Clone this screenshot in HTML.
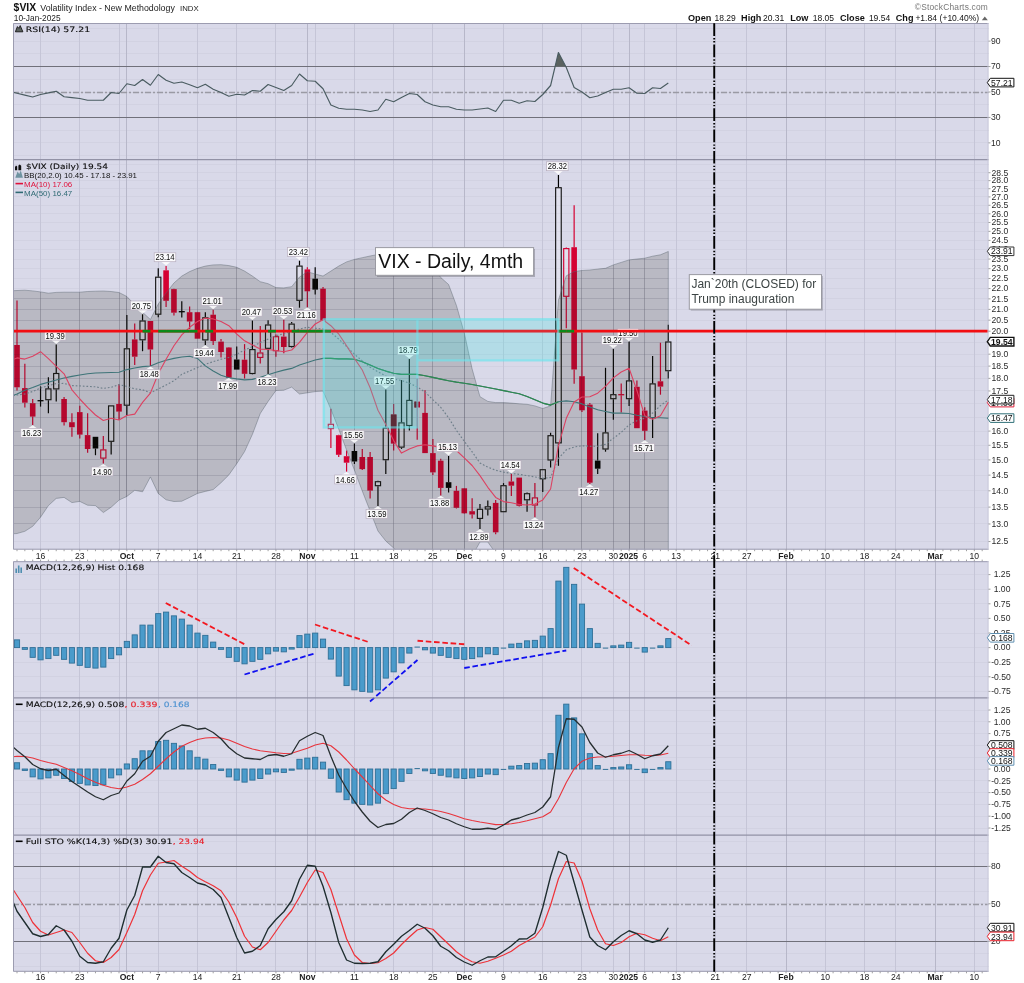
<!DOCTYPE html><html><head><meta charset="utf-8"><title>$VIX</title><style>html,body{margin:0;padding:0;background:#fff}svg{display:block;will-change:transform}</style></head><body><svg width="1024" height="983" viewBox="0 0 1024 983" font-family='"Liberation Sans", Arial, sans-serif'>
<rect width="1024" height="983" fill="#fff"/>
<defs>
<clipPath id="c_rsi"><rect x="13.0" y="23.0" width="975.5" height="137.0"/></clipPath>
<clipPath id="c_main"><rect x="13.0" y="160.0" width="975.5" height="389.6"/></clipPath>
<clipPath id="c_hp"><rect x="13.0" y="561.2" width="975.5" height="137.0"/></clipPath>
<clipPath id="c_mp"><rect x="13.0" y="698.2" width="975.5" height="137.0999999999999"/></clipPath>
<clipPath id="c_sp"><rect x="13.0" y="835.3" width="975.5" height="136.4000000000001"/></clipPath>
</defs>
<rect x="13.0" y="23.0" width="975.5" height="526.6" fill="#d9d9e9"/>
<rect x="13.0" y="561.2" width="975.5" height="410.5" fill="#d9d9e9"/>
<line x1="13.0" x2="988.5" y1="155.50" y2="155.50" stroke="#d2d2e2" stroke-width="1" />
<line x1="13.0" x2="988.5" y1="142.50" y2="142.50" stroke="#d2d2e2" stroke-width="1" />
<line x1="13.0" x2="988.5" y1="130.50" y2="130.50" stroke="#d2d2e2" stroke-width="1" />
<line x1="13.0" x2="988.5" y1="117.50" y2="117.50" stroke="#d2d2e2" stroke-width="1" />
<line x1="13.0" x2="988.5" y1="104.50" y2="104.50" stroke="#d2d2e2" stroke-width="1" />
<line x1="13.0" x2="988.5" y1="92.50" y2="92.50" stroke="#d2d2e2" stroke-width="1" />
<line x1="13.0" x2="988.5" y1="79.50" y2="79.50" stroke="#d2d2e2" stroke-width="1" />
<line x1="13.0" x2="988.5" y1="66.50" y2="66.50" stroke="#d2d2e2" stroke-width="1" />
<line x1="13.0" x2="988.5" y1="53.50" y2="53.50" stroke="#d2d2e2" stroke-width="1" />
<line x1="13.0" x2="988.5" y1="41.50" y2="41.50" stroke="#d2d2e2" stroke-width="1" />
<line x1="13.0" x2="988.5" y1="28.50" y2="28.50" stroke="#d2d2e2" stroke-width="1" />
<line x1="13.0" x2="988.5" y1="541.50" y2="541.50" stroke="#d2d2e2" stroke-width="1" />
<line x1="13.0" x2="988.5" y1="523.50" y2="523.50" stroke="#d2d2e2" stroke-width="1" />
<line x1="13.0" x2="988.5" y1="507.50" y2="507.50" stroke="#d2d2e2" stroke-width="1" />
<line x1="13.0" x2="988.5" y1="490.50" y2="490.50" stroke="#d2d2e2" stroke-width="1" />
<line x1="13.0" x2="988.5" y1="475.50" y2="475.50" stroke="#d2d2e2" stroke-width="1" />
<line x1="13.0" x2="988.5" y1="459.50" y2="459.50" stroke="#d2d2e2" stroke-width="1" />
<line x1="13.0" x2="988.5" y1="445.50" y2="445.50" stroke="#d2d2e2" stroke-width="1" />
<line x1="13.0" x2="988.5" y1="431.50" y2="431.50" stroke="#d2d2e2" stroke-width="1" />
<line x1="13.0" x2="988.5" y1="417.50" y2="417.50" stroke="#d2d2e2" stroke-width="1" />
<line x1="13.0" x2="988.5" y1="403.50" y2="403.50" stroke="#d2d2e2" stroke-width="1" />
<line x1="13.0" x2="988.5" y1="390.50" y2="390.50" stroke="#d2d2e2" stroke-width="1" />
<line x1="13.0" x2="988.5" y1="378.50" y2="378.50" stroke="#d2d2e2" stroke-width="1" />
<line x1="13.0" x2="988.5" y1="366.50" y2="366.50" stroke="#d2d2e2" stroke-width="1" />
<line x1="13.0" x2="988.5" y1="354.50" y2="354.50" stroke="#d2d2e2" stroke-width="1" />
<line x1="13.0" x2="988.5" y1="342.50" y2="342.50" stroke="#d2d2e2" stroke-width="1" />
<line x1="13.0" x2="988.5" y1="331.50" y2="331.50" stroke="#d2d2e2" stroke-width="1" />
<line x1="13.0" x2="988.5" y1="320.50" y2="320.50" stroke="#d2d2e2" stroke-width="1" />
<line x1="13.0" x2="988.5" y1="309.50" y2="309.50" stroke="#d2d2e2" stroke-width="1" />
<line x1="13.0" x2="988.5" y1="298.50" y2="298.50" stroke="#d2d2e2" stroke-width="1" />
<line x1="13.0" x2="988.5" y1="288.50" y2="288.50" stroke="#d2d2e2" stroke-width="1" />
<line x1="13.0" x2="988.5" y1="278.50" y2="278.50" stroke="#d2d2e2" stroke-width="1" />
<line x1="13.0" x2="988.5" y1="268.50" y2="268.50" stroke="#d2d2e2" stroke-width="1" />
<line x1="13.0" x2="988.5" y1="259.50" y2="259.50" stroke="#d2d2e2" stroke-width="1" />
<line x1="13.0" x2="988.5" y1="249.50" y2="249.50" stroke="#d2d2e2" stroke-width="1" />
<line x1="13.0" x2="988.5" y1="240.50" y2="240.50" stroke="#d2d2e2" stroke-width="1" />
<line x1="13.0" x2="988.5" y1="231.50" y2="231.50" stroke="#d2d2e2" stroke-width="1" />
<line x1="13.0" x2="988.5" y1="222.50" y2="222.50" stroke="#d2d2e2" stroke-width="1" />
<line x1="13.0" x2="988.5" y1="213.50" y2="213.50" stroke="#d2d2e2" stroke-width="1" />
<line x1="13.0" x2="988.5" y1="205.50" y2="205.50" stroke="#d2d2e2" stroke-width="1" />
<line x1="13.0" x2="988.5" y1="196.50" y2="196.50" stroke="#d2d2e2" stroke-width="1" />
<line x1="13.0" x2="988.5" y1="188.50" y2="188.50" stroke="#d2d2e2" stroke-width="1" />
<line x1="13.0" x2="988.5" y1="180.50" y2="180.50" stroke="#d2d2e2" stroke-width="1" />
<line x1="13.0" x2="988.5" y1="172.50" y2="172.50" stroke="#d2d2e2" stroke-width="1" />
<line x1="13.0" x2="988.5" y1="164.50" y2="164.50" stroke="#d2d2e2" stroke-width="1" />
<line x1="13.0" x2="988.5" y1="691.50" y2="691.50" stroke="#d2d2e2" stroke-width="1" />
<line x1="13.0" x2="988.5" y1="676.50" y2="676.50" stroke="#d2d2e2" stroke-width="1" />
<line x1="13.0" x2="988.5" y1="662.50" y2="662.50" stroke="#d2d2e2" stroke-width="1" />
<line x1="13.0" x2="988.5" y1="647.50" y2="647.50" stroke="#d2d2e2" stroke-width="1" />
<line x1="13.0" x2="988.5" y1="633.50" y2="633.50" stroke="#d2d2e2" stroke-width="1" />
<line x1="13.0" x2="988.5" y1="618.50" y2="618.50" stroke="#d2d2e2" stroke-width="1" />
<line x1="13.0" x2="988.5" y1="603.50" y2="603.50" stroke="#d2d2e2" stroke-width="1" />
<line x1="13.0" x2="988.5" y1="589.50" y2="589.50" stroke="#d2d2e2" stroke-width="1" />
<line x1="13.0" x2="988.5" y1="574.50" y2="574.50" stroke="#d2d2e2" stroke-width="1" />
<line x1="13.0" x2="988.5" y1="828.50" y2="828.50" stroke="#d2d2e2" stroke-width="1" />
<line x1="13.0" x2="988.5" y1="816.50" y2="816.50" stroke="#d2d2e2" stroke-width="1" />
<line x1="13.0" x2="988.5" y1="804.50" y2="804.50" stroke="#d2d2e2" stroke-width="1" />
<line x1="13.0" x2="988.5" y1="792.50" y2="792.50" stroke="#d2d2e2" stroke-width="1" />
<line x1="13.0" x2="988.5" y1="780.50" y2="780.50" stroke="#d2d2e2" stroke-width="1" />
<line x1="13.0" x2="988.5" y1="769.50" y2="769.50" stroke="#d2d2e2" stroke-width="1" />
<line x1="13.0" x2="988.5" y1="757.50" y2="757.50" stroke="#d2d2e2" stroke-width="1" />
<line x1="13.0" x2="988.5" y1="745.50" y2="745.50" stroke="#d2d2e2" stroke-width="1" />
<line x1="13.0" x2="988.5" y1="733.50" y2="733.50" stroke="#d2d2e2" stroke-width="1" />
<line x1="13.0" x2="988.5" y1="721.50" y2="721.50" stroke="#d2d2e2" stroke-width="1" />
<line x1="13.0" x2="988.5" y1="710.50" y2="710.50" stroke="#d2d2e2" stroke-width="1" />
<line x1="13.0" x2="988.5" y1="966.50" y2="966.50" stroke="#d2d2e2" stroke-width="1" />
<line x1="13.0" x2="988.5" y1="953.50" y2="953.50" stroke="#d2d2e2" stroke-width="1" />
<line x1="13.0" x2="988.5" y1="941.50" y2="941.50" stroke="#d2d2e2" stroke-width="1" />
<line x1="13.0" x2="988.5" y1="928.50" y2="928.50" stroke="#d2d2e2" stroke-width="1" />
<line x1="13.0" x2="988.5" y1="916.50" y2="916.50" stroke="#d2d2e2" stroke-width="1" />
<line x1="13.0" x2="988.5" y1="903.50" y2="903.50" stroke="#d2d2e2" stroke-width="1" />
<line x1="13.0" x2="988.5" y1="891.50" y2="891.50" stroke="#d2d2e2" stroke-width="1" />
<line x1="13.0" x2="988.5" y1="878.50" y2="878.50" stroke="#d2d2e2" stroke-width="1" />
<line x1="13.0" x2="988.5" y1="866.50" y2="866.50" stroke="#d2d2e2" stroke-width="1" />
<line x1="13.0" x2="988.5" y1="853.50" y2="853.50" stroke="#d2d2e2" stroke-width="1" />
<line x1="13.0" x2="988.5" y1="841.50" y2="841.50" stroke="#d2d2e2" stroke-width="1" />
<line x1="40.5" x2="40.5" y1="23.0" y2="549.6" stroke="#c5c5d7" stroke-width="1"/>
<line x1="79.5" x2="79.5" y1="23.0" y2="549.6" stroke="#c5c5d7" stroke-width="1"/>
<line x1="119.5" x2="119.5" y1="23.0" y2="549.6" stroke="#c5c5d7" stroke-width="1"/>
<line x1="158.5" x2="158.5" y1="23.0" y2="549.6" stroke="#c5c5d7" stroke-width="1"/>
<line x1="197.5" x2="197.5" y1="23.0" y2="549.6" stroke="#c5c5d7" stroke-width="1"/>
<line x1="236.5" x2="236.5" y1="23.0" y2="549.6" stroke="#c5c5d7" stroke-width="1"/>
<line x1="275.5" x2="275.5" y1="23.0" y2="549.6" stroke="#c5c5d7" stroke-width="1"/>
<line x1="315.5" x2="315.5" y1="23.0" y2="549.6" stroke="#c5c5d7" stroke-width="1"/>
<line x1="354.5" x2="354.5" y1="23.0" y2="549.6" stroke="#c5c5d7" stroke-width="1"/>
<line x1="393.5" x2="393.5" y1="23.0" y2="549.6" stroke="#c5c5d7" stroke-width="1"/>
<line x1="432.5" x2="432.5" y1="23.0" y2="549.6" stroke="#c5c5d7" stroke-width="1"/>
<line x1="503.5" x2="503.5" y1="23.0" y2="549.6" stroke="#c5c5d7" stroke-width="1"/>
<line x1="542.5" x2="542.5" y1="23.0" y2="549.6" stroke="#c5c5d7" stroke-width="1"/>
<line x1="581.5" x2="581.5" y1="23.0" y2="549.6" stroke="#c5c5d7" stroke-width="1"/>
<line x1="613.5" x2="613.5" y1="23.0" y2="549.6" stroke="#c5c5d7" stroke-width="1"/>
<line x1="644.5" x2="644.5" y1="23.0" y2="549.6" stroke="#c5c5d7" stroke-width="1"/>
<line x1="676.5" x2="676.5" y1="23.0" y2="549.6" stroke="#c5c5d7" stroke-width="1"/>
<line x1="715.5" x2="715.5" y1="23.0" y2="549.6" stroke="#c5c5d7" stroke-width="1"/>
<line x1="746.5" x2="746.5" y1="23.0" y2="549.6" stroke="#c5c5d7" stroke-width="1"/>
<line x1="825.5" x2="825.5" y1="23.0" y2="549.6" stroke="#c5c5d7" stroke-width="1"/>
<line x1="864.5" x2="864.5" y1="23.0" y2="549.6" stroke="#c5c5d7" stroke-width="1"/>
<line x1="895.5" x2="895.5" y1="23.0" y2="549.6" stroke="#c5c5d7" stroke-width="1"/>
<line x1="974.5" x2="974.5" y1="23.0" y2="549.6" stroke="#c5c5d7" stroke-width="1"/>
<line x1="126.5" x2="126.5" y1="23.0" y2="549.6" stroke="#b7b7c9" stroke-width="1"/>
<line x1="307.5" x2="307.5" y1="23.0" y2="549.6" stroke="#b7b7c9" stroke-width="1"/>
<line x1="464.5" x2="464.5" y1="23.0" y2="549.6" stroke="#b7b7c9" stroke-width="1"/>
<line x1="629.5" x2="629.5" y1="23.0" y2="549.6" stroke="#b7b7c9" stroke-width="1"/>
<line x1="786.5" x2="786.5" y1="23.0" y2="549.6" stroke="#b7b7c9" stroke-width="1"/>
<line x1="935.5" x2="935.5" y1="23.0" y2="549.6" stroke="#b7b7c9" stroke-width="1"/>
<line x1="40.5" x2="40.5" y1="561.2" y2="971.7" stroke="#c5c5d7" stroke-width="1"/>
<line x1="79.5" x2="79.5" y1="561.2" y2="971.7" stroke="#c5c5d7" stroke-width="1"/>
<line x1="119.5" x2="119.5" y1="561.2" y2="971.7" stroke="#c5c5d7" stroke-width="1"/>
<line x1="158.5" x2="158.5" y1="561.2" y2="971.7" stroke="#c5c5d7" stroke-width="1"/>
<line x1="197.5" x2="197.5" y1="561.2" y2="971.7" stroke="#c5c5d7" stroke-width="1"/>
<line x1="236.5" x2="236.5" y1="561.2" y2="971.7" stroke="#c5c5d7" stroke-width="1"/>
<line x1="275.5" x2="275.5" y1="561.2" y2="971.7" stroke="#c5c5d7" stroke-width="1"/>
<line x1="315.5" x2="315.5" y1="561.2" y2="971.7" stroke="#c5c5d7" stroke-width="1"/>
<line x1="354.5" x2="354.5" y1="561.2" y2="971.7" stroke="#c5c5d7" stroke-width="1"/>
<line x1="393.5" x2="393.5" y1="561.2" y2="971.7" stroke="#c5c5d7" stroke-width="1"/>
<line x1="432.5" x2="432.5" y1="561.2" y2="971.7" stroke="#c5c5d7" stroke-width="1"/>
<line x1="503.5" x2="503.5" y1="561.2" y2="971.7" stroke="#c5c5d7" stroke-width="1"/>
<line x1="542.5" x2="542.5" y1="561.2" y2="971.7" stroke="#c5c5d7" stroke-width="1"/>
<line x1="581.5" x2="581.5" y1="561.2" y2="971.7" stroke="#c5c5d7" stroke-width="1"/>
<line x1="613.5" x2="613.5" y1="561.2" y2="971.7" stroke="#c5c5d7" stroke-width="1"/>
<line x1="644.5" x2="644.5" y1="561.2" y2="971.7" stroke="#c5c5d7" stroke-width="1"/>
<line x1="676.5" x2="676.5" y1="561.2" y2="971.7" stroke="#c5c5d7" stroke-width="1"/>
<line x1="715.5" x2="715.5" y1="561.2" y2="971.7" stroke="#c5c5d7" stroke-width="1"/>
<line x1="746.5" x2="746.5" y1="561.2" y2="971.7" stroke="#c5c5d7" stroke-width="1"/>
<line x1="825.5" x2="825.5" y1="561.2" y2="971.7" stroke="#c5c5d7" stroke-width="1"/>
<line x1="864.5" x2="864.5" y1="561.2" y2="971.7" stroke="#c5c5d7" stroke-width="1"/>
<line x1="895.5" x2="895.5" y1="561.2" y2="971.7" stroke="#c5c5d7" stroke-width="1"/>
<line x1="974.5" x2="974.5" y1="561.2" y2="971.7" stroke="#c5c5d7" stroke-width="1"/>
<line x1="126.5" x2="126.5" y1="561.2" y2="971.7" stroke="#b7b7c9" stroke-width="1"/>
<line x1="307.5" x2="307.5" y1="561.2" y2="971.7" stroke="#b7b7c9" stroke-width="1"/>
<line x1="464.5" x2="464.5" y1="561.2" y2="971.7" stroke="#b7b7c9" stroke-width="1"/>
<line x1="629.5" x2="629.5" y1="561.2" y2="971.7" stroke="#b7b7c9" stroke-width="1"/>
<line x1="786.5" x2="786.5" y1="561.2" y2="971.7" stroke="#b7b7c9" stroke-width="1"/>
<line x1="935.5" x2="935.5" y1="561.2" y2="971.7" stroke="#b7b7c9" stroke-width="1"/>
<line x1="13.0" x2="988.5" y1="66.50" y2="66.50" stroke="#70707a" stroke-width="1.2" />
<line x1="13.0" x2="988.5" y1="117.50" y2="117.50" stroke="#70707a" stroke-width="1.2" />
<line x1="13.0" x2="988.5" y1="92.50" y2="92.50" stroke="#9a9aa4" stroke-width="1.5" stroke-dasharray="6 2 2 2"/>
<line x1="13.0" x2="988.5" y1="866.50" y2="866.50" stroke="#70707a" stroke-width="1.2" />
<line x1="13.0" x2="988.5" y1="941.50" y2="941.50" stroke="#70707a" stroke-width="1.2" />
<line x1="13.0" x2="988.5" y1="904.50" y2="904.50" stroke="#9a9aa4" stroke-width="1.5" stroke-dasharray="6 2 2 2"/>
<g clip-path="url(#c_rsi)">
<path d="M555.10,66.56 L558.44,52.5 L565.80,66.56 Z" fill="#5a625f"/>
<path d="M13.00,92.25 L17.00,93.20 L24.85,95.10 L32.69,97.00 L40.54,94.50 L48.39,92.90 L56.23,91.25 L64.08,96.75 L71.93,97.60 L79.78,98.50 L87.62,100.25 L95.47,100.25 L103.32,100.25 L111.16,92.50 L119.01,93.50 L126.86,83.75 L134.71,85.50 L142.55,79.50 L150.40,85.25 L158.25,74.50 L166.09,80.25 L173.94,83.25 L181.79,82.00 L189.63,84.75 L197.48,87.75 L205.33,84.25 L213.18,89.25 L221.02,92.50 L228.87,96.25 L236.72,94.25 L244.56,95.00 L252.41,90.50 L260.26,91.25 L268.10,84.50 L275.95,87.50 L283.80,90.50 L291.65,85.50 L299.49,74.00 L307.34,80.75 L315.19,81.25 L323.03,88.75 L330.88,105.00 L338.73,108.25 L346.57,109.25 L354.42,109.25 L362.27,110.00 L370.12,111.50 L377.96,110.00 L385.81,99.25 L393.66,101.75 L401.50,97.50 L409.35,93.50 L417.20,94.50 L425.04,101.75 L432.89,105.00 L440.74,106.75 L448.59,106.75 L456.43,109.25 L464.28,110.00 L472.13,110.00 L479.97,109.00 L487.82,108.00 L495.67,111.50 L503.51,100.25 L511.36,100.25 L519.21,103.25 L527.06,100.75 L534.90,101.50 L542.75,94.50 L550.60,85.50 L558.44,52.50 L566.29,67.50 L574.14,87.50 L581.98,92.00 L589.83,97.75 L597.68,96.00 L605.52,92.50 L613.37,89.25 L621.22,89.25 L629.07,87.75 L636.91,93.25 L644.76,93.50 L652.61,87.75 L660.45,88.50 L668.30,83.00" fill="none" stroke="#4a5c61" stroke-width="1.15" stroke-linejoin="round"/>
</g>
<g clip-path="url(#c_main)">
<line x1="17.00" x2="17.00" y1="300.5" y2="345.0" stroke="#d50032" stroke-width="1.2"/>
<line x1="17.00" x2="17.00" y1="387.3" y2="390.6" stroke="#d50032" stroke-width="1.2"/>
<rect x="14.20" y="345.0" width="5.6" height="42.30" fill="#d50032"/>
<line x1="24.85" x2="24.85" y1="363.8" y2="388.1" stroke="#d50032" stroke-width="1.2"/>
<line x1="24.85" x2="24.85" y1="402.7" y2="407.4" stroke="#d50032" stroke-width="1.2"/>
<rect x="22.05" y="388.1" width="5.6" height="14.60" fill="#d50032"/>
<line x1="32.69" x2="32.69" y1="399.0" y2="403.2" stroke="#d50032" stroke-width="1.2"/>
<line x1="32.69" x2="32.69" y1="416.6" y2="425.0" stroke="#d50032" stroke-width="1.2"/>
<rect x="29.89" y="403.2" width="5.6" height="13.40" fill="#d50032"/>
<line x1="40.54" x2="40.54" y1="386.4" y2="400.7" stroke="#000" stroke-width="1.2"/>
<line x1="40.54" x2="40.54" y1="400.7" y2="406.6" stroke="#000" stroke-width="1.2"/>
<line x1="37.54" x2="43.54" y1="400.70" y2="400.70" stroke="#000" stroke-width="1.3"/>
<line x1="48.39" x2="48.39" y1="377.2" y2="388.4" stroke="#000" stroke-width="1.2"/>
<line x1="48.39" x2="48.39" y1="400.2" y2="413.3" stroke="#000" stroke-width="1.2"/>
<rect x="45.79" y="388.9" width="5.199999999999999" height="10.80" fill="rgba(255,255,255,0.18)" stroke="#161616" stroke-width="1.15"/>
<line x1="56.23" x2="56.23" y1="344.5" y2="373.0" stroke="#000" stroke-width="1.2"/>
<line x1="56.23" x2="56.23" y1="389.4" y2="401.5" stroke="#000" stroke-width="1.2"/>
<rect x="53.64" y="373.5" width="5.199999999999999" height="15.40" fill="rgba(255,255,255,0.18)" stroke="#161616" stroke-width="1.15"/>
<line x1="64.08" x2="64.08" y1="397.0" y2="399.0" stroke="#d50032" stroke-width="1.2"/>
<line x1="64.08" x2="64.08" y1="422.2" y2="425.5" stroke="#d50032" stroke-width="1.2"/>
<rect x="61.28" y="399.0" width="5.6" height="23.20" fill="#d50032"/>
<line x1="71.93" x2="71.93" y1="413.3" y2="422.2" stroke="#d50032" stroke-width="1.2"/>
<line x1="71.93" x2="71.93" y1="427.2" y2="436.8" stroke="#d50032" stroke-width="1.2"/>
<rect x="69.13" y="422.2" width="5.6" height="5.00" fill="#d50032"/>
<line x1="79.78" x2="79.78" y1="405.7" y2="412.1" stroke="#d50032" stroke-width="1.2"/>
<line x1="79.78" x2="79.78" y1="434.6" y2="438.4" stroke="#d50032" stroke-width="1.2"/>
<rect x="76.98" y="412.1" width="5.6" height="22.50" fill="#d50032"/>
<line x1="87.62" x2="87.62" y1="413.3" y2="435.1" stroke="#d50032" stroke-width="1.2"/>
<line x1="87.62" x2="87.62" y1="449.0" y2="452.7" stroke="#d50032" stroke-width="1.2"/>
<rect x="84.82" y="435.1" width="5.6" height="13.90" fill="#d50032"/>
<line x1="95.47" x2="95.47" y1="436.8" y2="436.8" stroke="#000" stroke-width="1.2"/>
<line x1="95.47" x2="95.47" y1="448.5" y2="455.2" stroke="#000" stroke-width="1.2"/>
<rect x="92.67" y="436.8" width="5.6" height="11.70" fill="#000"/>
<line x1="103.32" x2="103.32" y1="435.9" y2="449.4" stroke="#d50032" stroke-width="1.2"/>
<line x1="103.32" x2="103.32" y1="458.6" y2="463.6" stroke="#d50032" stroke-width="1.2"/>
<rect x="100.72" y="449.9" width="5.199999999999999" height="8.20" fill="rgba(255,255,255,0.18)" stroke="#d50032" stroke-width="1.15"/>
<line x1="111.16" x2="111.16" y1="405.4" y2="405.4" stroke="#000" stroke-width="1.2"/>
<line x1="111.16" x2="111.16" y1="441.8" y2="454.4" stroke="#000" stroke-width="1.2"/>
<rect x="108.56" y="405.9" width="5.199999999999999" height="35.40" fill="rgba(255,255,255,0.18)" stroke="#161616" stroke-width="1.15"/>
<line x1="119.01" x2="119.01" y1="383.9" y2="404.0" stroke="#d50032" stroke-width="1.2"/>
<line x1="119.01" x2="119.01" y1="411.6" y2="420.0" stroke="#d50032" stroke-width="1.2"/>
<rect x="116.21" y="404.0" width="5.6" height="7.60" fill="#d50032"/>
<line x1="126.86" x2="126.86" y1="315.1" y2="348.3" stroke="#000" stroke-width="1.2"/>
<line x1="126.86" x2="126.86" y1="405.7" y2="415.8" stroke="#000" stroke-width="1.2"/>
<rect x="124.26" y="348.8" width="5.199999999999999" height="56.40" fill="rgba(255,255,255,0.18)" stroke="#161616" stroke-width="1.15"/>
<line x1="134.71" x2="134.71" y1="323.5" y2="339.4" stroke="#d50032" stroke-width="1.2"/>
<line x1="134.71" x2="134.71" y1="356.7" y2="365.1" stroke="#d50032" stroke-width="1.2"/>
<rect x="131.91" y="339.4" width="5.6" height="17.30" fill="#d50032"/>
<line x1="142.55" x2="142.55" y1="314.3" y2="320.5" stroke="#000" stroke-width="1.2"/>
<line x1="142.55" x2="142.55" y1="340.3" y2="351.2" stroke="#000" stroke-width="1.2"/>
<rect x="139.95" y="321.0" width="5.199999999999999" height="18.80" fill="rgba(255,255,255,0.18)" stroke="#161616" stroke-width="1.15"/>
<line x1="150.40" x2="150.40" y1="321.0" y2="321.0" stroke="#d50032" stroke-width="1.2"/>
<line x1="150.40" x2="150.40" y1="349.5" y2="366.3" stroke="#d50032" stroke-width="1.2"/>
<rect x="147.60" y="321.0" width="5.6" height="28.50" fill="#d50032"/>
<line x1="158.25" x2="158.25" y1="268.3" y2="276.7" stroke="#000" stroke-width="1.2"/>
<line x1="158.25" x2="158.25" y1="314.7" y2="317.3" stroke="#000" stroke-width="1.2"/>
<rect x="155.65" y="277.2" width="5.199999999999999" height="37.00" fill="rgba(255,255,255,0.18)" stroke="#161616" stroke-width="1.15"/>
<line x1="166.09" x2="166.09" y1="266.1" y2="270.3" stroke="#d50032" stroke-width="1.2"/>
<line x1="166.09" x2="166.09" y1="300.8" y2="306.9" stroke="#d50032" stroke-width="1.2"/>
<rect x="163.29" y="270.3" width="5.6" height="30.50" fill="#d50032"/>
<line x1="173.94" x2="173.94" y1="288.7" y2="289.1" stroke="#d50032" stroke-width="1.2"/>
<line x1="173.94" x2="173.94" y1="312.7" y2="315.6" stroke="#d50032" stroke-width="1.2"/>
<rect x="171.14" y="289.1" width="5.6" height="23.60" fill="#d50032"/>
<line x1="181.79" x2="181.79" y1="301.3" y2="311.7" stroke="#000" stroke-width="1.2"/>
<line x1="181.79" x2="181.79" y1="311.7" y2="317.6" stroke="#000" stroke-width="1.2"/>
<line x1="178.79" x2="184.79" y1="311.70" y2="311.70" stroke="#000" stroke-width="1.3"/>
<line x1="189.63" x2="189.63" y1="306.4" y2="312.2" stroke="#d50032" stroke-width="1.2"/>
<line x1="189.63" x2="189.63" y1="321.5" y2="329.0" stroke="#d50032" stroke-width="1.2"/>
<rect x="186.83" y="312.2" width="5.6" height="9.30" fill="#d50032"/>
<line x1="197.48" x2="197.48" y1="311.9" y2="312.2" stroke="#d50032" stroke-width="1.2"/>
<line x1="197.48" x2="197.48" y1="338.7" y2="338.7" stroke="#d50032" stroke-width="1.2"/>
<rect x="194.68" y="312.2" width="5.6" height="26.50" fill="#d50032"/>
<line x1="205.33" x2="205.33" y1="312.2" y2="317.3" stroke="#000" stroke-width="1.2"/>
<line x1="205.33" x2="205.33" y1="340.4" y2="345.0" stroke="#000" stroke-width="1.2"/>
<rect x="202.73" y="317.8" width="5.199999999999999" height="22.10" fill="rgba(255,255,255,0.18)" stroke="#161616" stroke-width="1.15"/>
<line x1="213.18" x2="213.18" y1="309.7" y2="314.7" stroke="#d50032" stroke-width="1.2"/>
<line x1="213.18" x2="213.18" y1="341.1" y2="345.0" stroke="#d50032" stroke-width="1.2"/>
<rect x="210.38" y="314.7" width="5.6" height="26.40" fill="#d50032"/>
<line x1="221.02" x2="221.02" y1="339.1" y2="341.6" stroke="#d50032" stroke-width="1.2"/>
<line x1="221.02" x2="221.02" y1="352.0" y2="357.5" stroke="#d50032" stroke-width="1.2"/>
<rect x="218.22" y="341.6" width="5.6" height="10.40" fill="#d50032"/>
<line x1="228.87" x2="228.87" y1="347.0" y2="347.5" stroke="#d50032" stroke-width="1.2"/>
<line x1="228.87" x2="228.87" y1="377.7" y2="377.7" stroke="#d50032" stroke-width="1.2"/>
<rect x="226.07" y="347.5" width="5.6" height="30.20" fill="#d50032"/>
<line x1="236.72" x2="236.72" y1="346.6" y2="359.5" stroke="#000" stroke-width="1.2"/>
<line x1="236.72" x2="236.72" y1="369.6" y2="369.6" stroke="#000" stroke-width="1.2"/>
<rect x="233.92" y="359.5" width="5.6" height="10.10" fill="#000"/>
<line x1="244.56" x2="244.56" y1="344.1" y2="359.7" stroke="#d50032" stroke-width="1.2"/>
<line x1="244.56" x2="244.56" y1="373.8" y2="378.5" stroke="#d50032" stroke-width="1.2"/>
<rect x="241.76" y="359.7" width="5.6" height="14.10" fill="#d50032"/>
<line x1="252.41" x2="252.41" y1="320.6" y2="349.1" stroke="#000" stroke-width="1.2"/>
<line x1="252.41" x2="252.41" y1="374.0" y2="374.3" stroke="#000" stroke-width="1.2"/>
<rect x="249.81" y="349.6" width="5.199999999999999" height="23.90" fill="rgba(255,255,255,0.18)" stroke="#161616" stroke-width="1.15"/>
<line x1="260.26" x2="260.26" y1="326.0" y2="352.5" stroke="#d50032" stroke-width="1.2"/>
<line x1="260.26" x2="260.26" y1="357.9" y2="363.4" stroke="#d50032" stroke-width="1.2"/>
<rect x="257.66" y="353.0" width="5.199999999999999" height="4.40" fill="rgba(255,255,255,0.18)" stroke="#d50032" stroke-width="1.15"/>
<line x1="268.10" x2="268.10" y1="320.3" y2="324.5" stroke="#000" stroke-width="1.2"/>
<line x1="268.10" x2="268.10" y1="348.8" y2="374.0" stroke="#000" stroke-width="1.2"/>
<rect x="265.50" y="325.0" width="5.199999999999999" height="23.30" fill="rgba(255,255,255,0.18)" stroke="#161616" stroke-width="1.15"/>
<line x1="275.95" x2="275.95" y1="334.4" y2="336.2" stroke="#d50032" stroke-width="1.2"/>
<line x1="275.95" x2="275.95" y1="351.2" y2="356.7" stroke="#d50032" stroke-width="1.2"/>
<rect x="273.35" y="336.7" width="5.199999999999999" height="14.00" fill="rgba(255,255,255,0.18)" stroke="#d50032" stroke-width="1.15"/>
<line x1="283.80" x2="283.80" y1="319.8" y2="336.6" stroke="#d50032" stroke-width="1.2"/>
<line x1="283.80" x2="283.80" y1="347.0" y2="353.3" stroke="#d50032" stroke-width="1.2"/>
<rect x="281.00" y="336.6" width="5.6" height="10.40" fill="#d50032"/>
<line x1="291.65" x2="291.65" y1="322.0" y2="323.6" stroke="#000" stroke-width="1.2"/>
<line x1="291.65" x2="291.65" y1="347.0" y2="347.5" stroke="#000" stroke-width="1.2"/>
<rect x="289.05" y="324.1" width="5.199999999999999" height="22.40" fill="rgba(255,255,255,0.18)" stroke="#161616" stroke-width="1.15"/>
<line x1="299.49" x2="299.49" y1="260.7" y2="265.6" stroke="#000" stroke-width="1.2"/>
<line x1="299.49" x2="299.49" y1="300.8" y2="307.7" stroke="#000" stroke-width="1.2"/>
<rect x="296.89" y="266.1" width="5.199999999999999" height="34.20" fill="rgba(255,255,255,0.18)" stroke="#161616" stroke-width="1.15"/>
<line x1="307.34" x2="307.34" y1="267.3" y2="269.4" stroke="#d50032" stroke-width="1.2"/>
<line x1="307.34" x2="307.34" y1="291.3" y2="307.2" stroke="#d50032" stroke-width="1.2"/>
<rect x="304.54" y="269.4" width="5.6" height="21.90" fill="#d50032"/>
<line x1="315.19" x2="315.19" y1="267.3" y2="278.7" stroke="#000" stroke-width="1.2"/>
<line x1="315.19" x2="315.19" y1="289.6" y2="294.6" stroke="#000" stroke-width="1.2"/>
<rect x="312.39" y="278.7" width="5.6" height="10.90" fill="#000"/>
<line x1="323.03" x2="323.03" y1="287.0" y2="288.7" stroke="#d50032" stroke-width="1.2"/>
<line x1="323.03" x2="323.03" y1="320.6" y2="320.6" stroke="#d50032" stroke-width="1.2"/>
<rect x="320.23" y="288.7" width="5.6" height="31.90" fill="#d50032"/>
<line x1="330.88" x2="330.88" y1="408.7" y2="423.8" stroke="#d50032" stroke-width="1.2"/>
<line x1="330.88" x2="330.88" y1="429.1" y2="448.1" stroke="#d50032" stroke-width="1.2"/>
<rect x="328.28" y="424.3" width="5.199999999999999" height="4.30" fill="rgba(255,255,255,0.18)" stroke="#d50032" stroke-width="1.15"/>
<line x1="338.73" x2="338.73" y1="434.7" y2="435.2" stroke="#d50032" stroke-width="1.2"/>
<line x1="338.73" x2="338.73" y1="454.8" y2="457.0" stroke="#d50032" stroke-width="1.2"/>
<rect x="335.93" y="435.2" width="5.6" height="19.60" fill="#d50032"/>
<line x1="346.57" x2="346.57" y1="450.6" y2="456.2" stroke="#d50032" stroke-width="1.2"/>
<line x1="346.57" x2="346.57" y1="462.7" y2="471.6" stroke="#d50032" stroke-width="1.2"/>
<rect x="343.77" y="456.2" width="5.6" height="6.50" fill="#d50032"/>
<line x1="354.42" x2="354.42" y1="443.6" y2="451.0" stroke="#000" stroke-width="1.2"/>
<line x1="354.42" x2="354.42" y1="461.5" y2="464.0" stroke="#000" stroke-width="1.2"/>
<rect x="351.62" y="451.0" width="5.6" height="10.50" fill="#000"/>
<line x1="362.27" x2="362.27" y1="448.9" y2="457.0" stroke="#d50032" stroke-width="1.2"/>
<line x1="362.27" x2="362.27" y1="469.1" y2="469.9" stroke="#d50032" stroke-width="1.2"/>
<rect x="359.47" y="457.0" width="5.6" height="12.10" fill="#d50032"/>
<line x1="370.12" x2="370.12" y1="452.0" y2="457.0" stroke="#d50032" stroke-width="1.2"/>
<line x1="370.12" x2="370.12" y1="490.6" y2="498.4" stroke="#d50032" stroke-width="1.2"/>
<rect x="367.31" y="457.0" width="5.6" height="33.60" fill="#d50032"/>
<line x1="377.96" x2="377.96" y1="480.8" y2="481.2" stroke="#000" stroke-width="1.2"/>
<line x1="377.96" x2="377.96" y1="486.2" y2="506.0" stroke="#000" stroke-width="1.2"/>
<rect x="375.36" y="481.7" width="5.199999999999999" height="4.00" fill="rgba(255,255,255,0.18)" stroke="#161616" stroke-width="1.15"/>
<line x1="385.81" x2="385.81" y1="389.4" y2="427.6" stroke="#000" stroke-width="1.2"/>
<line x1="385.81" x2="385.81" y1="460.2" y2="474.1" stroke="#000" stroke-width="1.2"/>
<rect x="383.21" y="428.1" width="5.199999999999999" height="31.60" fill="rgba(255,255,255,0.18)" stroke="#161616" stroke-width="1.15"/>
<line x1="393.66" x2="393.66" y1="404.0" y2="414.5" stroke="#d50032" stroke-width="1.2"/>
<line x1="393.66" x2="393.66" y1="443.6" y2="450.6" stroke="#d50032" stroke-width="1.2"/>
<rect x="390.86" y="414.5" width="5.6" height="29.10" fill="#d50032"/>
<line x1="401.50" x2="401.50" y1="380.1" y2="422.4" stroke="#000" stroke-width="1.2"/>
<line x1="401.50" x2="401.50" y1="447.6" y2="448.9" stroke="#000" stroke-width="1.2"/>
<rect x="398.90" y="422.9" width="5.199999999999999" height="24.20" fill="rgba(255,255,255,0.18)" stroke="#161616" stroke-width="1.15"/>
<line x1="409.35" x2="409.35" y1="359.1" y2="399.9" stroke="#000" stroke-width="1.2"/>
<line x1="409.35" x2="409.35" y1="426.0" y2="430.5" stroke="#000" stroke-width="1.2"/>
<rect x="406.75" y="400.4" width="5.199999999999999" height="25.10" fill="rgba(255,255,255,0.18)" stroke="#161616" stroke-width="1.15"/>
<line x1="417.20" x2="417.20" y1="378.5" y2="401.6" stroke="#d50032" stroke-width="1.2"/>
<line x1="417.20" x2="417.20" y1="407.5" y2="439.7" stroke="#d50032" stroke-width="1.2"/>
<rect x="414.40" y="401.6" width="5.6" height="5.90" fill="#d50032"/>
<line x1="425.04" x2="425.04" y1="390.2" y2="412.9" stroke="#d50032" stroke-width="1.2"/>
<line x1="425.04" x2="425.04" y1="453.1" y2="453.1" stroke="#d50032" stroke-width="1.2"/>
<rect x="422.24" y="412.9" width="5.6" height="40.20" fill="#d50032"/>
<line x1="432.89" x2="432.89" y1="438.9" y2="453.1" stroke="#d50032" stroke-width="1.2"/>
<line x1="432.89" x2="432.89" y1="472.4" y2="475.0" stroke="#d50032" stroke-width="1.2"/>
<rect x="430.09" y="453.1" width="5.6" height="19.30" fill="#d50032"/>
<line x1="440.74" x2="440.74" y1="458.8" y2="460.7" stroke="#d50032" stroke-width="1.2"/>
<line x1="440.74" x2="440.74" y1="487.9" y2="495.4" stroke="#d50032" stroke-width="1.2"/>
<rect x="437.94" y="460.7" width="5.6" height="27.20" fill="#d50032"/>
<line x1="448.59" x2="448.59" y1="456.0" y2="482.2" stroke="#000" stroke-width="1.2"/>
<line x1="448.59" x2="448.59" y1="487.9" y2="492.5" stroke="#000" stroke-width="1.2"/>
<rect x="445.79" y="482.2" width="5.6" height="5.70" fill="#000"/>
<line x1="456.43" x2="456.43" y1="485.9" y2="490.8" stroke="#d50032" stroke-width="1.2"/>
<line x1="456.43" x2="456.43" y1="507.8" y2="508.5" stroke="#d50032" stroke-width="1.2"/>
<rect x="453.63" y="490.8" width="5.6" height="17.00" fill="#d50032"/>
<line x1="464.28" x2="464.28" y1="487.9" y2="488.3" stroke="#d50032" stroke-width="1.2"/>
<line x1="464.28" x2="464.28" y1="513.3" y2="513.7" stroke="#d50032" stroke-width="1.2"/>
<rect x="461.48" y="488.3" width="5.6" height="25.00" fill="#d50032"/>
<line x1="472.13" x2="472.13" y1="498.2" y2="511.2" stroke="#d50032" stroke-width="1.2"/>
<line x1="472.13" x2="472.13" y1="514.5" y2="518.4" stroke="#d50032" stroke-width="1.2"/>
<rect x="469.33" y="511.2" width="5.6" height="3.30" fill="#d50032"/>
<line x1="479.97" x2="479.97" y1="504.1" y2="508.8" stroke="#000" stroke-width="1.2"/>
<line x1="479.97" x2="479.97" y1="518.9" y2="528.9" stroke="#000" stroke-width="1.2"/>
<rect x="477.37" y="509.3" width="5.199999999999999" height="9.10" fill="rgba(255,255,255,0.18)" stroke="#161616" stroke-width="1.15"/>
<line x1="487.82" x2="487.82" y1="500.4" y2="506.3" stroke="#000" stroke-width="1.2"/>
<line x1="487.82" x2="487.82" y1="509.5" y2="515.5" stroke="#000" stroke-width="1.2"/>
<rect x="485.22" y="506.8" width="5.199999999999999" height="2.20" fill="rgba(255,255,255,0.18)" stroke="#161616" stroke-width="1.15"/>
<line x1="495.67" x2="495.67" y1="499.9" y2="502.9" stroke="#d50032" stroke-width="1.2"/>
<line x1="495.67" x2="495.67" y1="532.3" y2="534.3" stroke="#d50032" stroke-width="1.2"/>
<rect x="492.87" y="502.9" width="5.6" height="29.40" fill="#d50032"/>
<line x1="503.51" x2="503.51" y1="483.1" y2="485.2" stroke="#000" stroke-width="1.2"/>
<line x1="503.51" x2="503.51" y1="512.2" y2="512.2" stroke="#000" stroke-width="1.2"/>
<rect x="500.91" y="485.7" width="5.199999999999999" height="26.00" fill="rgba(255,255,255,0.18)" stroke="#161616" stroke-width="1.15"/>
<line x1="511.36" x2="511.36" y1="473.9" y2="481.5" stroke="#d50032" stroke-width="1.2"/>
<line x1="511.36" x2="511.36" y1="485.7" y2="496.1" stroke="#d50032" stroke-width="1.2"/>
<rect x="508.56" y="481.5" width="5.6" height="4.20" fill="#d50032"/>
<line x1="519.21" x2="519.21" y1="477.6" y2="477.6" stroke="#d50032" stroke-width="1.2"/>
<line x1="519.21" x2="519.21" y1="505.8" y2="506.6" stroke="#d50032" stroke-width="1.2"/>
<rect x="516.41" y="477.6" width="5.6" height="28.20" fill="#d50032"/>
<line x1="527.06" x2="527.06" y1="492.4" y2="493.2" stroke="#000" stroke-width="1.2"/>
<line x1="527.06" x2="527.06" y1="500.3" y2="511.7" stroke="#000" stroke-width="1.2"/>
<rect x="524.46" y="493.7" width="5.199999999999999" height="6.10" fill="rgba(255,255,255,0.18)" stroke="#161616" stroke-width="1.15"/>
<line x1="534.90" x2="534.90" y1="483.1" y2="497.4" stroke="#d50032" stroke-width="1.2"/>
<line x1="534.90" x2="534.90" y1="505.5" y2="517.2" stroke="#d50032" stroke-width="1.2"/>
<rect x="532.30" y="497.9" width="5.199999999999999" height="7.10" fill="rgba(255,255,255,0.18)" stroke="#d50032" stroke-width="1.15"/>
<line x1="542.75" x2="542.75" y1="469.0" y2="469.2" stroke="#000" stroke-width="1.2"/>
<line x1="542.75" x2="542.75" y1="479.3" y2="492.0" stroke="#000" stroke-width="1.2"/>
<rect x="540.15" y="469.7" width="5.199999999999999" height="9.10" fill="rgba(255,255,255,0.18)" stroke="#161616" stroke-width="1.15"/>
<line x1="550.60" x2="550.60" y1="432.8" y2="435.2" stroke="#000" stroke-width="1.2"/>
<line x1="550.60" x2="550.60" y1="460.5" y2="467.6" stroke="#000" stroke-width="1.2"/>
<rect x="548.00" y="435.7" width="5.199999999999999" height="24.30" fill="rgba(255,255,255,0.18)" stroke="#161616" stroke-width="1.15"/>
<line x1="558.44" x2="558.44" y1="175.1" y2="187.2" stroke="#000" stroke-width="1.2"/>
<line x1="558.44" x2="558.44" y1="443.4" y2="465.8" stroke="#000" stroke-width="1.2"/>
<rect x="555.64" y="187.7" width="5.6" height="255.20" fill="rgba(255,255,255,0.18)" stroke="#161616" stroke-width="1.15"/>
<line x1="566.29" x2="566.29" y1="247.5" y2="248.1" stroke="#d50032" stroke-width="1.2"/>
<line x1="566.29" x2="566.29" y1="296.8" y2="328.3" stroke="#d50032" stroke-width="1.2"/>
<rect x="563.69" y="248.6" width="5.199999999999999" height="47.70" fill="rgba(255,255,255,0.18)" stroke="#d50032" stroke-width="1.15"/>
<line x1="574.14" x2="574.14" y1="205.3" y2="247.2" stroke="#d50032" stroke-width="1.2"/>
<line x1="574.14" x2="574.14" y1="369.5" y2="383.7" stroke="#d50032" stroke-width="1.2"/>
<rect x="571.34" y="247.2" width="5.6" height="122.30" fill="#d50032"/>
<line x1="581.98" x2="581.98" y1="332.6" y2="376.2" stroke="#d50032" stroke-width="1.2"/>
<line x1="581.98" x2="581.98" y1="410.3" y2="412.0" stroke="#d50032" stroke-width="1.2"/>
<rect x="579.18" y="376.2" width="5.6" height="34.10" fill="#d50032"/>
<line x1="589.83" x2="589.83" y1="403.0" y2="404.6" stroke="#d50032" stroke-width="1.2"/>
<line x1="589.83" x2="589.83" y1="482.7" y2="484.0" stroke="#d50032" stroke-width="1.2"/>
<rect x="587.03" y="404.6" width="5.6" height="78.10" fill="#d50032"/>
<line x1="597.68" x2="597.68" y1="433.3" y2="460.6" stroke="#000" stroke-width="1.2"/>
<line x1="597.68" x2="597.68" y1="468.7" y2="474.0" stroke="#000" stroke-width="1.2"/>
<rect x="594.88" y="460.6" width="5.6" height="8.10" fill="#000"/>
<line x1="605.52" x2="605.52" y1="367.8" y2="432.4" stroke="#000" stroke-width="1.2"/>
<line x1="605.52" x2="605.52" y1="449.5" y2="451.7" stroke="#000" stroke-width="1.2"/>
<rect x="602.93" y="432.9" width="5.199999999999999" height="16.10" fill="rgba(255,255,255,0.18)" stroke="#161616" stroke-width="1.15"/>
<line x1="613.37" x2="613.37" y1="348.9" y2="394.2" stroke="#000" stroke-width="1.2"/>
<line x1="613.37" x2="613.37" y1="399.2" y2="419.8" stroke="#000" stroke-width="1.2"/>
<rect x="610.77" y="394.7" width="5.199999999999999" height="4.00" fill="rgba(255,255,255,0.18)" stroke="#161616" stroke-width="1.15"/>
<line x1="621.22" x2="621.22" y1="383.4" y2="394.2" stroke="#d50032" stroke-width="1.2"/>
<line x1="621.22" x2="621.22" y1="395.2" y2="412.6" stroke="#d50032" stroke-width="1.2"/>
<line x1="618.22" x2="624.22" y1="394.70" y2="394.70" stroke="#d50032" stroke-width="1.3"/>
<line x1="629.07" x2="629.07" y1="341.8" y2="380.4" stroke="#000" stroke-width="1.2"/>
<line x1="629.07" x2="629.07" y1="399.2" y2="405.9" stroke="#000" stroke-width="1.2"/>
<rect x="626.47" y="380.9" width="5.199999999999999" height="17.80" fill="rgba(255,255,255,0.18)" stroke="#161616" stroke-width="1.15"/>
<line x1="636.91" x2="636.91" y1="380.4" y2="386.8" stroke="#d50032" stroke-width="1.2"/>
<line x1="636.91" x2="636.91" y1="428.2" y2="428.2" stroke="#d50032" stroke-width="1.2"/>
<rect x="634.11" y="386.8" width="5.6" height="41.40" fill="#d50032"/>
<line x1="644.76" x2="644.76" y1="407.3" y2="410.6" stroke="#d50032" stroke-width="1.2"/>
<line x1="644.76" x2="644.76" y1="430.8" y2="440.0" stroke="#d50032" stroke-width="1.2"/>
<rect x="641.96" y="410.6" width="5.6" height="20.20" fill="#d50032"/>
<line x1="652.61" x2="652.61" y1="356.1" y2="383.4" stroke="#000" stroke-width="1.2"/>
<line x1="652.61" x2="652.61" y1="418.2" y2="438.0" stroke="#000" stroke-width="1.2"/>
<rect x="650.01" y="383.9" width="5.199999999999999" height="33.80" fill="rgba(255,255,255,0.18)" stroke="#161616" stroke-width="1.15"/>
<line x1="660.45" x2="660.45" y1="342.7" y2="381.3" stroke="#d50032" stroke-width="1.2"/>
<line x1="660.45" x2="660.45" y1="386.6" y2="394.7" stroke="#d50032" stroke-width="1.2"/>
<rect x="657.65" y="381.3" width="5.6" height="5.30" fill="#d50032"/>
<line x1="668.30" x2="668.30" y1="324.7" y2="341.5" stroke="#000" stroke-width="1.2"/>
<line x1="668.30" x2="668.30" y1="371.2" y2="378.4" stroke="#000" stroke-width="1.2"/>
<rect x="665.70" y="342.0" width="5.199999999999999" height="28.70" fill="rgba(255,255,255,0.18)" stroke="#161616" stroke-width="1.15"/>
<clipPath id="bbclip"><path d="M13.00,290.70 L17.00,290.50 L24.85,290.20 L32.69,290.90 L40.54,291.90 L48.39,293.20 L56.23,292.40 L64.08,292.20 L71.93,292.20 L79.78,292.20 L87.62,291.50 L95.47,291.20 L103.32,291.00 L111.16,291.50 L119.01,292.50 L126.86,296.50 L134.71,304.80 L142.55,312.30 L150.40,319.50 L158.25,304.00 L166.09,293.00 L173.94,283.00 L181.79,276.10 L189.63,271.60 L197.48,268.30 L205.33,266.10 L213.18,264.90 L221.02,264.70 L228.87,265.60 L236.72,267.30 L244.56,271.10 L252.41,276.10 L260.26,281.70 L268.10,283.70 L275.95,287.60 L283.80,287.90 L291.65,286.70 L299.49,277.00 L307.34,271.80 L315.19,274.00 L323.03,276.10 L330.88,271.10 L338.73,266.10 L346.57,261.90 L354.42,259.40 L362.27,257.70 L370.12,256.00 L377.96,254.50 L385.81,253.50 L393.66,253.00 L401.50,253.00 L409.35,254.00 L417.20,256.00 L425.04,260.00 L432.89,267.00 L440.74,277.50 L448.59,284.50 L456.43,305.50 L464.28,333.00 L472.13,369.00 L479.97,396.70 L487.82,401.40 L495.67,402.60 L503.51,402.60 L511.36,403.10 L519.21,403.80 L527.06,404.30 L534.90,405.90 L542.75,408.50 L550.60,405.90 L558.44,300.00 L566.29,275.80 L574.14,271.60 L581.98,270.50 L589.83,270.00 L597.68,269.10 L605.52,268.30 L613.37,264.90 L621.22,262.40 L629.07,259.90 L636.91,259.00 L644.76,258.20 L652.61,256.20 L660.45,254.80 L668.30,251.50 L668.30,560.00 L668.30,560.00 L660.45,560.00 L652.61,560.00 L644.76,560.00 L636.91,560.00 L629.07,560.00 L621.22,560.00 L613.37,560.00 L605.52,560.00 L597.68,560.00 L589.83,560.00 L581.98,560.00 L574.14,560.00 L566.29,560.00 L558.44,560.00 L550.60,560.00 L542.75,560.00 L534.90,560.00 L527.06,560.00 L519.21,560.00 L511.36,560.00 L503.51,560.00 L495.67,553.00 L487.82,542.00 L479.97,542.00 L472.13,556.00 L464.28,560.00 L456.43,560.00 L448.59,560.00 L440.74,560.00 L432.89,560.00 L425.04,560.00 L417.20,560.00 L409.35,560.00 L401.50,556.00 L393.66,548.00 L385.81,541.00 L377.96,531.00 L370.12,511.00 L362.27,491.00 L354.42,470.00 L346.57,450.00 L338.73,429.10 L330.88,409.20 L323.03,391.10 L315.19,391.60 L307.34,392.80 L299.49,394.00 L291.65,387.10 L283.80,390.20 L275.95,390.50 L268.10,401.40 L260.26,413.50 L252.41,434.30 L244.56,451.60 L236.72,463.70 L228.87,474.90 L221.02,482.70 L213.18,489.60 L205.33,491.40 L197.48,493.40 L189.63,497.40 L181.79,501.20 L173.94,501.50 L166.09,499.80 L158.25,493.50 L150.40,476.90 L142.55,491.80 L134.71,490.30 L126.86,496.40 L119.01,500.10 L111.16,507.20 L103.32,512.50 L95.47,505.60 L87.62,505.20 L79.78,501.40 L71.93,502.60 L64.08,497.40 L56.23,498.40 L48.39,505.60 L40.54,517.20 L32.69,526.30 L24.85,531.30 L17.00,533.50 L13.00,533.80Z"/></clipPath>
<path d="M13.00,290.70 L17.00,290.50 L24.85,290.20 L32.69,290.90 L40.54,291.90 L48.39,293.20 L56.23,292.40 L64.08,292.20 L71.93,292.20 L79.78,292.20 L87.62,291.50 L95.47,291.20 L103.32,291.00 L111.16,291.50 L119.01,292.50 L126.86,296.50 L134.71,304.80 L142.55,312.30 L150.40,319.50 L158.25,304.00 L166.09,293.00 L173.94,283.00 L181.79,276.10 L189.63,271.60 L197.48,268.30 L205.33,266.10 L213.18,264.90 L221.02,264.70 L228.87,265.60 L236.72,267.30 L244.56,271.10 L252.41,276.10 L260.26,281.70 L268.10,283.70 L275.95,287.60 L283.80,287.90 L291.65,286.70 L299.49,277.00 L307.34,271.80 L315.19,274.00 L323.03,276.10 L330.88,271.10 L338.73,266.10 L346.57,261.90 L354.42,259.40 L362.27,257.70 L370.12,256.00 L377.96,254.50 L385.81,253.50 L393.66,253.00 L401.50,253.00 L409.35,254.00 L417.20,256.00 L425.04,260.00 L432.89,267.00 L440.74,277.50 L448.59,284.50 L456.43,305.50 L464.28,333.00 L472.13,369.00 L479.97,396.70 L487.82,401.40 L495.67,402.60 L503.51,402.60 L511.36,403.10 L519.21,403.80 L527.06,404.30 L534.90,405.90 L542.75,408.50 L550.60,405.90 L558.44,300.00 L566.29,275.80 L574.14,271.60 L581.98,270.50 L589.83,270.00 L597.68,269.10 L605.52,268.30 L613.37,264.90 L621.22,262.40 L629.07,259.90 L636.91,259.00 L644.76,258.20 L652.61,256.20 L660.45,254.80 L668.30,251.50 L668.30,560.00 L668.30,560.00 L660.45,560.00 L652.61,560.00 L644.76,560.00 L636.91,560.00 L629.07,560.00 L621.22,560.00 L613.37,560.00 L605.52,560.00 L597.68,560.00 L589.83,560.00 L581.98,560.00 L574.14,560.00 L566.29,560.00 L558.44,560.00 L550.60,560.00 L542.75,560.00 L534.90,560.00 L527.06,560.00 L519.21,560.00 L511.36,560.00 L503.51,560.00 L495.67,553.00 L487.82,542.00 L479.97,542.00 L472.13,556.00 L464.28,560.00 L456.43,560.00 L448.59,560.00 L440.74,560.00 L432.89,560.00 L425.04,560.00 L417.20,560.00 L409.35,560.00 L401.50,556.00 L393.66,548.00 L385.81,541.00 L377.96,531.00 L370.12,511.00 L362.27,491.00 L354.42,470.00 L346.57,450.00 L338.73,429.10 L330.88,409.20 L323.03,391.10 L315.19,391.60 L307.34,392.80 L299.49,394.00 L291.65,387.10 L283.80,390.20 L275.95,390.50 L268.10,401.40 L260.26,413.50 L252.41,434.30 L244.56,451.60 L236.72,463.70 L228.87,474.90 L221.02,482.70 L213.18,489.60 L205.33,491.40 L197.48,493.40 L189.63,497.40 L181.79,501.20 L173.94,501.50 L166.09,499.80 L158.25,493.50 L150.40,476.90 L142.55,491.80 L134.71,490.30 L126.86,496.40 L119.01,500.10 L111.16,507.20 L103.32,512.50 L95.47,505.60 L87.62,505.20 L79.78,501.40 L71.93,502.60 L64.08,497.40 L56.23,498.40 L48.39,505.60 L40.54,517.20 L32.69,526.30 L24.85,531.30 L17.00,533.50 L13.00,533.80Z" fill="rgba(40,40,20,0.18)" stroke="rgba(90,100,110,0.55)" stroke-width="0.8"/>
<g clip-path="url(#bbclip)">
<line x1="13.0" x2="988.5" y1="541.5" y2="541.5" stroke="rgba(30,30,50,0.09)" stroke-width="1"/>
<line x1="13.0" x2="988.5" y1="523.5" y2="523.5" stroke="rgba(30,30,50,0.09)" stroke-width="1"/>
<line x1="13.0" x2="988.5" y1="507.5" y2="507.5" stroke="rgba(30,30,50,0.09)" stroke-width="1"/>
<line x1="13.0" x2="988.5" y1="490.5" y2="490.5" stroke="rgba(30,30,50,0.09)" stroke-width="1"/>
<line x1="13.0" x2="988.5" y1="475.5" y2="475.5" stroke="rgba(30,30,50,0.09)" stroke-width="1"/>
<line x1="13.0" x2="988.5" y1="459.5" y2="459.5" stroke="rgba(30,30,50,0.09)" stroke-width="1"/>
<line x1="13.0" x2="988.5" y1="445.5" y2="445.5" stroke="rgba(30,30,50,0.09)" stroke-width="1"/>
<line x1="13.0" x2="988.5" y1="431.5" y2="431.5" stroke="rgba(30,30,50,0.09)" stroke-width="1"/>
<line x1="13.0" x2="988.5" y1="417.5" y2="417.5" stroke="rgba(30,30,50,0.09)" stroke-width="1"/>
<line x1="13.0" x2="988.5" y1="403.5" y2="403.5" stroke="rgba(30,30,50,0.09)" stroke-width="1"/>
<line x1="13.0" x2="988.5" y1="390.5" y2="390.5" stroke="rgba(30,30,50,0.09)" stroke-width="1"/>
<line x1="13.0" x2="988.5" y1="378.5" y2="378.5" stroke="rgba(30,30,50,0.09)" stroke-width="1"/>
<line x1="13.0" x2="988.5" y1="366.5" y2="366.5" stroke="rgba(30,30,50,0.09)" stroke-width="1"/>
<line x1="13.0" x2="988.5" y1="354.5" y2="354.5" stroke="rgba(30,30,50,0.09)" stroke-width="1"/>
<line x1="13.0" x2="988.5" y1="342.5" y2="342.5" stroke="rgba(30,30,50,0.09)" stroke-width="1"/>
<line x1="13.0" x2="988.5" y1="331.5" y2="331.5" stroke="rgba(30,30,50,0.09)" stroke-width="1"/>
<line x1="13.0" x2="988.5" y1="320.5" y2="320.5" stroke="rgba(30,30,50,0.09)" stroke-width="1"/>
<line x1="13.0" x2="988.5" y1="309.5" y2="309.5" stroke="rgba(30,30,50,0.09)" stroke-width="1"/>
<line x1="13.0" x2="988.5" y1="298.5" y2="298.5" stroke="rgba(30,30,50,0.09)" stroke-width="1"/>
<line x1="13.0" x2="988.5" y1="288.5" y2="288.5" stroke="rgba(30,30,50,0.09)" stroke-width="1"/>
<line x1="13.0" x2="988.5" y1="278.5" y2="278.5" stroke="rgba(30,30,50,0.09)" stroke-width="1"/>
<line x1="13.0" x2="988.5" y1="268.5" y2="268.5" stroke="rgba(30,30,50,0.09)" stroke-width="1"/>
<line x1="13.0" x2="988.5" y1="259.5" y2="259.5" stroke="rgba(30,30,50,0.09)" stroke-width="1"/>
<line x1="13.0" x2="988.5" y1="249.5" y2="249.5" stroke="rgba(30,30,50,0.09)" stroke-width="1"/>
<line x1="13.0" x2="988.5" y1="240.5" y2="240.5" stroke="rgba(30,30,50,0.09)" stroke-width="1"/>
<line x1="13.0" x2="988.5" y1="231.5" y2="231.5" stroke="rgba(30,30,50,0.09)" stroke-width="1"/>
<line x1="13.0" x2="988.5" y1="222.5" y2="222.5" stroke="rgba(30,30,50,0.09)" stroke-width="1"/>
<line x1="13.0" x2="988.5" y1="213.5" y2="213.5" stroke="rgba(30,30,50,0.09)" stroke-width="1"/>
<line x1="13.0" x2="988.5" y1="205.5" y2="205.5" stroke="rgba(30,30,50,0.09)" stroke-width="1"/>
<line x1="13.0" x2="988.5" y1="196.5" y2="196.5" stroke="rgba(30,30,50,0.09)" stroke-width="1"/>
<line x1="13.0" x2="988.5" y1="188.5" y2="188.5" stroke="rgba(30,30,50,0.09)" stroke-width="1"/>
<line x1="13.0" x2="988.5" y1="180.5" y2="180.5" stroke="rgba(30,30,50,0.09)" stroke-width="1"/>
<line x1="13.0" x2="988.5" y1="172.5" y2="172.5" stroke="rgba(30,30,50,0.09)" stroke-width="1"/>
<line x1="13.0" x2="988.5" y1="164.5" y2="164.5" stroke="rgba(30,30,50,0.09)" stroke-width="1"/>
<line x1="40.5" x2="40.5" y1="160.0" y2="549.6" stroke="rgba(30,30,50,0.13)" stroke-width="1"/>
<line x1="79.5" x2="79.5" y1="160.0" y2="549.6" stroke="rgba(30,30,50,0.13)" stroke-width="1"/>
<line x1="119.5" x2="119.5" y1="160.0" y2="549.6" stroke="rgba(30,30,50,0.13)" stroke-width="1"/>
<line x1="158.5" x2="158.5" y1="160.0" y2="549.6" stroke="rgba(30,30,50,0.13)" stroke-width="1"/>
<line x1="197.5" x2="197.5" y1="160.0" y2="549.6" stroke="rgba(30,30,50,0.13)" stroke-width="1"/>
<line x1="236.5" x2="236.5" y1="160.0" y2="549.6" stroke="rgba(30,30,50,0.13)" stroke-width="1"/>
<line x1="275.5" x2="275.5" y1="160.0" y2="549.6" stroke="rgba(30,30,50,0.13)" stroke-width="1"/>
<line x1="315.5" x2="315.5" y1="160.0" y2="549.6" stroke="rgba(30,30,50,0.13)" stroke-width="1"/>
<line x1="354.5" x2="354.5" y1="160.0" y2="549.6" stroke="rgba(30,30,50,0.13)" stroke-width="1"/>
<line x1="393.5" x2="393.5" y1="160.0" y2="549.6" stroke="rgba(30,30,50,0.13)" stroke-width="1"/>
<line x1="432.5" x2="432.5" y1="160.0" y2="549.6" stroke="rgba(30,30,50,0.13)" stroke-width="1"/>
<line x1="503.5" x2="503.5" y1="160.0" y2="549.6" stroke="rgba(30,30,50,0.13)" stroke-width="1"/>
<line x1="542.5" x2="542.5" y1="160.0" y2="549.6" stroke="rgba(30,30,50,0.13)" stroke-width="1"/>
<line x1="581.5" x2="581.5" y1="160.0" y2="549.6" stroke="rgba(30,30,50,0.13)" stroke-width="1"/>
<line x1="613.5" x2="613.5" y1="160.0" y2="549.6" stroke="rgba(30,30,50,0.13)" stroke-width="1"/>
<line x1="644.5" x2="644.5" y1="160.0" y2="549.6" stroke="rgba(30,30,50,0.13)" stroke-width="1"/>
<line x1="676.5" x2="676.5" y1="160.0" y2="549.6" stroke="rgba(30,30,50,0.13)" stroke-width="1"/>
<line x1="715.5" x2="715.5" y1="160.0" y2="549.6" stroke="rgba(30,30,50,0.13)" stroke-width="1"/>
<line x1="746.5" x2="746.5" y1="160.0" y2="549.6" stroke="rgba(30,30,50,0.13)" stroke-width="1"/>
<line x1="825.5" x2="825.5" y1="160.0" y2="549.6" stroke="rgba(30,30,50,0.13)" stroke-width="1"/>
<line x1="864.5" x2="864.5" y1="160.0" y2="549.6" stroke="rgba(30,30,50,0.13)" stroke-width="1"/>
<line x1="895.5" x2="895.5" y1="160.0" y2="549.6" stroke="rgba(30,30,50,0.13)" stroke-width="1"/>
<line x1="974.5" x2="974.5" y1="160.0" y2="549.6" stroke="rgba(30,30,50,0.13)" stroke-width="1"/>
<line x1="126.5" x2="126.5" y1="160.0" y2="549.6" stroke="rgba(30,30,50,0.16)" stroke-width="1"/>
<line x1="307.5" x2="307.5" y1="160.0" y2="549.6" stroke="rgba(30,30,50,0.16)" stroke-width="1"/>
<line x1="464.5" x2="464.5" y1="160.0" y2="549.6" stroke="rgba(30,30,50,0.16)" stroke-width="1"/>
<line x1="629.5" x2="629.5" y1="160.0" y2="549.6" stroke="rgba(30,30,50,0.16)" stroke-width="1"/>
<line x1="786.5" x2="786.5" y1="160.0" y2="549.6" stroke="rgba(30,30,50,0.16)" stroke-width="1"/>
<line x1="935.5" x2="935.5" y1="160.0" y2="549.6" stroke="rgba(30,30,50,0.16)" stroke-width="1"/>
</g>
<path d="M13.00,395.60 L17.00,395.00 L24.85,394.00 L32.69,391.50 L40.54,388.10 L48.39,385.60 L56.23,383.60 L64.08,383.40 L71.93,385.60 L79.78,385.90 L87.62,386.40 L95.47,386.80 L103.32,388.40 L111.16,387.30 L119.01,384.70 L126.86,386.40 L134.71,388.90 L142.55,389.80 L150.40,392.80 L158.25,389.00 L166.09,385.00 L173.94,380.80 L181.79,374.30 L189.63,371.00 L197.48,367.60 L205.33,364.30 L213.18,361.70 L221.02,359.20 L228.87,357.50 L236.72,354.20 L244.56,350.00 L252.41,346.60 L260.26,342.40 L268.10,339.10 L275.95,335.70 L283.80,333.70 L291.65,331.50 L299.49,329.00 L307.34,327.30 L315.19,328.20 L323.03,329.00 L330.88,332.40 L338.73,339.10 L346.57,346.60 L354.42,354.20 L362.27,360.90 L370.12,367.20 L377.96,371.80 L385.81,376.00 L393.66,379.00 L401.50,380.50 L409.35,383.10 L417.20,386.90 L425.04,392.00 L432.89,399.80 L440.74,407.30 L448.59,417.80 L456.43,430.40 L464.28,441.30 L472.13,451.80 L479.97,463.00 L487.82,467.20 L495.67,470.20 L503.51,472.20 L511.36,473.40 L519.21,474.40 L527.06,475.60 L534.90,476.90 L542.75,478.30 L550.60,477.50 L558.44,458.60 L566.29,449.80 L574.14,447.00 L581.98,445.80 L589.83,446.20 L597.68,446.20 L605.52,444.20 L613.37,438.30 L621.22,432.40 L629.07,424.90 L636.91,420.70 L644.76,418.20 L652.61,413.10 L660.45,405.60 L668.30,400.00" fill="none" stroke="#6f7f8a" stroke-width="1.15" stroke-dasharray="1.7 1.9"/>
<path d="M13.00,395.50 L17.00,394.00 L24.85,390.30 L32.69,387.60 L40.54,384.40 L48.39,382.20 L56.23,380.00 L64.08,378.00 L71.93,376.40 L79.78,375.00 L87.62,373.80 L95.47,373.00 L103.32,372.70 L111.16,372.50 L119.01,372.20 L126.86,369.60 L134.71,368.00 L142.55,366.60 L150.40,366.00 L158.25,362.80 L166.09,360.20 L173.94,358.40 L181.79,357.00 L189.63,356.20 L197.48,358.40 L205.33,365.90 L213.18,371.00 L221.02,375.20 L228.87,377.70 L236.72,378.90 L244.56,379.90 L252.41,379.40 L260.26,377.20 L268.10,374.70 L275.95,372.30 L283.80,370.10 L291.65,368.40 L299.49,365.10 L307.34,362.60 L315.19,360.00 L323.03,358.40 L330.88,358.40 L338.73,358.90 L346.57,358.90 L354.42,359.20 L362.27,361.70 L370.12,365.10 L377.96,368.40 L385.81,371.10 L393.66,373.20 L401.50,374.40 L409.35,374.40 L417.20,374.40 L425.04,375.70 L432.89,377.40 L440.74,379.10 L448.59,380.70 L456.43,382.10 L464.28,383.20 L472.13,384.50 L479.97,386.00 L487.82,387.50 L495.67,389.00 L503.51,390.60 L511.36,392.20 L519.21,393.80 L527.06,396.40 L534.90,399.70 L542.75,403.10 L550.60,405.10 L558.44,401.70 L566.29,400.90 L574.14,401.70 L581.98,403.90 L589.83,406.90 L597.68,409.80 L605.52,411.50 L613.37,413.10 L621.22,413.10 L629.07,413.50 L636.91,415.20 L644.76,416.50 L652.61,417.70 L660.45,417.80 L668.30,418.20" fill="none" stroke="#3e7478" stroke-width="1.1" stroke-linejoin="round"/>
<path d="M323.03,358.40 L330.88,358.40 L338.73,358.90 L346.57,358.90 L354.42,359.20 L362.27,361.70 L370.12,365.10 L377.96,368.40 L385.81,371.10 L393.66,373.20 L401.50,374.40 L409.35,374.40 L417.20,374.40 L425.04,375.70 L432.89,377.40 L440.74,379.10 L448.59,380.70 L456.43,382.10 L464.28,383.20 L472.13,384.50 L479.97,386.00 L487.82,387.50 L495.67,389.00 L503.51,390.60 L511.36,392.20 L519.21,393.80 L527.06,396.40 L534.90,399.70 L542.75,403.10 L550.60,405.10 L558.44,401.70" fill="none" stroke="#2f8a4e" stroke-width="1.1" stroke-linejoin="round"/>
<path d="M13.00,359.50 L17.00,357.90 L24.85,359.10 L32.69,356.20 L40.54,351.70 L48.39,358.70 L56.23,366.30 L64.08,373.80 L71.93,389.80 L79.78,399.00 L87.62,407.40 L95.47,415.00 L103.32,420.50 L111.16,418.30 L119.01,420.00 L126.86,415.50 L134.71,414.10 L142.55,402.40 L150.40,393.10 L158.25,373.80 L166.09,359.20 L173.94,345.80 L181.79,334.90 L189.63,327.30 L197.48,321.50 L205.33,318.10 L213.18,318.90 L221.02,321.50 L228.87,325.70 L236.72,334.00 L244.56,340.80 L252.41,345.00 L260.26,349.10 L268.10,349.50 L275.95,350.50 L283.80,351.70 L291.65,350.00 L299.49,342.40 L307.34,332.40 L315.19,324.00 L323.03,319.80 L330.88,325.70 L338.73,334.00 L346.57,345.80 L354.42,358.40 L362.27,370.00 L370.12,387.70 L377.96,410.30 L385.81,424.60 L393.66,440.60 L401.50,453.10 L409.35,448.90 L417.20,445.90 L425.04,444.70 L432.89,445.90 L440.74,447.60 L448.59,448.60 L456.43,450.50 L464.28,457.80 L472.13,465.50 L479.97,475.60 L487.82,487.30 L495.67,497.40 L503.51,501.60 L511.36,502.80 L519.21,504.50 L527.06,505.00 L534.90,504.10 L542.75,499.90 L550.60,489.00 L558.44,445.60 L566.29,418.30 L574.14,402.00 L581.98,397.00 L589.83,396.80 L597.68,393.20 L605.52,386.30 L613.37,377.90 L621.22,372.00 L629.07,368.30 L636.91,390.50 L644.76,415.70 L652.61,419.30 L660.45,415.70 L668.30,402.20" fill="none" stroke="#dc4262" stroke-width="1.1" stroke-linejoin="round"/>
<path d="M56.23,344.00 L51.23,340.10 L60.84,340.10Z" fill="rgba(255,255,255,0.85)"/>
<rect x="44.33" y="331.20" width="21.6" height="8.9" fill="rgba(255,255,255,0.88)" stroke="#b8aebe" stroke-width="0.7"/>
<text x="45.53" y="338.70" font-size="8.8" textLength="19.2" lengthAdjust="spacingAndGlyphs" fill="#0a0a0a">19.39</text>
<path d="M32.69,425.30 L27.69,428.40 L37.29,428.40Z" fill="rgba(255,255,255,0.85)"/>
<rect x="20.79" y="428.40" width="21.6" height="8.9" fill="rgba(255,255,255,0.88)" stroke="#b8aebe" stroke-width="0.7"/>
<text x="21.99" y="435.90" font-size="8.8" textLength="19.2" lengthAdjust="spacingAndGlyphs" fill="#0a0a0a">16.23</text>
<path d="M103.32,463.90 L98.32,467.00 L107.92,467.00Z" fill="rgba(255,255,255,0.85)"/>
<rect x="91.42" y="467.00" width="21.6" height="8.9" fill="rgba(255,255,255,0.88)" stroke="#b8aebe" stroke-width="0.7"/>
<text x="92.62" y="474.50" font-size="8.8" textLength="19.2" lengthAdjust="spacingAndGlyphs" fill="#0a0a0a">14.90</text>
<path d="M142.55,313.80 L137.55,309.90 L147.15,309.90Z" fill="rgba(255,255,255,0.85)"/>
<rect x="130.65" y="301.00" width="21.6" height="8.9" fill="rgba(255,255,255,0.88)" stroke="#b8aebe" stroke-width="0.7"/>
<text x="131.85" y="308.50" font-size="8.8" textLength="19.2" lengthAdjust="spacingAndGlyphs" fill="#0a0a0a">20.75</text>
<path d="M150.40,366.60 L145.40,369.70 L155.00,369.70Z" fill="rgba(255,255,255,0.85)"/>
<rect x="138.50" y="369.70" width="21.6" height="8.9" fill="rgba(255,255,255,0.88)" stroke="#b8aebe" stroke-width="0.7"/>
<text x="139.70" y="377.20" font-size="8.8" textLength="19.2" lengthAdjust="spacingAndGlyphs" fill="#0a0a0a">18.48</text>
<path d="M166.09,265.60 L161.09,261.70 L170.69,261.70Z" fill="rgba(255,255,255,0.85)"/>
<rect x="154.19" y="252.80" width="21.6" height="8.9" fill="rgba(255,255,255,0.88)" stroke="#b8aebe" stroke-width="0.7"/>
<text x="155.39" y="260.30" font-size="8.8" textLength="19.2" lengthAdjust="spacingAndGlyphs" fill="#0a0a0a">23.14</text>
<path d="M213.18,309.20 L208.18,305.30 L217.78,305.30Z" fill="rgba(255,255,255,0.85)"/>
<rect x="201.28" y="296.40" width="21.6" height="8.9" fill="rgba(255,255,255,0.88)" stroke="#b8aebe" stroke-width="0.7"/>
<text x="202.48" y="303.90" font-size="8.8" textLength="19.2" lengthAdjust="spacingAndGlyphs" fill="#0a0a0a">21.01</text>
<path d="M205.33,345.30 L200.33,348.40 L209.93,348.40Z" fill="rgba(255,255,255,0.85)"/>
<rect x="193.43" y="348.40" width="21.6" height="8.9" fill="rgba(255,255,255,0.88)" stroke="#b8aebe" stroke-width="0.7"/>
<text x="194.63" y="355.90" font-size="8.8" textLength="19.2" lengthAdjust="spacingAndGlyphs" fill="#0a0a0a">19.44</text>
<path d="M228.87,378.00 L223.87,381.10 L233.47,381.10Z" fill="rgba(255,255,255,0.85)"/>
<rect x="216.97" y="381.10" width="21.6" height="8.9" fill="rgba(255,255,255,0.88)" stroke="#b8aebe" stroke-width="0.7"/>
<text x="218.17" y="388.60" font-size="8.8" textLength="19.2" lengthAdjust="spacingAndGlyphs" fill="#0a0a0a">17.99</text>
<path d="M252.41,320.10 L247.41,316.20 L257.01,316.20Z" fill="rgba(255,255,255,0.85)"/>
<rect x="240.51" y="307.30" width="21.6" height="8.9" fill="rgba(255,255,255,0.88)" stroke="#b8aebe" stroke-width="0.7"/>
<text x="241.71" y="314.80" font-size="8.8" textLength="19.2" lengthAdjust="spacingAndGlyphs" fill="#0a0a0a">20.47</text>
<path d="M268.10,374.30 L263.10,377.40 L272.70,377.40Z" fill="rgba(255,255,255,0.85)"/>
<rect x="256.20" y="377.40" width="21.6" height="8.9" fill="rgba(255,255,255,0.88)" stroke="#b8aebe" stroke-width="0.7"/>
<text x="257.40" y="384.90" font-size="8.8" textLength="19.2" lengthAdjust="spacingAndGlyphs" fill="#0a0a0a">18.23</text>
<path d="M283.80,319.30 L278.80,315.40 L288.40,315.40Z" fill="rgba(255,255,255,0.85)"/>
<rect x="271.90" y="306.50" width="21.6" height="8.9" fill="rgba(255,255,255,0.88)" stroke="#b8aebe" stroke-width="0.7"/>
<text x="273.10" y="314.00" font-size="8.8" textLength="19.2" lengthAdjust="spacingAndGlyphs" fill="#0a0a0a">20.53</text>
<path d="M299.49,260.20 L294.49,256.30 L304.09,256.30Z" fill="rgba(255,255,255,0.85)"/>
<rect x="287.59" y="247.40" width="21.6" height="8.9" fill="rgba(255,255,255,0.88)" stroke="#b8aebe" stroke-width="0.7"/>
<text x="288.79" y="254.90" font-size="8.8" textLength="19.2" lengthAdjust="spacingAndGlyphs" fill="#0a0a0a">23.42</text>
<path d="M307.34,307.50 L302.34,310.60 L311.94,310.60Z" fill="rgba(255,255,255,0.85)"/>
<rect x="295.44" y="310.60" width="21.6" height="8.9" fill="rgba(255,255,255,0.88)" stroke="#b8aebe" stroke-width="0.7"/>
<text x="296.64" y="318.10" font-size="8.8" textLength="19.2" lengthAdjust="spacingAndGlyphs" fill="#0a0a0a">21.16</text>
<path d="M354.42,443.10 L349.42,439.20 L359.02,439.20Z" fill="rgba(255,255,255,0.85)"/>
<rect x="342.52" y="430.30" width="21.6" height="8.9" fill="rgba(255,255,255,0.88)" stroke="#b8aebe" stroke-width="0.7"/>
<text x="343.72" y="437.80" font-size="8.8" textLength="19.2" lengthAdjust="spacingAndGlyphs" fill="#0a0a0a">15.56</text>
<path d="M346.57,471.90 L341.57,475.00 L351.17,475.00Z" fill="rgba(255,255,255,0.85)"/>
<rect x="334.67" y="475.00" width="21.6" height="8.9" fill="rgba(255,255,255,0.88)" stroke="#b8aebe" stroke-width="0.7"/>
<text x="335.87" y="482.50" font-size="8.8" textLength="19.2" lengthAdjust="spacingAndGlyphs" fill="#0a0a0a">14.66</text>
<path d="M377.96,506.30 L372.96,509.40 L382.56,509.40Z" fill="rgba(255,255,255,0.85)"/>
<rect x="366.06" y="509.40" width="21.6" height="8.9" fill="rgba(255,255,255,0.88)" stroke="#b8aebe" stroke-width="0.7"/>
<text x="367.26" y="516.90" font-size="8.8" textLength="19.2" lengthAdjust="spacingAndGlyphs" fill="#0a0a0a">13.59</text>
<path d="M385.81,388.90 L380.81,385.00 L390.41,385.00Z" fill="rgba(255,255,255,0.85)"/>
<rect x="373.91" y="376.10" width="21.6" height="8.9" fill="rgba(255,255,255,0.88)" stroke="#b8aebe" stroke-width="0.7"/>
<text x="375.11" y="383.60" font-size="8.8" textLength="19.2" lengthAdjust="spacingAndGlyphs" fill="#0a0a0a">17.55</text>
<path d="M409.35,358.60 L404.35,354.70 L413.95,354.70Z" fill="rgba(255,255,255,0.85)"/>
<rect x="397.45" y="345.80" width="21.6" height="8.9" fill="rgba(255,255,255,0.88)" stroke="#b8aebe" stroke-width="0.7"/>
<text x="398.65" y="353.30" font-size="8.8" textLength="19.2" lengthAdjust="spacingAndGlyphs" fill="#0a0a0a">18.79</text>
<path d="M448.59,455.50 L443.59,451.60 L453.19,451.60Z" fill="rgba(255,255,255,0.85)"/>
<rect x="436.69" y="442.70" width="21.6" height="8.9" fill="rgba(255,255,255,0.88)" stroke="#b8aebe" stroke-width="0.7"/>
<text x="437.89" y="450.20" font-size="8.8" textLength="19.2" lengthAdjust="spacingAndGlyphs" fill="#0a0a0a">15.13</text>
<path d="M440.74,495.70 L435.74,498.80 L445.34,498.80Z" fill="rgba(255,255,255,0.85)"/>
<rect x="428.84" y="498.80" width="21.6" height="8.9" fill="rgba(255,255,255,0.88)" stroke="#b8aebe" stroke-width="0.7"/>
<text x="430.04" y="506.30" font-size="8.8" textLength="19.2" lengthAdjust="spacingAndGlyphs" fill="#0a0a0a">13.88</text>
<path d="M479.97,529.20 L474.97,532.30 L484.57,532.30Z" fill="rgba(255,255,255,0.85)"/>
<rect x="468.07" y="532.30" width="21.6" height="8.9" fill="rgba(255,255,255,0.88)" stroke="#b8aebe" stroke-width="0.7"/>
<text x="469.27" y="539.80" font-size="8.8" textLength="19.2" lengthAdjust="spacingAndGlyphs" fill="#0a0a0a">12.89</text>
<path d="M511.36,473.40 L506.36,469.50 L515.96,469.50Z" fill="rgba(255,255,255,0.85)"/>
<rect x="499.46" y="460.60" width="21.6" height="8.9" fill="rgba(255,255,255,0.88)" stroke="#b8aebe" stroke-width="0.7"/>
<text x="500.66" y="468.10" font-size="8.8" textLength="19.2" lengthAdjust="spacingAndGlyphs" fill="#0a0a0a">14.54</text>
<path d="M534.90,517.50 L529.90,520.60 L539.50,520.60Z" fill="rgba(255,255,255,0.85)"/>
<rect x="523.00" y="520.60" width="21.6" height="8.9" fill="rgba(255,255,255,0.88)" stroke="#b8aebe" stroke-width="0.7"/>
<text x="524.20" y="528.10" font-size="8.8" textLength="19.2" lengthAdjust="spacingAndGlyphs" fill="#0a0a0a">13.24</text>
<path d="M558.44,174.60 L553.44,170.70 L563.04,170.70Z" fill="rgba(255,255,255,0.85)"/>
<rect x="546.54" y="161.80" width="21.6" height="8.9" fill="rgba(255,255,255,0.88)" stroke="#b8aebe" stroke-width="0.7"/>
<text x="547.74" y="169.30" font-size="8.8" textLength="19.2" lengthAdjust="spacingAndGlyphs" fill="#0a0a0a">28.32</text>
<path d="M589.83,484.30 L584.83,487.40 L594.43,487.40Z" fill="rgba(255,255,255,0.85)"/>
<rect x="577.93" y="487.40" width="21.6" height="8.9" fill="rgba(255,255,255,0.88)" stroke="#b8aebe" stroke-width="0.7"/>
<text x="579.13" y="494.90" font-size="8.8" textLength="19.2" lengthAdjust="spacingAndGlyphs" fill="#0a0a0a">14.27</text>
<path d="M613.37,348.40 L608.37,344.50 L617.97,344.50Z" fill="rgba(255,255,255,0.85)"/>
<rect x="601.47" y="335.60" width="21.6" height="8.9" fill="rgba(255,255,255,0.88)" stroke="#b8aebe" stroke-width="0.7"/>
<text x="602.67" y="343.10" font-size="8.8" textLength="19.2" lengthAdjust="spacingAndGlyphs" fill="#0a0a0a">19.22</text>
<path d="M629.07,341.30 L624.07,337.40 L633.67,337.40Z" fill="rgba(255,255,255,0.85)"/>
<rect x="617.17" y="328.50" width="21.6" height="8.9" fill="rgba(255,255,255,0.88)" stroke="#b8aebe" stroke-width="0.7"/>
<text x="618.37" y="336.00" font-size="8.8" textLength="19.2" lengthAdjust="spacingAndGlyphs" fill="#0a0a0a">19.50</text>
<path d="M644.76,440.30 L639.76,443.40 L649.36,443.40Z" fill="rgba(255,255,255,0.85)"/>
<rect x="632.86" y="443.40" width="21.6" height="8.9" fill="rgba(255,255,255,0.88)" stroke="#b8aebe" stroke-width="0.7"/>
<text x="634.06" y="450.90" font-size="8.8" textLength="19.2" lengthAdjust="spacingAndGlyphs" fill="#0a0a0a">15.71</text>
<rect x="322.7" y="318.1" width="94.8" height="110.4" fill="rgba(60,230,225,0.24)"/>
<rect x="417.5" y="318.1" width="141.9" height="43.1" fill="rgba(60,230,225,0.24)"/>
<clipPath id="r1clip"><rect x="322.7" y="318.1" width="94.8" height="110.4"/></clipPath>
<g clip-path="url(#r1clip)">
<rect x="390.86" y="414.5" width="5.6" height="29.10" fill="#5c2c38"/>
<rect x="414.40" y="401.6" width="5.6" height="5.90" fill="#5c2c38"/>
</g>
<line x1="13.0" x2="988.5" y1="331.21" y2="331.21" stroke="#f20d12" stroke-width="2.7"/>
<line x1="142.55" x2="150.40" y1="331.21" y2="331.21" stroke="#0a8a1a" stroke-width="2.7"/>
<line x1="158.25" x2="166.09" y1="331.21" y2="331.21" stroke="#0a8a1a" stroke-width="2.7"/>
<line x1="166.09" x2="173.94" y1="331.21" y2="331.21" stroke="#0a8a1a" stroke-width="2.7"/>
<line x1="173.94" x2="181.79" y1="331.21" y2="331.21" stroke="#0a8a1a" stroke-width="2.7"/>
<line x1="181.79" x2="189.63" y1="331.21" y2="331.21" stroke="#0a8a1a" stroke-width="2.7"/>
<line x1="189.63" x2="197.48" y1="331.21" y2="331.21" stroke="#0a8a1a" stroke-width="2.7"/>
<line x1="205.33" x2="213.18" y1="331.21" y2="331.21" stroke="#0a8a1a" stroke-width="2.7"/>
<line x1="268.10" x2="275.95" y1="331.21" y2="331.21" stroke="#0a8a1a" stroke-width="2.7"/>
<line x1="291.65" x2="299.49" y1="331.21" y2="331.21" stroke="#0a8a1a" stroke-width="2.7"/>
<line x1="299.49" x2="307.34" y1="331.21" y2="331.21" stroke="#0a8a1a" stroke-width="2.7"/>
<line x1="307.34" x2="315.19" y1="331.21" y2="331.21" stroke="#0a8a1a" stroke-width="2.7"/>
<line x1="315.19" x2="323.03" y1="331.21" y2="331.21" stroke="#0a8a1a" stroke-width="2.7"/>
<line x1="323.03" x2="330.88" y1="331.21" y2="331.21" stroke="#0a8a1a" stroke-width="2.7"/>
<line x1="558.44" x2="566.29" y1="331.21" y2="331.21" stroke="#0a8a1a" stroke-width="2.7"/>
<line x1="566.29" x2="574.14" y1="331.21" y2="331.21" stroke="#0a8a1a" stroke-width="2.7"/>
<path d="M323.9,428.6 V319.4 H558.2 V360.4 H417.4 M417.4,319.4 V427.4 H323.9" fill="none" stroke="rgba(110,232,240,0.55)" stroke-width="2.3" stroke-linejoin="miter"/>
<rect x="322.7" y="329.4" width="236.7" height="3.4" fill="rgba(120,200,210,0.16)"/>
</g>
<g clip-path="url(#c_hp)">
<rect x="14.40" y="639.85" width="5.2" height="7.75" fill="#4a9bcb" stroke="#2f6f96" stroke-width="0.9"/>
<rect x="22.25" y="647.60" width="5.2" height="1.75" fill="#4a9bcb" stroke="#2f6f96" stroke-width="0.9"/>
<rect x="30.09" y="647.60" width="5.2" height="9.75" fill="#4a9bcb" stroke="#2f6f96" stroke-width="0.9"/>
<rect x="37.94" y="647.60" width="5.2" height="12.25" fill="#4a9bcb" stroke="#2f6f96" stroke-width="0.9"/>
<rect x="45.79" y="647.60" width="5.2" height="11.00" fill="#4a9bcb" stroke="#2f6f96" stroke-width="0.9"/>
<rect x="53.63" y="647.60" width="5.2" height="7.75" fill="#4a9bcb" stroke="#2f6f96" stroke-width="0.9"/>
<rect x="61.48" y="647.60" width="5.2" height="11.75" fill="#4a9bcb" stroke="#2f6f96" stroke-width="0.9"/>
<rect x="69.33" y="647.60" width="5.2" height="15.50" fill="#4a9bcb" stroke="#2f6f96" stroke-width="0.9"/>
<rect x="77.18" y="647.60" width="5.2" height="17.75" fill="#4a9bcb" stroke="#2f6f96" stroke-width="0.9"/>
<rect x="85.02" y="647.60" width="5.2" height="19.75" fill="#4a9bcb" stroke="#2f6f96" stroke-width="0.9"/>
<rect x="92.87" y="647.60" width="5.2" height="20.50" fill="#4a9bcb" stroke="#2f6f96" stroke-width="0.9"/>
<rect x="100.72" y="647.60" width="5.2" height="19.50" fill="#4a9bcb" stroke="#2f6f96" stroke-width="0.9"/>
<rect x="108.56" y="647.60" width="5.2" height="11.00" fill="#4a9bcb" stroke="#2f6f96" stroke-width="0.9"/>
<rect x="116.41" y="647.60" width="5.2" height="7.25" fill="#4a9bcb" stroke="#2f6f96" stroke-width="0.9"/>
<rect x="124.26" y="641.35" width="5.2" height="6.25" fill="#4a9bcb" stroke="#2f6f96" stroke-width="0.9"/>
<rect x="132.11" y="634.85" width="5.2" height="12.75" fill="#4a9bcb" stroke="#2f6f96" stroke-width="0.9"/>
<rect x="139.95" y="625.10" width="5.2" height="22.50" fill="#4a9bcb" stroke="#2f6f96" stroke-width="0.9"/>
<rect x="147.80" y="625.10" width="5.2" height="22.50" fill="#4a9bcb" stroke="#2f6f96" stroke-width="0.9"/>
<rect x="155.65" y="613.60" width="5.2" height="34.00" fill="#4a9bcb" stroke="#2f6f96" stroke-width="0.9"/>
<rect x="163.49" y="612.10" width="5.2" height="35.50" fill="#4a9bcb" stroke="#2f6f96" stroke-width="0.9"/>
<rect x="171.34" y="615.85" width="5.2" height="31.75" fill="#4a9bcb" stroke="#2f6f96" stroke-width="0.9"/>
<rect x="179.19" y="619.10" width="5.2" height="28.50" fill="#4a9bcb" stroke="#2f6f96" stroke-width="0.9"/>
<rect x="187.03" y="625.10" width="5.2" height="22.50" fill="#4a9bcb" stroke="#2f6f96" stroke-width="0.9"/>
<rect x="194.88" y="633.10" width="5.2" height="14.50" fill="#4a9bcb" stroke="#2f6f96" stroke-width="0.9"/>
<rect x="202.73" y="635.35" width="5.2" height="12.25" fill="#4a9bcb" stroke="#2f6f96" stroke-width="0.9"/>
<rect x="210.58" y="642.10" width="5.2" height="5.50" fill="#4a9bcb" stroke="#2f6f96" stroke-width="0.9"/>
<rect x="218.42" y="647.60" width="5.2" height="1.75" fill="#4a9bcb" stroke="#2f6f96" stroke-width="0.9"/>
<rect x="226.27" y="647.60" width="5.2" height="9.75" fill="#4a9bcb" stroke="#2f6f96" stroke-width="0.9"/>
<rect x="234.12" y="647.60" width="5.2" height="13.75" fill="#4a9bcb" stroke="#2f6f96" stroke-width="0.9"/>
<rect x="241.96" y="647.60" width="5.2" height="16.25" fill="#4a9bcb" stroke="#2f6f96" stroke-width="0.9"/>
<rect x="249.81" y="647.60" width="5.2" height="13.75" fill="#4a9bcb" stroke="#2f6f96" stroke-width="0.9"/>
<rect x="257.66" y="647.60" width="5.2" height="11.75" fill="#4a9bcb" stroke="#2f6f96" stroke-width="0.9"/>
<rect x="265.50" y="647.60" width="5.2" height="6.25" fill="#4a9bcb" stroke="#2f6f96" stroke-width="0.9"/>
<rect x="273.35" y="647.60" width="5.2" height="3.50" fill="#4a9bcb" stroke="#2f6f96" stroke-width="0.9"/>
<rect x="281.20" y="647.60" width="5.2" height="4.25" fill="#4a9bcb" stroke="#2f6f96" stroke-width="0.9"/>
<rect x="289.05" y="647.60" width="5.2" height="1.50" fill="#4a9bcb" stroke="#2f6f96" stroke-width="0.9"/>
<rect x="296.89" y="635.60" width="5.2" height="12.00" fill="#4a9bcb" stroke="#2f6f96" stroke-width="0.9"/>
<rect x="304.74" y="634.10" width="5.2" height="13.50" fill="#4a9bcb" stroke="#2f6f96" stroke-width="0.9"/>
<rect x="312.59" y="633.10" width="5.2" height="14.50" fill="#4a9bcb" stroke="#2f6f96" stroke-width="0.9"/>
<rect x="320.43" y="639.10" width="5.2" height="8.50" fill="#4a9bcb" stroke="#2f6f96" stroke-width="0.9"/>
<rect x="328.28" y="647.60" width="5.2" height="11.50" fill="#4a9bcb" stroke="#2f6f96" stroke-width="0.9"/>
<rect x="336.13" y="647.60" width="5.2" height="28.50" fill="#4a9bcb" stroke="#2f6f96" stroke-width="0.9"/>
<rect x="343.97" y="647.60" width="5.2" height="38.00" fill="#4a9bcb" stroke="#2f6f96" stroke-width="0.9"/>
<rect x="351.82" y="647.60" width="5.2" height="42.25" fill="#4a9bcb" stroke="#2f6f96" stroke-width="0.9"/>
<rect x="359.67" y="647.60" width="5.2" height="43.75" fill="#4a9bcb" stroke="#2f6f96" stroke-width="0.9"/>
<rect x="367.51" y="647.60" width="5.2" height="44.50" fill="#4a9bcb" stroke="#2f6f96" stroke-width="0.9"/>
<rect x="375.36" y="647.60" width="5.2" height="42.25" fill="#4a9bcb" stroke="#2f6f96" stroke-width="0.9"/>
<rect x="383.21" y="647.60" width="5.2" height="30.50" fill="#4a9bcb" stroke="#2f6f96" stroke-width="0.9"/>
<rect x="391.06" y="647.60" width="5.2" height="24.25" fill="#4a9bcb" stroke="#2f6f96" stroke-width="0.9"/>
<rect x="398.90" y="647.60" width="5.2" height="15.25" fill="#4a9bcb" stroke="#2f6f96" stroke-width="0.9"/>
<rect x="406.75" y="647.60" width="5.2" height="5.50" fill="#4a9bcb" stroke="#2f6f96" stroke-width="0.9"/>
<line x1="414.50" x2="419.90" y1="647.10" y2="647.10" stroke="#2f6f96" stroke-width="1"/>
<rect x="422.44" y="647.60" width="5.2" height="2.25" fill="#4a9bcb" stroke="#2f6f96" stroke-width="0.9"/>
<rect x="430.29" y="647.60" width="5.2" height="5.50" fill="#4a9bcb" stroke="#2f6f96" stroke-width="0.9"/>
<rect x="438.14" y="647.60" width="5.2" height="7.75" fill="#4a9bcb" stroke="#2f6f96" stroke-width="0.9"/>
<rect x="445.99" y="647.60" width="5.2" height="9.75" fill="#4a9bcb" stroke="#2f6f96" stroke-width="0.9"/>
<rect x="453.83" y="647.60" width="5.2" height="11.00" fill="#4a9bcb" stroke="#2f6f96" stroke-width="0.9"/>
<rect x="461.68" y="647.60" width="5.2" height="11.75" fill="#4a9bcb" stroke="#2f6f96" stroke-width="0.9"/>
<rect x="469.53" y="647.60" width="5.2" height="11.00" fill="#4a9bcb" stroke="#2f6f96" stroke-width="0.9"/>
<rect x="477.37" y="647.60" width="5.2" height="9.25" fill="#4a9bcb" stroke="#2f6f96" stroke-width="0.9"/>
<rect x="485.22" y="647.60" width="5.2" height="6.25" fill="#4a9bcb" stroke="#2f6f96" stroke-width="0.9"/>
<rect x="493.07" y="647.60" width="5.2" height="7.00" fill="#4a9bcb" stroke="#2f6f96" stroke-width="0.9"/>
<line x1="500.81" x2="506.21" y1="648.10" y2="648.10" stroke="#2f6f96" stroke-width="1"/>
<rect x="508.76" y="644.10" width="5.2" height="3.50" fill="#4a9bcb" stroke="#2f6f96" stroke-width="0.9"/>
<rect x="516.61" y="643.35" width="5.2" height="4.25" fill="#4a9bcb" stroke="#2f6f96" stroke-width="0.9"/>
<rect x="524.46" y="640.85" width="5.2" height="6.75" fill="#4a9bcb" stroke="#2f6f96" stroke-width="0.9"/>
<rect x="532.30" y="640.35" width="5.2" height="7.25" fill="#4a9bcb" stroke="#2f6f96" stroke-width="0.9"/>
<rect x="540.15" y="636.10" width="5.2" height="11.50" fill="#4a9bcb" stroke="#2f6f96" stroke-width="0.9"/>
<rect x="548.00" y="628.60" width="5.2" height="19.00" fill="#4a9bcb" stroke="#2f6f96" stroke-width="0.9"/>
<rect x="555.84" y="581.10" width="5.2" height="66.50" fill="#4a9bcb" stroke="#2f6f96" stroke-width="0.9"/>
<rect x="563.69" y="567.35" width="5.2" height="80.25" fill="#4a9bcb" stroke="#2f6f96" stroke-width="0.9"/>
<rect x="571.54" y="584.35" width="5.2" height="63.25" fill="#4a9bcb" stroke="#2f6f96" stroke-width="0.9"/>
<rect x="579.38" y="604.10" width="5.2" height="43.50" fill="#4a9bcb" stroke="#2f6f96" stroke-width="0.9"/>
<rect x="587.23" y="628.60" width="5.2" height="19.00" fill="#4a9bcb" stroke="#2f6f96" stroke-width="0.9"/>
<rect x="595.08" y="643.35" width="5.2" height="4.25" fill="#4a9bcb" stroke="#2f6f96" stroke-width="0.9"/>
<line x1="602.82" x2="608.23" y1="648.10" y2="648.10" stroke="#2f6f96" stroke-width="1"/>
<rect x="610.77" y="645.85" width="5.2" height="1.75" fill="#4a9bcb" stroke="#2f6f96" stroke-width="0.9"/>
<rect x="618.62" y="645.10" width="5.2" height="2.50" fill="#4a9bcb" stroke="#2f6f96" stroke-width="0.9"/>
<rect x="626.47" y="642.35" width="5.2" height="5.25" fill="#4a9bcb" stroke="#2f6f96" stroke-width="0.9"/>
<line x1="634.21" x2="639.61" y1="648.10" y2="648.10" stroke="#2f6f96" stroke-width="1"/>
<rect x="642.16" y="647.60" width="5.2" height="4.50" fill="#4a9bcb" stroke="#2f6f96" stroke-width="0.9"/>
<line x1="649.91" x2="655.31" y1="648.10" y2="648.10" stroke="#2f6f96" stroke-width="1"/>
<rect x="657.85" y="645.85" width="5.2" height="1.75" fill="#4a9bcb" stroke="#2f6f96" stroke-width="0.9"/>
<rect x="665.70" y="638.60" width="5.2" height="9.00" fill="#4a9bcb" stroke="#2f6f96" stroke-width="0.9"/>
</g>
<line x1="165.75" y1="603" x2="244.5" y2="644.25" stroke="#f31820" stroke-width="1.8" stroke-dasharray="5.6 2.7"/>
<line x1="315" y1="624.5" x2="370" y2="642.5" stroke="#f31820" stroke-width="1.8" stroke-dasharray="5.6 2.7"/>
<line x1="417.5" y1="640.75" x2="464.25" y2="644.25" stroke="#f31820" stroke-width="1.8" stroke-dasharray="5.6 2.7"/>
<line x1="573.75" y1="568" x2="691.75" y2="645.5" stroke="#f31820" stroke-width="1.8" stroke-dasharray="5.6 2.7"/>
<line x1="244.5" y1="674.5" x2="313.75" y2="653.75" stroke="#1010f0" stroke-width="1.8" stroke-dasharray="5.6 2.7"/>
<line x1="370" y1="701.5" x2="417.5" y2="660" stroke="#1010f0" stroke-width="1.8" stroke-dasharray="5.6 2.7"/>
<line x1="464.25" y1="668" x2="566.25" y2="650.5" stroke="#1010f0" stroke-width="1.8" stroke-dasharray="5.6 2.7"/>
<g clip-path="url(#c_mp)">
<rect x="14.40" y="762.74" width="5.2" height="6.26" fill="#4a9bcb" stroke="#2f6f96" stroke-width="0.9"/>
<rect x="22.25" y="769.00" width="5.2" height="1.41" fill="#4a9bcb" stroke="#2f6f96" stroke-width="0.9"/>
<rect x="30.09" y="769.00" width="5.2" height="7.88" fill="#4a9bcb" stroke="#2f6f96" stroke-width="0.9"/>
<rect x="37.94" y="769.00" width="5.2" height="9.90" fill="#4a9bcb" stroke="#2f6f96" stroke-width="0.9"/>
<rect x="45.79" y="769.00" width="5.2" height="8.89" fill="#4a9bcb" stroke="#2f6f96" stroke-width="0.9"/>
<rect x="53.63" y="769.00" width="5.2" height="6.26" fill="#4a9bcb" stroke="#2f6f96" stroke-width="0.9"/>
<rect x="61.48" y="769.00" width="5.2" height="9.50" fill="#4a9bcb" stroke="#2f6f96" stroke-width="0.9"/>
<rect x="69.33" y="769.00" width="5.2" height="12.53" fill="#4a9bcb" stroke="#2f6f96" stroke-width="0.9"/>
<rect x="77.18" y="769.00" width="5.2" height="14.35" fill="#4a9bcb" stroke="#2f6f96" stroke-width="0.9"/>
<rect x="85.02" y="769.00" width="5.2" height="15.96" fill="#4a9bcb" stroke="#2f6f96" stroke-width="0.9"/>
<rect x="92.87" y="769.00" width="5.2" height="16.57" fill="#4a9bcb" stroke="#2f6f96" stroke-width="0.9"/>
<rect x="100.72" y="769.00" width="5.2" height="15.76" fill="#4a9bcb" stroke="#2f6f96" stroke-width="0.9"/>
<rect x="108.56" y="769.00" width="5.2" height="8.89" fill="#4a9bcb" stroke="#2f6f96" stroke-width="0.9"/>
<rect x="116.41" y="769.00" width="5.2" height="5.86" fill="#4a9bcb" stroke="#2f6f96" stroke-width="0.9"/>
<rect x="124.26" y="763.95" width="5.2" height="5.05" fill="#4a9bcb" stroke="#2f6f96" stroke-width="0.9"/>
<rect x="132.11" y="758.70" width="5.2" height="10.30" fill="#4a9bcb" stroke="#2f6f96" stroke-width="0.9"/>
<rect x="139.95" y="750.82" width="5.2" height="18.18" fill="#4a9bcb" stroke="#2f6f96" stroke-width="0.9"/>
<rect x="147.80" y="750.82" width="5.2" height="18.18" fill="#4a9bcb" stroke="#2f6f96" stroke-width="0.9"/>
<rect x="155.65" y="741.52" width="5.2" height="27.48" fill="#4a9bcb" stroke="#2f6f96" stroke-width="0.9"/>
<rect x="163.49" y="740.31" width="5.2" height="28.69" fill="#4a9bcb" stroke="#2f6f96" stroke-width="0.9"/>
<rect x="171.34" y="743.34" width="5.2" height="25.66" fill="#4a9bcb" stroke="#2f6f96" stroke-width="0.9"/>
<rect x="179.19" y="745.97" width="5.2" height="23.03" fill="#4a9bcb" stroke="#2f6f96" stroke-width="0.9"/>
<rect x="187.03" y="750.82" width="5.2" height="18.18" fill="#4a9bcb" stroke="#2f6f96" stroke-width="0.9"/>
<rect x="194.88" y="757.28" width="5.2" height="11.72" fill="#4a9bcb" stroke="#2f6f96" stroke-width="0.9"/>
<rect x="202.73" y="759.10" width="5.2" height="9.90" fill="#4a9bcb" stroke="#2f6f96" stroke-width="0.9"/>
<rect x="210.58" y="764.55" width="5.2" height="4.45" fill="#4a9bcb" stroke="#2f6f96" stroke-width="0.9"/>
<rect x="218.42" y="769.00" width="5.2" height="1.41" fill="#4a9bcb" stroke="#2f6f96" stroke-width="0.9"/>
<rect x="226.27" y="769.00" width="5.2" height="7.88" fill="#4a9bcb" stroke="#2f6f96" stroke-width="0.9"/>
<rect x="234.12" y="769.00" width="5.2" height="11.11" fill="#4a9bcb" stroke="#2f6f96" stroke-width="0.9"/>
<rect x="241.96" y="769.00" width="5.2" height="13.13" fill="#4a9bcb" stroke="#2f6f96" stroke-width="0.9"/>
<rect x="249.81" y="769.00" width="5.2" height="11.11" fill="#4a9bcb" stroke="#2f6f96" stroke-width="0.9"/>
<rect x="257.66" y="769.00" width="5.2" height="9.50" fill="#4a9bcb" stroke="#2f6f96" stroke-width="0.9"/>
<rect x="265.50" y="769.00" width="5.2" height="5.05" fill="#4a9bcb" stroke="#2f6f96" stroke-width="0.9"/>
<rect x="273.35" y="769.00" width="5.2" height="2.83" fill="#4a9bcb" stroke="#2f6f96" stroke-width="0.9"/>
<rect x="281.20" y="769.00" width="5.2" height="3.43" fill="#4a9bcb" stroke="#2f6f96" stroke-width="0.9"/>
<rect x="289.05" y="769.00" width="5.2" height="1.21" fill="#4a9bcb" stroke="#2f6f96" stroke-width="0.9"/>
<rect x="296.89" y="759.30" width="5.2" height="9.70" fill="#4a9bcb" stroke="#2f6f96" stroke-width="0.9"/>
<rect x="304.74" y="758.09" width="5.2" height="10.91" fill="#4a9bcb" stroke="#2f6f96" stroke-width="0.9"/>
<rect x="312.59" y="757.28" width="5.2" height="11.72" fill="#4a9bcb" stroke="#2f6f96" stroke-width="0.9"/>
<rect x="320.43" y="762.13" width="5.2" height="6.87" fill="#4a9bcb" stroke="#2f6f96" stroke-width="0.9"/>
<rect x="328.28" y="769.00" width="5.2" height="9.29" fill="#4a9bcb" stroke="#2f6f96" stroke-width="0.9"/>
<rect x="336.13" y="769.00" width="5.2" height="23.03" fill="#4a9bcb" stroke="#2f6f96" stroke-width="0.9"/>
<rect x="343.97" y="769.00" width="5.2" height="30.71" fill="#4a9bcb" stroke="#2f6f96" stroke-width="0.9"/>
<rect x="351.82" y="769.00" width="5.2" height="34.15" fill="#4a9bcb" stroke="#2f6f96" stroke-width="0.9"/>
<rect x="359.67" y="769.00" width="5.2" height="35.36" fill="#4a9bcb" stroke="#2f6f96" stroke-width="0.9"/>
<rect x="367.51" y="769.00" width="5.2" height="35.97" fill="#4a9bcb" stroke="#2f6f96" stroke-width="0.9"/>
<rect x="375.36" y="769.00" width="5.2" height="34.15" fill="#4a9bcb" stroke="#2f6f96" stroke-width="0.9"/>
<rect x="383.21" y="769.00" width="5.2" height="24.65" fill="#4a9bcb" stroke="#2f6f96" stroke-width="0.9"/>
<rect x="391.06" y="769.00" width="5.2" height="19.60" fill="#4a9bcb" stroke="#2f6f96" stroke-width="0.9"/>
<rect x="398.90" y="769.00" width="5.2" height="12.33" fill="#4a9bcb" stroke="#2f6f96" stroke-width="0.9"/>
<rect x="406.75" y="769.00" width="5.2" height="4.45" fill="#4a9bcb" stroke="#2f6f96" stroke-width="0.9"/>
<line x1="414.50" x2="419.90" y1="768.60" y2="768.60" stroke="#2f6f96" stroke-width="1"/>
<rect x="422.44" y="769.00" width="5.2" height="1.82" fill="#4a9bcb" stroke="#2f6f96" stroke-width="0.9"/>
<rect x="430.29" y="769.00" width="5.2" height="4.45" fill="#4a9bcb" stroke="#2f6f96" stroke-width="0.9"/>
<rect x="438.14" y="769.00" width="5.2" height="6.26" fill="#4a9bcb" stroke="#2f6f96" stroke-width="0.9"/>
<rect x="445.99" y="769.00" width="5.2" height="7.88" fill="#4a9bcb" stroke="#2f6f96" stroke-width="0.9"/>
<rect x="453.83" y="769.00" width="5.2" height="8.89" fill="#4a9bcb" stroke="#2f6f96" stroke-width="0.9"/>
<rect x="461.68" y="769.00" width="5.2" height="9.50" fill="#4a9bcb" stroke="#2f6f96" stroke-width="0.9"/>
<rect x="469.53" y="769.00" width="5.2" height="8.89" fill="#4a9bcb" stroke="#2f6f96" stroke-width="0.9"/>
<rect x="477.37" y="769.00" width="5.2" height="7.48" fill="#4a9bcb" stroke="#2f6f96" stroke-width="0.9"/>
<rect x="485.22" y="769.00" width="5.2" height="5.05" fill="#4a9bcb" stroke="#2f6f96" stroke-width="0.9"/>
<rect x="493.07" y="769.00" width="5.2" height="5.66" fill="#4a9bcb" stroke="#2f6f96" stroke-width="0.9"/>
<line x1="500.81" x2="506.21" y1="769.40" y2="769.40" stroke="#2f6f96" stroke-width="1"/>
<rect x="508.76" y="766.17" width="5.2" height="2.83" fill="#4a9bcb" stroke="#2f6f96" stroke-width="0.9"/>
<rect x="516.61" y="765.57" width="5.2" height="3.43" fill="#4a9bcb" stroke="#2f6f96" stroke-width="0.9"/>
<rect x="524.46" y="763.54" width="5.2" height="5.46" fill="#4a9bcb" stroke="#2f6f96" stroke-width="0.9"/>
<rect x="532.30" y="763.14" width="5.2" height="5.86" fill="#4a9bcb" stroke="#2f6f96" stroke-width="0.9"/>
<rect x="540.15" y="759.71" width="5.2" height="9.29" fill="#4a9bcb" stroke="#2f6f96" stroke-width="0.9"/>
<rect x="548.00" y="753.64" width="5.2" height="15.36" fill="#4a9bcb" stroke="#2f6f96" stroke-width="0.9"/>
<rect x="555.84" y="715.25" width="5.2" height="53.75" fill="#4a9bcb" stroke="#2f6f96" stroke-width="0.9"/>
<rect x="563.69" y="704.14" width="5.2" height="64.86" fill="#4a9bcb" stroke="#2f6f96" stroke-width="0.9"/>
<rect x="571.54" y="717.88" width="5.2" height="51.12" fill="#4a9bcb" stroke="#2f6f96" stroke-width="0.9"/>
<rect x="579.38" y="733.84" width="5.2" height="35.16" fill="#4a9bcb" stroke="#2f6f96" stroke-width="0.9"/>
<rect x="587.23" y="753.64" width="5.2" height="15.36" fill="#4a9bcb" stroke="#2f6f96" stroke-width="0.9"/>
<rect x="595.08" y="765.57" width="5.2" height="3.43" fill="#4a9bcb" stroke="#2f6f96" stroke-width="0.9"/>
<line x1="602.82" x2="608.23" y1="769.40" y2="769.40" stroke="#2f6f96" stroke-width="1"/>
<rect x="610.77" y="767.59" width="5.2" height="1.41" fill="#4a9bcb" stroke="#2f6f96" stroke-width="0.9"/>
<rect x="618.62" y="766.98" width="5.2" height="2.02" fill="#4a9bcb" stroke="#2f6f96" stroke-width="0.9"/>
<rect x="626.47" y="764.76" width="5.2" height="4.24" fill="#4a9bcb" stroke="#2f6f96" stroke-width="0.9"/>
<line x1="634.21" x2="639.61" y1="769.40" y2="769.40" stroke="#2f6f96" stroke-width="1"/>
<rect x="642.16" y="769.00" width="5.2" height="3.64" fill="#4a9bcb" stroke="#2f6f96" stroke-width="0.9"/>
<line x1="649.91" x2="655.31" y1="769.40" y2="769.40" stroke="#2f6f96" stroke-width="1"/>
<rect x="657.85" y="767.59" width="5.2" height="1.41" fill="#4a9bcb" stroke="#2f6f96" stroke-width="0.9"/>
<rect x="665.70" y="761.73" width="5.2" height="7.27" fill="#4a9bcb" stroke="#2f6f96" stroke-width="0.9"/>
</g>
<g clip-path="url(#c_mp)">
<path d="M13.00,756.75 L17.00,756.25 L24.85,756.50 L32.69,758.00 L40.54,760.50 L48.39,762.50 L56.23,764.25 L64.08,767.50 L71.93,770.75 L79.78,774.50 L87.62,778.75 L95.47,782.25 L103.32,785.25 L111.16,787.50 L119.01,788.75 L126.86,787.00 L134.71,784.25 L142.55,779.50 L150.40,773.75 L158.25,766.25 L166.09,758.75 L173.94,752.00 L181.79,746.25 L189.63,742.50 L197.48,739.50 L205.33,738.00 L213.18,737.50 L221.02,738.00 L228.87,740.00 L236.72,743.25 L244.56,746.50 L252.41,749.00 L260.26,750.75 L268.10,751.75 L275.95,752.75 L283.80,753.50 L291.65,753.25 L299.49,750.75 L307.34,748.25 L315.19,745.00 L323.03,743.25 L330.88,745.75 L338.73,752.00 L346.57,760.00 L354.42,768.75 L362.27,777.00 L370.12,785.50 L377.96,793.75 L385.81,800.00 L393.66,804.50 L401.50,807.50 L409.35,808.75 L417.20,808.75 L425.04,809.00 L432.89,810.00 L440.74,811.50 L448.59,813.50 L456.43,816.00 L464.28,818.75 L472.13,820.50 L479.97,822.00 L487.82,823.25 L495.67,824.60 L503.51,824.50 L511.36,823.75 L519.21,822.50 L527.06,820.75 L534.90,818.75 L542.75,816.75 L550.60,812.00 L558.44,798.75 L566.29,782.50 L574.14,768.75 L581.98,761.25 L589.83,758.00 L597.68,757.00 L605.52,756.75 L613.37,756.25 L621.22,755.50 L629.07,754.75 L636.91,754.75 L644.76,755.25 L652.61,755.50 L660.45,755.00 L668.30,753.25" fill="none" stroke="#e8343c" stroke-width="1.1" stroke-linejoin="round"/>
<path d="M13.00,747.00 L17.00,750.50 L24.85,756.75 L32.69,764.50 L40.54,768.75 L48.39,770.50 L56.23,769.25 L64.08,775.50 L71.93,781.50 L79.78,786.75 L87.62,792.00 L95.47,796.75 L103.32,799.75 L111.16,795.50 L119.01,793.00 L126.86,781.00 L134.71,773.75 L142.55,761.25 L150.40,756.25 L158.25,741.25 L166.09,732.50 L173.94,728.75 L181.79,725.00 L189.63,726.00 L197.48,729.25 L205.33,728.25 L213.18,732.50 L221.02,738.75 L228.87,747.50 L236.72,753.75 L244.56,758.00 L252.41,758.75 L260.26,759.50 L268.10,755.50 L275.95,754.50 L283.80,756.25 L291.65,753.75 L299.49,740.75 L307.34,736.25 L315.19,732.50 L323.03,735.50 L330.88,756.25 L338.73,775.00 L346.57,788.75 L354.42,801.25 L362.27,812.00 L370.12,821.25 L377.96,827.50 L385.81,824.50 L393.66,823.50 L401.50,819.25 L409.35,812.50 L417.20,808.00 L425.04,810.50 L432.89,813.75 L440.74,817.50 L448.59,820.00 L456.43,823.75 L464.28,826.75 L472.13,829.25 L479.97,829.25 L487.82,828.25 L495.67,829.25 L503.51,825.00 L511.36,820.00 L519.21,818.00 L527.06,815.00 L534.90,812.50 L542.75,807.00 L550.60,796.75 L558.44,747.50 L566.29,718.75 L574.14,719.25 L581.98,727.00 L589.83,742.50 L597.68,753.00 L605.52,757.25 L613.37,754.75 L621.22,753.25 L629.07,750.50 L636.91,754.25 L644.76,758.75 L652.61,755.75 L660.45,754.00 L668.30,745.75" fill="none" stroke="#262e30" stroke-width="1.3" stroke-linejoin="round"/>
</g>
<g clip-path="url(#c_sp)">
<path d="M13.00,889.25 L17.00,895.50 L24.85,907.50 L32.69,922.50 L40.54,931.25 L48.39,935.00 L56.23,932.50 L64.08,930.00 L71.93,932.50 L79.78,942.50 L87.62,953.25 L95.47,960.75 L103.32,962.50 L111.16,957.50 L119.01,949.50 L126.86,932.50 L134.71,914.50 L142.55,890.75 L150.40,875.00 L158.25,863.25 L166.09,862.00 L173.94,860.50 L181.79,866.25 L189.63,871.25 L197.48,877.50 L205.33,881.75 L213.18,885.75 L221.02,890.75 L228.87,902.00 L236.72,917.50 L244.56,936.25 L252.41,947.00 L260.26,949.75 L268.10,942.50 L275.95,931.25 L283.80,920.00 L291.65,910.50 L299.49,897.00 L307.34,882.50 L315.19,870.00 L323.03,872.50 L330.88,889.50 L338.73,914.25 L346.57,938.75 L354.42,955.00 L362.27,962.50 L370.12,963.50 L377.96,962.75 L385.81,958.50 L393.66,953.00 L401.50,944.50 L409.35,937.00 L417.20,930.00 L425.04,927.50 L432.89,929.25 L440.74,936.75 L448.59,944.25 L456.43,951.75 L464.28,957.50 L472.13,961.75 L479.97,963.25 L487.82,961.25 L495.67,958.25 L503.51,955.00 L511.36,951.25 L519.21,945.50 L527.06,941.25 L534.90,937.00 L542.75,926.75 L550.60,905.00 L558.44,878.75 L566.29,861.50 L574.14,863.00 L581.98,881.25 L589.83,908.75 L597.68,930.00 L605.52,943.75 L613.37,945.50 L621.22,942.50 L629.07,936.75 L636.91,933.25 L644.76,934.75 L652.61,938.25 L660.45,940.75 L668.30,936.75" fill="none" stroke="#ee3238" stroke-width="1.2" stroke-linejoin="round"/>
<path d="M13.00,901.75 L17.00,911.25 L24.85,922.50 L32.69,933.75 L40.54,936.50 L48.39,934.50 L56.23,925.75 L64.08,930.00 L71.93,941.25 L79.78,956.25 L87.62,962.50 L95.47,963.25 L103.32,961.75 L111.16,948.25 L119.01,938.25 L126.86,910.00 L134.71,895.50 L142.55,867.00 L150.40,867.00 L158.25,856.25 L166.09,862.50 L173.94,863.75 L181.79,872.50 L189.63,877.50 L197.48,883.00 L205.33,885.00 L213.18,889.50 L221.02,897.50 L228.87,917.50 L236.72,937.50 L244.56,953.00 L252.41,951.25 L260.26,945.50 L268.10,928.75 L275.95,919.50 L283.80,911.75 L291.65,900.75 L299.49,879.25 L307.34,865.25 L315.19,866.25 L323.03,886.25 L330.88,912.50 L338.73,942.50 L346.57,960.00 L354.42,963.25 L362.27,963.50 L370.12,963.25 L377.96,961.75 L385.81,951.75 L393.66,944.25 L401.50,936.25 L409.35,930.50 L417.20,924.25 L425.04,928.25 L432.89,935.75 L440.74,946.25 L448.59,950.75 L456.43,957.50 L464.28,962.00 L472.13,965.25 L479.97,960.75 L487.82,957.00 L495.67,956.75 L503.51,951.25 L511.36,945.75 L519.21,939.00 L527.06,938.75 L534.90,933.25 L542.75,907.50 L550.60,876.25 L558.44,851.50 L566.29,855.25 L574.14,882.50 L581.98,910.00 L589.83,937.00 L597.68,945.50 L605.52,949.75 L613.37,941.75 L621.22,935.50 L629.07,930.75 L636.91,933.75 L644.76,940.00 L652.61,942.25 L660.45,940.00 L668.30,927.75" fill="none" stroke="#1f2e30" stroke-width="1.35" stroke-linejoin="round"/>
</g>
<line x1="13.0" x2="988.5" y1="159.70" y2="159.70" stroke="#9292a6" stroke-width="1.25"/>
<line x1="13.0" x2="988.5" y1="697.90" y2="697.90" stroke="#9292a6" stroke-width="1.25"/>
<line x1="13.0" x2="988.5" y1="835.00" y2="835.00" stroke="#9292a6" stroke-width="1.25"/>
<path d="M988.5,23.5 H13.5 V549.20 H988.5" fill="none" stroke="#9c9cb0" stroke-width="1"/>
<line x1="988.0" x2="988.0" y1="23.0" y2="549.6" stroke="#c9c9da" stroke-width="1"/>
<path d="M988.5,561.7 H13.5 V971.30 H988.5" fill="none" stroke="#9c9cb0" stroke-width="1"/>
<line x1="988.0" x2="988.0" y1="561.2" y2="971.7" stroke="#c9c9da" stroke-width="1"/>
<line x1="17.00" x2="17.00" y1="549.6" y2="551.2" stroke="#888" stroke-width="0.8"/>
<line x1="17.00" x2="17.00" y1="559.6" y2="561.2" stroke="#888" stroke-width="0.8"/>
<line x1="17.00" x2="17.00" y1="971.7" y2="973.3000000000001" stroke="#888" stroke-width="0.8"/>
<line x1="24.85" x2="24.85" y1="549.6" y2="551.2" stroke="#888" stroke-width="0.8"/>
<line x1="24.85" x2="24.85" y1="559.6" y2="561.2" stroke="#888" stroke-width="0.8"/>
<line x1="24.85" x2="24.85" y1="971.7" y2="973.3000000000001" stroke="#888" stroke-width="0.8"/>
<line x1="32.69" x2="32.69" y1="549.6" y2="551.2" stroke="#888" stroke-width="0.8"/>
<line x1="32.69" x2="32.69" y1="559.6" y2="561.2" stroke="#888" stroke-width="0.8"/>
<line x1="32.69" x2="32.69" y1="971.7" y2="973.3000000000001" stroke="#888" stroke-width="0.8"/>
<line x1="40.54" x2="40.54" y1="549.6" y2="551.2" stroke="#888" stroke-width="0.8"/>
<line x1="40.54" x2="40.54" y1="559.6" y2="561.2" stroke="#888" stroke-width="0.8"/>
<line x1="40.54" x2="40.54" y1="971.7" y2="973.3000000000001" stroke="#888" stroke-width="0.8"/>
<line x1="48.39" x2="48.39" y1="549.6" y2="551.2" stroke="#888" stroke-width="0.8"/>
<line x1="48.39" x2="48.39" y1="559.6" y2="561.2" stroke="#888" stroke-width="0.8"/>
<line x1="48.39" x2="48.39" y1="971.7" y2="973.3000000000001" stroke="#888" stroke-width="0.8"/>
<line x1="56.23" x2="56.23" y1="549.6" y2="551.2" stroke="#888" stroke-width="0.8"/>
<line x1="56.23" x2="56.23" y1="559.6" y2="561.2" stroke="#888" stroke-width="0.8"/>
<line x1="56.23" x2="56.23" y1="971.7" y2="973.3000000000001" stroke="#888" stroke-width="0.8"/>
<line x1="64.08" x2="64.08" y1="549.6" y2="551.2" stroke="#888" stroke-width="0.8"/>
<line x1="64.08" x2="64.08" y1="559.6" y2="561.2" stroke="#888" stroke-width="0.8"/>
<line x1="64.08" x2="64.08" y1="971.7" y2="973.3000000000001" stroke="#888" stroke-width="0.8"/>
<line x1="71.93" x2="71.93" y1="549.6" y2="551.2" stroke="#888" stroke-width="0.8"/>
<line x1="71.93" x2="71.93" y1="559.6" y2="561.2" stroke="#888" stroke-width="0.8"/>
<line x1="71.93" x2="71.93" y1="971.7" y2="973.3000000000001" stroke="#888" stroke-width="0.8"/>
<line x1="79.78" x2="79.78" y1="549.6" y2="551.2" stroke="#888" stroke-width="0.8"/>
<line x1="79.78" x2="79.78" y1="559.6" y2="561.2" stroke="#888" stroke-width="0.8"/>
<line x1="79.78" x2="79.78" y1="971.7" y2="973.3000000000001" stroke="#888" stroke-width="0.8"/>
<line x1="87.62" x2="87.62" y1="549.6" y2="551.2" stroke="#888" stroke-width="0.8"/>
<line x1="87.62" x2="87.62" y1="559.6" y2="561.2" stroke="#888" stroke-width="0.8"/>
<line x1="87.62" x2="87.62" y1="971.7" y2="973.3000000000001" stroke="#888" stroke-width="0.8"/>
<line x1="95.47" x2="95.47" y1="549.6" y2="551.2" stroke="#888" stroke-width="0.8"/>
<line x1="95.47" x2="95.47" y1="559.6" y2="561.2" stroke="#888" stroke-width="0.8"/>
<line x1="95.47" x2="95.47" y1="971.7" y2="973.3000000000001" stroke="#888" stroke-width="0.8"/>
<line x1="103.32" x2="103.32" y1="549.6" y2="551.2" stroke="#888" stroke-width="0.8"/>
<line x1="103.32" x2="103.32" y1="559.6" y2="561.2" stroke="#888" stroke-width="0.8"/>
<line x1="103.32" x2="103.32" y1="971.7" y2="973.3000000000001" stroke="#888" stroke-width="0.8"/>
<line x1="111.16" x2="111.16" y1="549.6" y2="551.2" stroke="#888" stroke-width="0.8"/>
<line x1="111.16" x2="111.16" y1="559.6" y2="561.2" stroke="#888" stroke-width="0.8"/>
<line x1="111.16" x2="111.16" y1="971.7" y2="973.3000000000001" stroke="#888" stroke-width="0.8"/>
<line x1="119.01" x2="119.01" y1="549.6" y2="551.2" stroke="#888" stroke-width="0.8"/>
<line x1="119.01" x2="119.01" y1="559.6" y2="561.2" stroke="#888" stroke-width="0.8"/>
<line x1="119.01" x2="119.01" y1="971.7" y2="973.3000000000001" stroke="#888" stroke-width="0.8"/>
<line x1="126.86" x2="126.86" y1="549.6" y2="551.2" stroke="#888" stroke-width="0.8"/>
<line x1="126.86" x2="126.86" y1="559.6" y2="561.2" stroke="#888" stroke-width="0.8"/>
<line x1="126.86" x2="126.86" y1="971.7" y2="973.3000000000001" stroke="#888" stroke-width="0.8"/>
<line x1="134.71" x2="134.71" y1="549.6" y2="551.2" stroke="#888" stroke-width="0.8"/>
<line x1="134.71" x2="134.71" y1="559.6" y2="561.2" stroke="#888" stroke-width="0.8"/>
<line x1="134.71" x2="134.71" y1="971.7" y2="973.3000000000001" stroke="#888" stroke-width="0.8"/>
<line x1="142.55" x2="142.55" y1="549.6" y2="551.2" stroke="#888" stroke-width="0.8"/>
<line x1="142.55" x2="142.55" y1="559.6" y2="561.2" stroke="#888" stroke-width="0.8"/>
<line x1="142.55" x2="142.55" y1="971.7" y2="973.3000000000001" stroke="#888" stroke-width="0.8"/>
<line x1="150.40" x2="150.40" y1="549.6" y2="551.2" stroke="#888" stroke-width="0.8"/>
<line x1="150.40" x2="150.40" y1="559.6" y2="561.2" stroke="#888" stroke-width="0.8"/>
<line x1="150.40" x2="150.40" y1="971.7" y2="973.3000000000001" stroke="#888" stroke-width="0.8"/>
<line x1="158.25" x2="158.25" y1="549.6" y2="551.2" stroke="#888" stroke-width="0.8"/>
<line x1="158.25" x2="158.25" y1="559.6" y2="561.2" stroke="#888" stroke-width="0.8"/>
<line x1="158.25" x2="158.25" y1="971.7" y2="973.3000000000001" stroke="#888" stroke-width="0.8"/>
<line x1="166.09" x2="166.09" y1="549.6" y2="551.2" stroke="#888" stroke-width="0.8"/>
<line x1="166.09" x2="166.09" y1="559.6" y2="561.2" stroke="#888" stroke-width="0.8"/>
<line x1="166.09" x2="166.09" y1="971.7" y2="973.3000000000001" stroke="#888" stroke-width="0.8"/>
<line x1="173.94" x2="173.94" y1="549.6" y2="551.2" stroke="#888" stroke-width="0.8"/>
<line x1="173.94" x2="173.94" y1="559.6" y2="561.2" stroke="#888" stroke-width="0.8"/>
<line x1="173.94" x2="173.94" y1="971.7" y2="973.3000000000001" stroke="#888" stroke-width="0.8"/>
<line x1="181.79" x2="181.79" y1="549.6" y2="551.2" stroke="#888" stroke-width="0.8"/>
<line x1="181.79" x2="181.79" y1="559.6" y2="561.2" stroke="#888" stroke-width="0.8"/>
<line x1="181.79" x2="181.79" y1="971.7" y2="973.3000000000001" stroke="#888" stroke-width="0.8"/>
<line x1="189.63" x2="189.63" y1="549.6" y2="551.2" stroke="#888" stroke-width="0.8"/>
<line x1="189.63" x2="189.63" y1="559.6" y2="561.2" stroke="#888" stroke-width="0.8"/>
<line x1="189.63" x2="189.63" y1="971.7" y2="973.3000000000001" stroke="#888" stroke-width="0.8"/>
<line x1="197.48" x2="197.48" y1="549.6" y2="551.2" stroke="#888" stroke-width="0.8"/>
<line x1="197.48" x2="197.48" y1="559.6" y2="561.2" stroke="#888" stroke-width="0.8"/>
<line x1="197.48" x2="197.48" y1="971.7" y2="973.3000000000001" stroke="#888" stroke-width="0.8"/>
<line x1="205.33" x2="205.33" y1="549.6" y2="551.2" stroke="#888" stroke-width="0.8"/>
<line x1="205.33" x2="205.33" y1="559.6" y2="561.2" stroke="#888" stroke-width="0.8"/>
<line x1="205.33" x2="205.33" y1="971.7" y2="973.3000000000001" stroke="#888" stroke-width="0.8"/>
<line x1="213.18" x2="213.18" y1="549.6" y2="551.2" stroke="#888" stroke-width="0.8"/>
<line x1="213.18" x2="213.18" y1="559.6" y2="561.2" stroke="#888" stroke-width="0.8"/>
<line x1="213.18" x2="213.18" y1="971.7" y2="973.3000000000001" stroke="#888" stroke-width="0.8"/>
<line x1="221.02" x2="221.02" y1="549.6" y2="551.2" stroke="#888" stroke-width="0.8"/>
<line x1="221.02" x2="221.02" y1="559.6" y2="561.2" stroke="#888" stroke-width="0.8"/>
<line x1="221.02" x2="221.02" y1="971.7" y2="973.3000000000001" stroke="#888" stroke-width="0.8"/>
<line x1="228.87" x2="228.87" y1="549.6" y2="551.2" stroke="#888" stroke-width="0.8"/>
<line x1="228.87" x2="228.87" y1="559.6" y2="561.2" stroke="#888" stroke-width="0.8"/>
<line x1="228.87" x2="228.87" y1="971.7" y2="973.3000000000001" stroke="#888" stroke-width="0.8"/>
<line x1="236.72" x2="236.72" y1="549.6" y2="551.2" stroke="#888" stroke-width="0.8"/>
<line x1="236.72" x2="236.72" y1="559.6" y2="561.2" stroke="#888" stroke-width="0.8"/>
<line x1="236.72" x2="236.72" y1="971.7" y2="973.3000000000001" stroke="#888" stroke-width="0.8"/>
<line x1="244.56" x2="244.56" y1="549.6" y2="551.2" stroke="#888" stroke-width="0.8"/>
<line x1="244.56" x2="244.56" y1="559.6" y2="561.2" stroke="#888" stroke-width="0.8"/>
<line x1="244.56" x2="244.56" y1="971.7" y2="973.3000000000001" stroke="#888" stroke-width="0.8"/>
<line x1="252.41" x2="252.41" y1="549.6" y2="551.2" stroke="#888" stroke-width="0.8"/>
<line x1="252.41" x2="252.41" y1="559.6" y2="561.2" stroke="#888" stroke-width="0.8"/>
<line x1="252.41" x2="252.41" y1="971.7" y2="973.3000000000001" stroke="#888" stroke-width="0.8"/>
<line x1="260.26" x2="260.26" y1="549.6" y2="551.2" stroke="#888" stroke-width="0.8"/>
<line x1="260.26" x2="260.26" y1="559.6" y2="561.2" stroke="#888" stroke-width="0.8"/>
<line x1="260.26" x2="260.26" y1="971.7" y2="973.3000000000001" stroke="#888" stroke-width="0.8"/>
<line x1="268.10" x2="268.10" y1="549.6" y2="551.2" stroke="#888" stroke-width="0.8"/>
<line x1="268.10" x2="268.10" y1="559.6" y2="561.2" stroke="#888" stroke-width="0.8"/>
<line x1="268.10" x2="268.10" y1="971.7" y2="973.3000000000001" stroke="#888" stroke-width="0.8"/>
<line x1="275.95" x2="275.95" y1="549.6" y2="551.2" stroke="#888" stroke-width="0.8"/>
<line x1="275.95" x2="275.95" y1="559.6" y2="561.2" stroke="#888" stroke-width="0.8"/>
<line x1="275.95" x2="275.95" y1="971.7" y2="973.3000000000001" stroke="#888" stroke-width="0.8"/>
<line x1="283.80" x2="283.80" y1="549.6" y2="551.2" stroke="#888" stroke-width="0.8"/>
<line x1="283.80" x2="283.80" y1="559.6" y2="561.2" stroke="#888" stroke-width="0.8"/>
<line x1="283.80" x2="283.80" y1="971.7" y2="973.3000000000001" stroke="#888" stroke-width="0.8"/>
<line x1="291.65" x2="291.65" y1="549.6" y2="551.2" stroke="#888" stroke-width="0.8"/>
<line x1="291.65" x2="291.65" y1="559.6" y2="561.2" stroke="#888" stroke-width="0.8"/>
<line x1="291.65" x2="291.65" y1="971.7" y2="973.3000000000001" stroke="#888" stroke-width="0.8"/>
<line x1="299.49" x2="299.49" y1="549.6" y2="551.2" stroke="#888" stroke-width="0.8"/>
<line x1="299.49" x2="299.49" y1="559.6" y2="561.2" stroke="#888" stroke-width="0.8"/>
<line x1="299.49" x2="299.49" y1="971.7" y2="973.3000000000001" stroke="#888" stroke-width="0.8"/>
<line x1="307.34" x2="307.34" y1="549.6" y2="551.2" stroke="#888" stroke-width="0.8"/>
<line x1="307.34" x2="307.34" y1="559.6" y2="561.2" stroke="#888" stroke-width="0.8"/>
<line x1="307.34" x2="307.34" y1="971.7" y2="973.3000000000001" stroke="#888" stroke-width="0.8"/>
<line x1="315.19" x2="315.19" y1="549.6" y2="551.2" stroke="#888" stroke-width="0.8"/>
<line x1="315.19" x2="315.19" y1="559.6" y2="561.2" stroke="#888" stroke-width="0.8"/>
<line x1="315.19" x2="315.19" y1="971.7" y2="973.3000000000001" stroke="#888" stroke-width="0.8"/>
<line x1="323.03" x2="323.03" y1="549.6" y2="551.2" stroke="#888" stroke-width="0.8"/>
<line x1="323.03" x2="323.03" y1="559.6" y2="561.2" stroke="#888" stroke-width="0.8"/>
<line x1="323.03" x2="323.03" y1="971.7" y2="973.3000000000001" stroke="#888" stroke-width="0.8"/>
<line x1="330.88" x2="330.88" y1="549.6" y2="551.2" stroke="#888" stroke-width="0.8"/>
<line x1="330.88" x2="330.88" y1="559.6" y2="561.2" stroke="#888" stroke-width="0.8"/>
<line x1="330.88" x2="330.88" y1="971.7" y2="973.3000000000001" stroke="#888" stroke-width="0.8"/>
<line x1="338.73" x2="338.73" y1="549.6" y2="551.2" stroke="#888" stroke-width="0.8"/>
<line x1="338.73" x2="338.73" y1="559.6" y2="561.2" stroke="#888" stroke-width="0.8"/>
<line x1="338.73" x2="338.73" y1="971.7" y2="973.3000000000001" stroke="#888" stroke-width="0.8"/>
<line x1="346.57" x2="346.57" y1="549.6" y2="551.2" stroke="#888" stroke-width="0.8"/>
<line x1="346.57" x2="346.57" y1="559.6" y2="561.2" stroke="#888" stroke-width="0.8"/>
<line x1="346.57" x2="346.57" y1="971.7" y2="973.3000000000001" stroke="#888" stroke-width="0.8"/>
<line x1="354.42" x2="354.42" y1="549.6" y2="551.2" stroke="#888" stroke-width="0.8"/>
<line x1="354.42" x2="354.42" y1="559.6" y2="561.2" stroke="#888" stroke-width="0.8"/>
<line x1="354.42" x2="354.42" y1="971.7" y2="973.3000000000001" stroke="#888" stroke-width="0.8"/>
<line x1="362.27" x2="362.27" y1="549.6" y2="551.2" stroke="#888" stroke-width="0.8"/>
<line x1="362.27" x2="362.27" y1="559.6" y2="561.2" stroke="#888" stroke-width="0.8"/>
<line x1="362.27" x2="362.27" y1="971.7" y2="973.3000000000001" stroke="#888" stroke-width="0.8"/>
<line x1="370.12" x2="370.12" y1="549.6" y2="551.2" stroke="#888" stroke-width="0.8"/>
<line x1="370.12" x2="370.12" y1="559.6" y2="561.2" stroke="#888" stroke-width="0.8"/>
<line x1="370.12" x2="370.12" y1="971.7" y2="973.3000000000001" stroke="#888" stroke-width="0.8"/>
<line x1="377.96" x2="377.96" y1="549.6" y2="551.2" stroke="#888" stroke-width="0.8"/>
<line x1="377.96" x2="377.96" y1="559.6" y2="561.2" stroke="#888" stroke-width="0.8"/>
<line x1="377.96" x2="377.96" y1="971.7" y2="973.3000000000001" stroke="#888" stroke-width="0.8"/>
<line x1="385.81" x2="385.81" y1="549.6" y2="551.2" stroke="#888" stroke-width="0.8"/>
<line x1="385.81" x2="385.81" y1="559.6" y2="561.2" stroke="#888" stroke-width="0.8"/>
<line x1="385.81" x2="385.81" y1="971.7" y2="973.3000000000001" stroke="#888" stroke-width="0.8"/>
<line x1="393.66" x2="393.66" y1="549.6" y2="551.2" stroke="#888" stroke-width="0.8"/>
<line x1="393.66" x2="393.66" y1="559.6" y2="561.2" stroke="#888" stroke-width="0.8"/>
<line x1="393.66" x2="393.66" y1="971.7" y2="973.3000000000001" stroke="#888" stroke-width="0.8"/>
<line x1="401.50" x2="401.50" y1="549.6" y2="551.2" stroke="#888" stroke-width="0.8"/>
<line x1="401.50" x2="401.50" y1="559.6" y2="561.2" stroke="#888" stroke-width="0.8"/>
<line x1="401.50" x2="401.50" y1="971.7" y2="973.3000000000001" stroke="#888" stroke-width="0.8"/>
<line x1="409.35" x2="409.35" y1="549.6" y2="551.2" stroke="#888" stroke-width="0.8"/>
<line x1="409.35" x2="409.35" y1="559.6" y2="561.2" stroke="#888" stroke-width="0.8"/>
<line x1="409.35" x2="409.35" y1="971.7" y2="973.3000000000001" stroke="#888" stroke-width="0.8"/>
<line x1="417.20" x2="417.20" y1="549.6" y2="551.2" stroke="#888" stroke-width="0.8"/>
<line x1="417.20" x2="417.20" y1="559.6" y2="561.2" stroke="#888" stroke-width="0.8"/>
<line x1="417.20" x2="417.20" y1="971.7" y2="973.3000000000001" stroke="#888" stroke-width="0.8"/>
<line x1="425.04" x2="425.04" y1="549.6" y2="551.2" stroke="#888" stroke-width="0.8"/>
<line x1="425.04" x2="425.04" y1="559.6" y2="561.2" stroke="#888" stroke-width="0.8"/>
<line x1="425.04" x2="425.04" y1="971.7" y2="973.3000000000001" stroke="#888" stroke-width="0.8"/>
<line x1="432.89" x2="432.89" y1="549.6" y2="551.2" stroke="#888" stroke-width="0.8"/>
<line x1="432.89" x2="432.89" y1="559.6" y2="561.2" stroke="#888" stroke-width="0.8"/>
<line x1="432.89" x2="432.89" y1="971.7" y2="973.3000000000001" stroke="#888" stroke-width="0.8"/>
<line x1="440.74" x2="440.74" y1="549.6" y2="551.2" stroke="#888" stroke-width="0.8"/>
<line x1="440.74" x2="440.74" y1="559.6" y2="561.2" stroke="#888" stroke-width="0.8"/>
<line x1="440.74" x2="440.74" y1="971.7" y2="973.3000000000001" stroke="#888" stroke-width="0.8"/>
<line x1="448.59" x2="448.59" y1="549.6" y2="551.2" stroke="#888" stroke-width="0.8"/>
<line x1="448.59" x2="448.59" y1="559.6" y2="561.2" stroke="#888" stroke-width="0.8"/>
<line x1="448.59" x2="448.59" y1="971.7" y2="973.3000000000001" stroke="#888" stroke-width="0.8"/>
<line x1="456.43" x2="456.43" y1="549.6" y2="551.2" stroke="#888" stroke-width="0.8"/>
<line x1="456.43" x2="456.43" y1="559.6" y2="561.2" stroke="#888" stroke-width="0.8"/>
<line x1="456.43" x2="456.43" y1="971.7" y2="973.3000000000001" stroke="#888" stroke-width="0.8"/>
<line x1="464.28" x2="464.28" y1="549.6" y2="551.2" stroke="#888" stroke-width="0.8"/>
<line x1="464.28" x2="464.28" y1="559.6" y2="561.2" stroke="#888" stroke-width="0.8"/>
<line x1="464.28" x2="464.28" y1="971.7" y2="973.3000000000001" stroke="#888" stroke-width="0.8"/>
<line x1="472.13" x2="472.13" y1="549.6" y2="551.2" stroke="#888" stroke-width="0.8"/>
<line x1="472.13" x2="472.13" y1="559.6" y2="561.2" stroke="#888" stroke-width="0.8"/>
<line x1="472.13" x2="472.13" y1="971.7" y2="973.3000000000001" stroke="#888" stroke-width="0.8"/>
<line x1="479.97" x2="479.97" y1="549.6" y2="551.2" stroke="#888" stroke-width="0.8"/>
<line x1="479.97" x2="479.97" y1="559.6" y2="561.2" stroke="#888" stroke-width="0.8"/>
<line x1="479.97" x2="479.97" y1="971.7" y2="973.3000000000001" stroke="#888" stroke-width="0.8"/>
<line x1="487.82" x2="487.82" y1="549.6" y2="551.2" stroke="#888" stroke-width="0.8"/>
<line x1="487.82" x2="487.82" y1="559.6" y2="561.2" stroke="#888" stroke-width="0.8"/>
<line x1="487.82" x2="487.82" y1="971.7" y2="973.3000000000001" stroke="#888" stroke-width="0.8"/>
<line x1="495.67" x2="495.67" y1="549.6" y2="551.2" stroke="#888" stroke-width="0.8"/>
<line x1="495.67" x2="495.67" y1="559.6" y2="561.2" stroke="#888" stroke-width="0.8"/>
<line x1="495.67" x2="495.67" y1="971.7" y2="973.3000000000001" stroke="#888" stroke-width="0.8"/>
<line x1="503.51" x2="503.51" y1="549.6" y2="551.2" stroke="#888" stroke-width="0.8"/>
<line x1="503.51" x2="503.51" y1="559.6" y2="561.2" stroke="#888" stroke-width="0.8"/>
<line x1="503.51" x2="503.51" y1="971.7" y2="973.3000000000001" stroke="#888" stroke-width="0.8"/>
<line x1="511.36" x2="511.36" y1="549.6" y2="551.2" stroke="#888" stroke-width="0.8"/>
<line x1="511.36" x2="511.36" y1="559.6" y2="561.2" stroke="#888" stroke-width="0.8"/>
<line x1="511.36" x2="511.36" y1="971.7" y2="973.3000000000001" stroke="#888" stroke-width="0.8"/>
<line x1="519.21" x2="519.21" y1="549.6" y2="551.2" stroke="#888" stroke-width="0.8"/>
<line x1="519.21" x2="519.21" y1="559.6" y2="561.2" stroke="#888" stroke-width="0.8"/>
<line x1="519.21" x2="519.21" y1="971.7" y2="973.3000000000001" stroke="#888" stroke-width="0.8"/>
<line x1="527.06" x2="527.06" y1="549.6" y2="551.2" stroke="#888" stroke-width="0.8"/>
<line x1="527.06" x2="527.06" y1="559.6" y2="561.2" stroke="#888" stroke-width="0.8"/>
<line x1="527.06" x2="527.06" y1="971.7" y2="973.3000000000001" stroke="#888" stroke-width="0.8"/>
<line x1="534.90" x2="534.90" y1="549.6" y2="551.2" stroke="#888" stroke-width="0.8"/>
<line x1="534.90" x2="534.90" y1="559.6" y2="561.2" stroke="#888" stroke-width="0.8"/>
<line x1="534.90" x2="534.90" y1="971.7" y2="973.3000000000001" stroke="#888" stroke-width="0.8"/>
<line x1="542.75" x2="542.75" y1="549.6" y2="551.2" stroke="#888" stroke-width="0.8"/>
<line x1="542.75" x2="542.75" y1="559.6" y2="561.2" stroke="#888" stroke-width="0.8"/>
<line x1="542.75" x2="542.75" y1="971.7" y2="973.3000000000001" stroke="#888" stroke-width="0.8"/>
<line x1="550.60" x2="550.60" y1="549.6" y2="551.2" stroke="#888" stroke-width="0.8"/>
<line x1="550.60" x2="550.60" y1="559.6" y2="561.2" stroke="#888" stroke-width="0.8"/>
<line x1="550.60" x2="550.60" y1="971.7" y2="973.3000000000001" stroke="#888" stroke-width="0.8"/>
<line x1="558.44" x2="558.44" y1="549.6" y2="551.2" stroke="#888" stroke-width="0.8"/>
<line x1="558.44" x2="558.44" y1="559.6" y2="561.2" stroke="#888" stroke-width="0.8"/>
<line x1="558.44" x2="558.44" y1="971.7" y2="973.3000000000001" stroke="#888" stroke-width="0.8"/>
<line x1="566.29" x2="566.29" y1="549.6" y2="551.2" stroke="#888" stroke-width="0.8"/>
<line x1="566.29" x2="566.29" y1="559.6" y2="561.2" stroke="#888" stroke-width="0.8"/>
<line x1="566.29" x2="566.29" y1="971.7" y2="973.3000000000001" stroke="#888" stroke-width="0.8"/>
<line x1="574.14" x2="574.14" y1="549.6" y2="551.2" stroke="#888" stroke-width="0.8"/>
<line x1="574.14" x2="574.14" y1="559.6" y2="561.2" stroke="#888" stroke-width="0.8"/>
<line x1="574.14" x2="574.14" y1="971.7" y2="973.3000000000001" stroke="#888" stroke-width="0.8"/>
<line x1="581.98" x2="581.98" y1="549.6" y2="551.2" stroke="#888" stroke-width="0.8"/>
<line x1="581.98" x2="581.98" y1="559.6" y2="561.2" stroke="#888" stroke-width="0.8"/>
<line x1="581.98" x2="581.98" y1="971.7" y2="973.3000000000001" stroke="#888" stroke-width="0.8"/>
<line x1="589.83" x2="589.83" y1="549.6" y2="551.2" stroke="#888" stroke-width="0.8"/>
<line x1="589.83" x2="589.83" y1="559.6" y2="561.2" stroke="#888" stroke-width="0.8"/>
<line x1="589.83" x2="589.83" y1="971.7" y2="973.3000000000001" stroke="#888" stroke-width="0.8"/>
<line x1="597.68" x2="597.68" y1="549.6" y2="551.2" stroke="#888" stroke-width="0.8"/>
<line x1="597.68" x2="597.68" y1="559.6" y2="561.2" stroke="#888" stroke-width="0.8"/>
<line x1="597.68" x2="597.68" y1="971.7" y2="973.3000000000001" stroke="#888" stroke-width="0.8"/>
<line x1="605.52" x2="605.52" y1="549.6" y2="551.2" stroke="#888" stroke-width="0.8"/>
<line x1="605.52" x2="605.52" y1="559.6" y2="561.2" stroke="#888" stroke-width="0.8"/>
<line x1="605.52" x2="605.52" y1="971.7" y2="973.3000000000001" stroke="#888" stroke-width="0.8"/>
<line x1="613.37" x2="613.37" y1="549.6" y2="551.2" stroke="#888" stroke-width="0.8"/>
<line x1="613.37" x2="613.37" y1="559.6" y2="561.2" stroke="#888" stroke-width="0.8"/>
<line x1="613.37" x2="613.37" y1="971.7" y2="973.3000000000001" stroke="#888" stroke-width="0.8"/>
<line x1="621.22" x2="621.22" y1="549.6" y2="551.2" stroke="#888" stroke-width="0.8"/>
<line x1="621.22" x2="621.22" y1="559.6" y2="561.2" stroke="#888" stroke-width="0.8"/>
<line x1="621.22" x2="621.22" y1="971.7" y2="973.3000000000001" stroke="#888" stroke-width="0.8"/>
<line x1="629.07" x2="629.07" y1="549.6" y2="551.2" stroke="#888" stroke-width="0.8"/>
<line x1="629.07" x2="629.07" y1="559.6" y2="561.2" stroke="#888" stroke-width="0.8"/>
<line x1="629.07" x2="629.07" y1="971.7" y2="973.3000000000001" stroke="#888" stroke-width="0.8"/>
<line x1="636.91" x2="636.91" y1="549.6" y2="551.2" stroke="#888" stroke-width="0.8"/>
<line x1="636.91" x2="636.91" y1="559.6" y2="561.2" stroke="#888" stroke-width="0.8"/>
<line x1="636.91" x2="636.91" y1="971.7" y2="973.3000000000001" stroke="#888" stroke-width="0.8"/>
<line x1="644.76" x2="644.76" y1="549.6" y2="551.2" stroke="#888" stroke-width="0.8"/>
<line x1="644.76" x2="644.76" y1="559.6" y2="561.2" stroke="#888" stroke-width="0.8"/>
<line x1="644.76" x2="644.76" y1="971.7" y2="973.3000000000001" stroke="#888" stroke-width="0.8"/>
<line x1="652.61" x2="652.61" y1="549.6" y2="551.2" stroke="#888" stroke-width="0.8"/>
<line x1="652.61" x2="652.61" y1="559.6" y2="561.2" stroke="#888" stroke-width="0.8"/>
<line x1="652.61" x2="652.61" y1="971.7" y2="973.3000000000001" stroke="#888" stroke-width="0.8"/>
<line x1="660.45" x2="660.45" y1="549.6" y2="551.2" stroke="#888" stroke-width="0.8"/>
<line x1="660.45" x2="660.45" y1="559.6" y2="561.2" stroke="#888" stroke-width="0.8"/>
<line x1="660.45" x2="660.45" y1="971.7" y2="973.3000000000001" stroke="#888" stroke-width="0.8"/>
<line x1="668.30" x2="668.30" y1="549.6" y2="551.2" stroke="#888" stroke-width="0.8"/>
<line x1="668.30" x2="668.30" y1="559.6" y2="561.2" stroke="#888" stroke-width="0.8"/>
<line x1="668.30" x2="668.30" y1="971.7" y2="973.3000000000001" stroke="#888" stroke-width="0.8"/>
<line x1="676.15" x2="676.15" y1="549.6" y2="551.2" stroke="#888" stroke-width="0.8"/>
<line x1="676.15" x2="676.15" y1="559.6" y2="561.2" stroke="#888" stroke-width="0.8"/>
<line x1="676.15" x2="676.15" y1="971.7" y2="973.3000000000001" stroke="#888" stroke-width="0.8"/>
<line x1="684.00" x2="684.00" y1="549.6" y2="551.2" stroke="#888" stroke-width="0.8"/>
<line x1="684.00" x2="684.00" y1="559.6" y2="561.2" stroke="#888" stroke-width="0.8"/>
<line x1="684.00" x2="684.00" y1="971.7" y2="973.3000000000001" stroke="#888" stroke-width="0.8"/>
<line x1="691.84" x2="691.84" y1="549.6" y2="551.2" stroke="#888" stroke-width="0.8"/>
<line x1="691.84" x2="691.84" y1="559.6" y2="561.2" stroke="#888" stroke-width="0.8"/>
<line x1="691.84" x2="691.84" y1="971.7" y2="973.3000000000001" stroke="#888" stroke-width="0.8"/>
<line x1="699.69" x2="699.69" y1="549.6" y2="551.2" stroke="#888" stroke-width="0.8"/>
<line x1="699.69" x2="699.69" y1="559.6" y2="561.2" stroke="#888" stroke-width="0.8"/>
<line x1="699.69" x2="699.69" y1="971.7" y2="973.3000000000001" stroke="#888" stroke-width="0.8"/>
<line x1="707.54" x2="707.54" y1="549.6" y2="551.2" stroke="#888" stroke-width="0.8"/>
<line x1="707.54" x2="707.54" y1="559.6" y2="561.2" stroke="#888" stroke-width="0.8"/>
<line x1="707.54" x2="707.54" y1="971.7" y2="973.3000000000001" stroke="#888" stroke-width="0.8"/>
<line x1="715.38" x2="715.38" y1="549.6" y2="551.2" stroke="#888" stroke-width="0.8"/>
<line x1="715.38" x2="715.38" y1="559.6" y2="561.2" stroke="#888" stroke-width="0.8"/>
<line x1="715.38" x2="715.38" y1="971.7" y2="973.3000000000001" stroke="#888" stroke-width="0.8"/>
<line x1="723.23" x2="723.23" y1="549.6" y2="551.2" stroke="#888" stroke-width="0.8"/>
<line x1="723.23" x2="723.23" y1="559.6" y2="561.2" stroke="#888" stroke-width="0.8"/>
<line x1="723.23" x2="723.23" y1="971.7" y2="973.3000000000001" stroke="#888" stroke-width="0.8"/>
<line x1="731.08" x2="731.08" y1="549.6" y2="551.2" stroke="#888" stroke-width="0.8"/>
<line x1="731.08" x2="731.08" y1="559.6" y2="561.2" stroke="#888" stroke-width="0.8"/>
<line x1="731.08" x2="731.08" y1="971.7" y2="973.3000000000001" stroke="#888" stroke-width="0.8"/>
<line x1="738.92" x2="738.92" y1="549.6" y2="551.2" stroke="#888" stroke-width="0.8"/>
<line x1="738.92" x2="738.92" y1="559.6" y2="561.2" stroke="#888" stroke-width="0.8"/>
<line x1="738.92" x2="738.92" y1="971.7" y2="973.3000000000001" stroke="#888" stroke-width="0.8"/>
<line x1="746.77" x2="746.77" y1="549.6" y2="551.2" stroke="#888" stroke-width="0.8"/>
<line x1="746.77" x2="746.77" y1="559.6" y2="561.2" stroke="#888" stroke-width="0.8"/>
<line x1="746.77" x2="746.77" y1="971.7" y2="973.3000000000001" stroke="#888" stroke-width="0.8"/>
<line x1="754.62" x2="754.62" y1="549.6" y2="551.2" stroke="#888" stroke-width="0.8"/>
<line x1="754.62" x2="754.62" y1="559.6" y2="561.2" stroke="#888" stroke-width="0.8"/>
<line x1="754.62" x2="754.62" y1="971.7" y2="973.3000000000001" stroke="#888" stroke-width="0.8"/>
<line x1="762.47" x2="762.47" y1="549.6" y2="551.2" stroke="#888" stroke-width="0.8"/>
<line x1="762.47" x2="762.47" y1="559.6" y2="561.2" stroke="#888" stroke-width="0.8"/>
<line x1="762.47" x2="762.47" y1="971.7" y2="973.3000000000001" stroke="#888" stroke-width="0.8"/>
<line x1="770.31" x2="770.31" y1="549.6" y2="551.2" stroke="#888" stroke-width="0.8"/>
<line x1="770.31" x2="770.31" y1="559.6" y2="561.2" stroke="#888" stroke-width="0.8"/>
<line x1="770.31" x2="770.31" y1="971.7" y2="973.3000000000001" stroke="#888" stroke-width="0.8"/>
<line x1="778.16" x2="778.16" y1="549.6" y2="551.2" stroke="#888" stroke-width="0.8"/>
<line x1="778.16" x2="778.16" y1="559.6" y2="561.2" stroke="#888" stroke-width="0.8"/>
<line x1="778.16" x2="778.16" y1="971.7" y2="973.3000000000001" stroke="#888" stroke-width="0.8"/>
<line x1="786.01" x2="786.01" y1="549.6" y2="551.2" stroke="#888" stroke-width="0.8"/>
<line x1="786.01" x2="786.01" y1="559.6" y2="561.2" stroke="#888" stroke-width="0.8"/>
<line x1="786.01" x2="786.01" y1="971.7" y2="973.3000000000001" stroke="#888" stroke-width="0.8"/>
<line x1="793.85" x2="793.85" y1="549.6" y2="551.2" stroke="#888" stroke-width="0.8"/>
<line x1="793.85" x2="793.85" y1="559.6" y2="561.2" stroke="#888" stroke-width="0.8"/>
<line x1="793.85" x2="793.85" y1="971.7" y2="973.3000000000001" stroke="#888" stroke-width="0.8"/>
<line x1="801.70" x2="801.70" y1="549.6" y2="551.2" stroke="#888" stroke-width="0.8"/>
<line x1="801.70" x2="801.70" y1="559.6" y2="561.2" stroke="#888" stroke-width="0.8"/>
<line x1="801.70" x2="801.70" y1="971.7" y2="973.3000000000001" stroke="#888" stroke-width="0.8"/>
<line x1="809.55" x2="809.55" y1="549.6" y2="551.2" stroke="#888" stroke-width="0.8"/>
<line x1="809.55" x2="809.55" y1="559.6" y2="561.2" stroke="#888" stroke-width="0.8"/>
<line x1="809.55" x2="809.55" y1="971.7" y2="973.3000000000001" stroke="#888" stroke-width="0.8"/>
<line x1="817.39" x2="817.39" y1="549.6" y2="551.2" stroke="#888" stroke-width="0.8"/>
<line x1="817.39" x2="817.39" y1="559.6" y2="561.2" stroke="#888" stroke-width="0.8"/>
<line x1="817.39" x2="817.39" y1="971.7" y2="973.3000000000001" stroke="#888" stroke-width="0.8"/>
<line x1="825.24" x2="825.24" y1="549.6" y2="551.2" stroke="#888" stroke-width="0.8"/>
<line x1="825.24" x2="825.24" y1="559.6" y2="561.2" stroke="#888" stroke-width="0.8"/>
<line x1="825.24" x2="825.24" y1="971.7" y2="973.3000000000001" stroke="#888" stroke-width="0.8"/>
<line x1="833.09" x2="833.09" y1="549.6" y2="551.2" stroke="#888" stroke-width="0.8"/>
<line x1="833.09" x2="833.09" y1="559.6" y2="561.2" stroke="#888" stroke-width="0.8"/>
<line x1="833.09" x2="833.09" y1="971.7" y2="973.3000000000001" stroke="#888" stroke-width="0.8"/>
<line x1="840.94" x2="840.94" y1="549.6" y2="551.2" stroke="#888" stroke-width="0.8"/>
<line x1="840.94" x2="840.94" y1="559.6" y2="561.2" stroke="#888" stroke-width="0.8"/>
<line x1="840.94" x2="840.94" y1="971.7" y2="973.3000000000001" stroke="#888" stroke-width="0.8"/>
<line x1="848.78" x2="848.78" y1="549.6" y2="551.2" stroke="#888" stroke-width="0.8"/>
<line x1="848.78" x2="848.78" y1="559.6" y2="561.2" stroke="#888" stroke-width="0.8"/>
<line x1="848.78" x2="848.78" y1="971.7" y2="973.3000000000001" stroke="#888" stroke-width="0.8"/>
<line x1="856.63" x2="856.63" y1="549.6" y2="551.2" stroke="#888" stroke-width="0.8"/>
<line x1="856.63" x2="856.63" y1="559.6" y2="561.2" stroke="#888" stroke-width="0.8"/>
<line x1="856.63" x2="856.63" y1="971.7" y2="973.3000000000001" stroke="#888" stroke-width="0.8"/>
<line x1="864.48" x2="864.48" y1="549.6" y2="551.2" stroke="#888" stroke-width="0.8"/>
<line x1="864.48" x2="864.48" y1="559.6" y2="561.2" stroke="#888" stroke-width="0.8"/>
<line x1="864.48" x2="864.48" y1="971.7" y2="973.3000000000001" stroke="#888" stroke-width="0.8"/>
<line x1="872.32" x2="872.32" y1="549.6" y2="551.2" stroke="#888" stroke-width="0.8"/>
<line x1="872.32" x2="872.32" y1="559.6" y2="561.2" stroke="#888" stroke-width="0.8"/>
<line x1="872.32" x2="872.32" y1="971.7" y2="973.3000000000001" stroke="#888" stroke-width="0.8"/>
<line x1="880.17" x2="880.17" y1="549.6" y2="551.2" stroke="#888" stroke-width="0.8"/>
<line x1="880.17" x2="880.17" y1="559.6" y2="561.2" stroke="#888" stroke-width="0.8"/>
<line x1="880.17" x2="880.17" y1="971.7" y2="973.3000000000001" stroke="#888" stroke-width="0.8"/>
<line x1="888.02" x2="888.02" y1="549.6" y2="551.2" stroke="#888" stroke-width="0.8"/>
<line x1="888.02" x2="888.02" y1="559.6" y2="561.2" stroke="#888" stroke-width="0.8"/>
<line x1="888.02" x2="888.02" y1="971.7" y2="973.3000000000001" stroke="#888" stroke-width="0.8"/>
<line x1="895.86" x2="895.86" y1="549.6" y2="551.2" stroke="#888" stroke-width="0.8"/>
<line x1="895.86" x2="895.86" y1="559.6" y2="561.2" stroke="#888" stroke-width="0.8"/>
<line x1="895.86" x2="895.86" y1="971.7" y2="973.3000000000001" stroke="#888" stroke-width="0.8"/>
<line x1="903.71" x2="903.71" y1="549.6" y2="551.2" stroke="#888" stroke-width="0.8"/>
<line x1="903.71" x2="903.71" y1="559.6" y2="561.2" stroke="#888" stroke-width="0.8"/>
<line x1="903.71" x2="903.71" y1="971.7" y2="973.3000000000001" stroke="#888" stroke-width="0.8"/>
<line x1="911.56" x2="911.56" y1="549.6" y2="551.2" stroke="#888" stroke-width="0.8"/>
<line x1="911.56" x2="911.56" y1="559.6" y2="561.2" stroke="#888" stroke-width="0.8"/>
<line x1="911.56" x2="911.56" y1="971.7" y2="973.3000000000001" stroke="#888" stroke-width="0.8"/>
<line x1="919.41" x2="919.41" y1="549.6" y2="551.2" stroke="#888" stroke-width="0.8"/>
<line x1="919.41" x2="919.41" y1="559.6" y2="561.2" stroke="#888" stroke-width="0.8"/>
<line x1="919.41" x2="919.41" y1="971.7" y2="973.3000000000001" stroke="#888" stroke-width="0.8"/>
<line x1="927.25" x2="927.25" y1="549.6" y2="551.2" stroke="#888" stroke-width="0.8"/>
<line x1="927.25" x2="927.25" y1="559.6" y2="561.2" stroke="#888" stroke-width="0.8"/>
<line x1="927.25" x2="927.25" y1="971.7" y2="973.3000000000001" stroke="#888" stroke-width="0.8"/>
<line x1="935.10" x2="935.10" y1="549.6" y2="551.2" stroke="#888" stroke-width="0.8"/>
<line x1="935.10" x2="935.10" y1="559.6" y2="561.2" stroke="#888" stroke-width="0.8"/>
<line x1="935.10" x2="935.10" y1="971.7" y2="973.3000000000001" stroke="#888" stroke-width="0.8"/>
<line x1="942.95" x2="942.95" y1="549.6" y2="551.2" stroke="#888" stroke-width="0.8"/>
<line x1="942.95" x2="942.95" y1="559.6" y2="561.2" stroke="#888" stroke-width="0.8"/>
<line x1="942.95" x2="942.95" y1="971.7" y2="973.3000000000001" stroke="#888" stroke-width="0.8"/>
<line x1="950.79" x2="950.79" y1="549.6" y2="551.2" stroke="#888" stroke-width="0.8"/>
<line x1="950.79" x2="950.79" y1="559.6" y2="561.2" stroke="#888" stroke-width="0.8"/>
<line x1="950.79" x2="950.79" y1="971.7" y2="973.3000000000001" stroke="#888" stroke-width="0.8"/>
<line x1="958.64" x2="958.64" y1="549.6" y2="551.2" stroke="#888" stroke-width="0.8"/>
<line x1="958.64" x2="958.64" y1="559.6" y2="561.2" stroke="#888" stroke-width="0.8"/>
<line x1="958.64" x2="958.64" y1="971.7" y2="973.3000000000001" stroke="#888" stroke-width="0.8"/>
<line x1="966.49" x2="966.49" y1="549.6" y2="551.2" stroke="#888" stroke-width="0.8"/>
<line x1="966.49" x2="966.49" y1="559.6" y2="561.2" stroke="#888" stroke-width="0.8"/>
<line x1="966.49" x2="966.49" y1="971.7" y2="973.3000000000001" stroke="#888" stroke-width="0.8"/>
<line x1="974.33" x2="974.33" y1="549.6" y2="551.2" stroke="#888" stroke-width="0.8"/>
<line x1="974.33" x2="974.33" y1="559.6" y2="561.2" stroke="#888" stroke-width="0.8"/>
<line x1="974.33" x2="974.33" y1="971.7" y2="973.3000000000001" stroke="#888" stroke-width="0.8"/>
<line x1="982.18" x2="982.18" y1="549.6" y2="551.2" stroke="#888" stroke-width="0.8"/>
<line x1="982.18" x2="982.18" y1="559.6" y2="561.2" stroke="#888" stroke-width="0.8"/>
<line x1="982.18" x2="982.18" y1="971.7" y2="973.3000000000001" stroke="#888" stroke-width="0.8"/>
<text x="40.54" y="558.6" font-size="8.6" text-anchor="middle" fill="#222" >16</text>
<text x="79.78" y="558.6" font-size="8.6" text-anchor="middle" fill="#222" >23</text>
<text x="126.86" y="558.6" font-size="8.6" text-anchor="middle" fill="#222" font-weight="bold">Oct</text>
<text x="158.25" y="558.6" font-size="8.6" text-anchor="middle" fill="#222" >7</text>
<text x="197.48" y="558.6" font-size="8.6" text-anchor="middle" fill="#222" >14</text>
<text x="236.72" y="558.6" font-size="8.6" text-anchor="middle" fill="#222" >21</text>
<text x="275.95" y="558.6" font-size="8.6" text-anchor="middle" fill="#222" >28</text>
<text x="307.34" y="558.6" font-size="8.6" text-anchor="middle" fill="#222" font-weight="bold">Nov</text>
<text x="354.42" y="558.6" font-size="8.6" text-anchor="middle" fill="#222" >11</text>
<text x="393.66" y="558.6" font-size="8.6" text-anchor="middle" fill="#222" >18</text>
<text x="432.89" y="558.6" font-size="8.6" text-anchor="middle" fill="#222" >25</text>
<text x="464.28" y="558.6" font-size="8.6" text-anchor="middle" fill="#222" font-weight="bold">Dec</text>
<text x="503.51" y="558.6" font-size="8.6" text-anchor="middle" fill="#222" >9</text>
<text x="542.75" y="558.6" font-size="8.6" text-anchor="middle" fill="#222" >16</text>
<text x="581.98" y="558.6" font-size="8.6" text-anchor="middle" fill="#222" >23</text>
<text x="613.37" y="558.6" font-size="8.6" text-anchor="middle" fill="#222" >30</text>
<text x="628.57" y="558.6" font-size="8.6" text-anchor="middle" fill="#222" font-weight="bold">2025</text>
<text x="644.76" y="558.6" font-size="8.6" text-anchor="middle" fill="#222" >6</text>
<text x="676.15" y="558.6" font-size="8.6" text-anchor="middle" fill="#222" >13</text>
<text x="715.38" y="558.6" font-size="8.6" text-anchor="middle" fill="#222" >21</text>
<text x="746.77" y="558.6" font-size="8.6" text-anchor="middle" fill="#222" >27</text>
<text x="786.01" y="558.6" font-size="8.6" text-anchor="middle" fill="#222" font-weight="bold">Feb</text>
<text x="825.24" y="558.6" font-size="8.6" text-anchor="middle" fill="#222" >10</text>
<text x="864.48" y="558.6" font-size="8.6" text-anchor="middle" fill="#222" >18</text>
<text x="895.86" y="558.6" font-size="8.6" text-anchor="middle" fill="#222" >24</text>
<text x="935.10" y="558.6" font-size="8.6" text-anchor="middle" fill="#222" font-weight="bold">Mar</text>
<text x="974.33" y="558.6" font-size="8.6" text-anchor="middle" fill="#222" >10</text>
<text x="40.54" y="980.0" font-size="8.6" text-anchor="middle" fill="#222" >16</text>
<text x="79.78" y="980.0" font-size="8.6" text-anchor="middle" fill="#222" >23</text>
<text x="126.86" y="980.0" font-size="8.6" text-anchor="middle" fill="#222" font-weight="bold">Oct</text>
<text x="158.25" y="980.0" font-size="8.6" text-anchor="middle" fill="#222" >7</text>
<text x="197.48" y="980.0" font-size="8.6" text-anchor="middle" fill="#222" >14</text>
<text x="236.72" y="980.0" font-size="8.6" text-anchor="middle" fill="#222" >21</text>
<text x="275.95" y="980.0" font-size="8.6" text-anchor="middle" fill="#222" >28</text>
<text x="307.34" y="980.0" font-size="8.6" text-anchor="middle" fill="#222" font-weight="bold">Nov</text>
<text x="354.42" y="980.0" font-size="8.6" text-anchor="middle" fill="#222" >11</text>
<text x="393.66" y="980.0" font-size="8.6" text-anchor="middle" fill="#222" >18</text>
<text x="432.89" y="980.0" font-size="8.6" text-anchor="middle" fill="#222" >25</text>
<text x="464.28" y="980.0" font-size="8.6" text-anchor="middle" fill="#222" font-weight="bold">Dec</text>
<text x="503.51" y="980.0" font-size="8.6" text-anchor="middle" fill="#222" >9</text>
<text x="542.75" y="980.0" font-size="8.6" text-anchor="middle" fill="#222" >16</text>
<text x="581.98" y="980.0" font-size="8.6" text-anchor="middle" fill="#222" >23</text>
<text x="613.37" y="980.0" font-size="8.6" text-anchor="middle" fill="#222" >30</text>
<text x="628.57" y="980.0" font-size="8.6" text-anchor="middle" fill="#222" font-weight="bold">2025</text>
<text x="644.76" y="980.0" font-size="8.6" text-anchor="middle" fill="#222" >6</text>
<text x="676.15" y="980.0" font-size="8.6" text-anchor="middle" fill="#222" >13</text>
<text x="715.38" y="980.0" font-size="8.6" text-anchor="middle" fill="#222" >21</text>
<text x="746.77" y="980.0" font-size="8.6" text-anchor="middle" fill="#222" >27</text>
<text x="786.01" y="980.0" font-size="8.6" text-anchor="middle" fill="#222" font-weight="bold">Feb</text>
<text x="825.24" y="980.0" font-size="8.6" text-anchor="middle" fill="#222" >10</text>
<text x="864.48" y="980.0" font-size="8.6" text-anchor="middle" fill="#222" >18</text>
<text x="895.86" y="980.0" font-size="8.6" text-anchor="middle" fill="#222" >24</text>
<text x="935.10" y="980.0" font-size="8.6" text-anchor="middle" fill="#222" font-weight="bold">Mar</text>
<text x="974.33" y="980.0" font-size="8.6" text-anchor="middle" fill="#222" >10</text>
<line x1="714.2" x2="714.2" y1="23.2" y2="971.7" stroke="#000" stroke-width="1.85" stroke-dasharray="12.7 2.1 1.4 1.7 1.4 1.98"/>
<line x1="988.5" x2="990.5" y1="41.12" y2="41.12" stroke="#888" stroke-width="0.8"/>
<text x="991" y="43.92" font-size="8.6" fill="#2a2a2a">90</text>
<line x1="988.5" x2="990.5" y1="66.56" y2="66.56" stroke="#888" stroke-width="0.8"/>
<text x="991" y="69.36" font-size="8.6" fill="#2a2a2a">70</text>
<line x1="988.5" x2="990.5" y1="92.00" y2="92.00" stroke="#888" stroke-width="0.8"/>
<text x="991" y="94.80" font-size="8.6" fill="#2a2a2a">50</text>
<line x1="988.5" x2="990.5" y1="117.44" y2="117.44" stroke="#888" stroke-width="0.8"/>
<text x="991" y="120.24" font-size="8.6" fill="#2a2a2a">30</text>
<line x1="988.5" x2="990.5" y1="142.88" y2="142.88" stroke="#888" stroke-width="0.8"/>
<text x="991" y="145.68" font-size="8.6" fill="#2a2a2a">10</text>
<line x1="988.5" x2="990.5" y1="541.54" y2="541.54" stroke="#888" stroke-width="0.8"/>
<text x="991.5" y="544.34" font-size="8.6" fill="#2a2a2a">12.5</text>
<line x1="988.5" x2="990.5" y1="523.99" y2="523.99" stroke="#888" stroke-width="0.8"/>
<text x="991.5" y="526.79" font-size="8.6" fill="#2a2a2a">13.0</text>
<line x1="988.5" x2="990.5" y1="507.10" y2="507.10" stroke="#888" stroke-width="0.8"/>
<text x="991.5" y="509.90" font-size="8.6" fill="#2a2a2a">13.5</text>
<line x1="988.5" x2="990.5" y1="490.82" y2="490.82" stroke="#888" stroke-width="0.8"/>
<text x="991.5" y="493.62" font-size="8.6" fill="#2a2a2a">14.0</text>
<line x1="988.5" x2="990.5" y1="475.12" y2="475.12" stroke="#888" stroke-width="0.8"/>
<text x="991.5" y="477.92" font-size="8.6" fill="#2a2a2a">14.5</text>
<line x1="988.5" x2="990.5" y1="459.95" y2="459.95" stroke="#888" stroke-width="0.8"/>
<text x="991.5" y="462.75" font-size="8.6" fill="#2a2a2a">15.0</text>
<line x1="988.5" x2="990.5" y1="445.27" y2="445.27" stroke="#888" stroke-width="0.8"/>
<text x="991.5" y="448.07" font-size="8.6" fill="#2a2a2a">15.5</text>
<line x1="988.5" x2="990.5" y1="431.07" y2="431.07" stroke="#888" stroke-width="0.8"/>
<text x="991.5" y="433.87" font-size="8.6" fill="#2a2a2a">16.0</text>
<line x1="988.5" x2="990.5" y1="417.30" y2="417.30" stroke="#888" stroke-width="0.8"/>
<text x="991.5" y="420.10" font-size="8.6" fill="#2a2a2a">16.5</text>
<line x1="988.5" x2="990.5" y1="403.94" y2="403.94" stroke="#888" stroke-width="0.8"/>
<text x="991.5" y="406.74" font-size="8.6" fill="#2a2a2a">17.0</text>
<line x1="988.5" x2="990.5" y1="390.97" y2="390.97" stroke="#888" stroke-width="0.8"/>
<text x="991.5" y="393.77" font-size="8.6" fill="#2a2a2a">17.5</text>
<line x1="988.5" x2="990.5" y1="378.36" y2="378.36" stroke="#888" stroke-width="0.8"/>
<text x="991.5" y="381.16" font-size="8.6" fill="#2a2a2a">18.0</text>
<line x1="988.5" x2="990.5" y1="366.10" y2="366.10" stroke="#888" stroke-width="0.8"/>
<text x="991.5" y="368.90" font-size="8.6" fill="#2a2a2a">18.5</text>
<line x1="988.5" x2="990.5" y1="354.16" y2="354.16" stroke="#888" stroke-width="0.8"/>
<text x="991.5" y="356.96" font-size="8.6" fill="#2a2a2a">19.0</text>
<line x1="988.5" x2="990.5" y1="342.54" y2="342.54" stroke="#888" stroke-width="0.8"/>
<text x="991.5" y="345.34" font-size="8.6" fill="#2a2a2a">19.5</text>
<line x1="988.5" x2="990.5" y1="331.21" y2="331.21" stroke="#888" stroke-width="0.8"/>
<text x="991.5" y="334.01" font-size="8.6" fill="#2a2a2a">20.0</text>
<line x1="988.5" x2="990.5" y1="320.16" y2="320.16" stroke="#888" stroke-width="0.8"/>
<text x="991.5" y="322.96" font-size="8.6" fill="#2a2a2a">20.5</text>
<line x1="988.5" x2="990.5" y1="309.38" y2="309.38" stroke="#888" stroke-width="0.8"/>
<text x="991.5" y="312.18" font-size="8.6" fill="#2a2a2a">21.0</text>
<line x1="988.5" x2="990.5" y1="298.85" y2="298.85" stroke="#888" stroke-width="0.8"/>
<text x="991.5" y="301.65" font-size="8.6" fill="#2a2a2a">21.5</text>
<line x1="988.5" x2="990.5" y1="288.56" y2="288.56" stroke="#888" stroke-width="0.8"/>
<text x="991.5" y="291.36" font-size="8.6" fill="#2a2a2a">22.0</text>
<line x1="988.5" x2="990.5" y1="278.50" y2="278.50" stroke="#888" stroke-width="0.8"/>
<text x="991.5" y="281.30" font-size="8.6" fill="#2a2a2a">22.5</text>
<line x1="988.5" x2="990.5" y1="268.67" y2="268.67" stroke="#888" stroke-width="0.8"/>
<text x="991.5" y="271.47" font-size="8.6" fill="#2a2a2a">23.0</text>
<line x1="988.5" x2="990.5" y1="259.04" y2="259.04" stroke="#888" stroke-width="0.8"/>
<text x="991.5" y="261.84" font-size="8.6" fill="#2a2a2a">23.5</text>
<line x1="988.5" x2="990.5" y1="249.62" y2="249.62" stroke="#888" stroke-width="0.8"/>
<text x="991.5" y="252.42" font-size="8.6" fill="#2a2a2a">24.0</text>
<line x1="988.5" x2="990.5" y1="240.39" y2="240.39" stroke="#888" stroke-width="0.8"/>
<text x="991.5" y="243.19" font-size="8.6" fill="#2a2a2a">24.5</text>
<line x1="988.5" x2="990.5" y1="231.35" y2="231.35" stroke="#888" stroke-width="0.8"/>
<text x="991.5" y="234.15" font-size="8.6" fill="#2a2a2a">25.0</text>
<line x1="988.5" x2="990.5" y1="222.49" y2="222.49" stroke="#888" stroke-width="0.8"/>
<text x="991.5" y="225.29" font-size="8.6" fill="#2a2a2a">25.5</text>
<line x1="988.5" x2="990.5" y1="213.80" y2="213.80" stroke="#888" stroke-width="0.8"/>
<text x="991.5" y="216.60" font-size="8.6" fill="#2a2a2a">26.0</text>
<line x1="988.5" x2="990.5" y1="205.28" y2="205.28" stroke="#888" stroke-width="0.8"/>
<text x="991.5" y="208.08" font-size="8.6" fill="#2a2a2a">26.5</text>
<line x1="988.5" x2="990.5" y1="196.91" y2="196.91" stroke="#888" stroke-width="0.8"/>
<text x="991.5" y="199.71" font-size="8.6" fill="#2a2a2a">27.0</text>
<line x1="988.5" x2="990.5" y1="188.70" y2="188.70" stroke="#888" stroke-width="0.8"/>
<text x="991.5" y="191.50" font-size="8.6" fill="#2a2a2a">27.5</text>
<line x1="988.5" x2="990.5" y1="180.64" y2="180.64" stroke="#888" stroke-width="0.8"/>
<text x="991.5" y="183.44" font-size="8.6" fill="#2a2a2a">28.0</text>
<line x1="988.5" x2="990.5" y1="172.72" y2="172.72" stroke="#888" stroke-width="0.8"/>
<text x="991.5" y="175.52" font-size="8.6" fill="#2a2a2a">28.5</text>
<line x1="988.5" x2="990.5" y1="574.60" y2="574.60" stroke="#888" stroke-width="0.8"/>
<text x="993.7" y="577.40" font-size="8.6" fill="#2a2a2a">1.25</text>
<line x1="988.5" x2="990.5" y1="589.20" y2="589.20" stroke="#888" stroke-width="0.8"/>
<text x="993.7" y="592.00" font-size="8.6" fill="#2a2a2a">1.00</text>
<line x1="988.5" x2="990.5" y1="603.80" y2="603.80" stroke="#888" stroke-width="0.8"/>
<text x="993.7" y="606.60" font-size="8.6" fill="#2a2a2a">0.75</text>
<line x1="988.5" x2="990.5" y1="618.40" y2="618.40" stroke="#888" stroke-width="0.8"/>
<text x="993.7" y="621.20" font-size="8.6" fill="#2a2a2a">0.50</text>
<line x1="988.5" x2="990.5" y1="633.00" y2="633.00" stroke="#888" stroke-width="0.8"/>
<text x="993.7" y="635.80" font-size="8.6" fill="#2a2a2a">0.25</text>
<line x1="988.5" x2="990.5" y1="647.60" y2="647.60" stroke="#888" stroke-width="0.8"/>
<text x="993.7" y="650.40" font-size="8.6" fill="#2a2a2a">0.00</text>
<line x1="988.5" x2="990.5" y1="662.20" y2="662.20" stroke="#888" stroke-width="0.8"/>
<text x="991.2" y="665.00" font-size="8.6" fill="#2a2a2a">-0.25</text>
<line x1="988.5" x2="990.5" y1="676.80" y2="676.80" stroke="#888" stroke-width="0.8"/>
<text x="991.2" y="679.60" font-size="8.6" fill="#2a2a2a">-0.50</text>
<line x1="988.5" x2="990.5" y1="691.40" y2="691.40" stroke="#888" stroke-width="0.8"/>
<text x="991.2" y="694.20" font-size="8.6" fill="#2a2a2a">-0.75</text>
<line x1="988.5" x2="990.5" y1="710.00" y2="710.00" stroke="#888" stroke-width="0.8"/>
<text x="993.7" y="712.80" font-size="8.6" fill="#2a2a2a">1.25</text>
<line x1="988.5" x2="990.5" y1="721.80" y2="721.80" stroke="#888" stroke-width="0.8"/>
<text x="993.7" y="724.60" font-size="8.6" fill="#2a2a2a">1.00</text>
<line x1="988.5" x2="990.5" y1="733.60" y2="733.60" stroke="#888" stroke-width="0.8"/>
<text x="993.7" y="736.40" font-size="8.6" fill="#2a2a2a">0.75</text>
<line x1="988.5" x2="990.5" y1="769.00" y2="769.00" stroke="#888" stroke-width="0.8"/>
<text x="993.7" y="771.80" font-size="8.6" fill="#2a2a2a">0.00</text>
<line x1="988.5" x2="990.5" y1="780.80" y2="780.80" stroke="#888" stroke-width="0.8"/>
<text x="991.2" y="783.60" font-size="8.6" fill="#2a2a2a">-0.25</text>
<line x1="988.5" x2="990.5" y1="792.60" y2="792.60" stroke="#888" stroke-width="0.8"/>
<text x="991.2" y="795.40" font-size="8.6" fill="#2a2a2a">-0.50</text>
<line x1="988.5" x2="990.5" y1="804.40" y2="804.40" stroke="#888" stroke-width="0.8"/>
<text x="991.2" y="807.20" font-size="8.6" fill="#2a2a2a">-0.75</text>
<line x1="988.5" x2="990.5" y1="816.20" y2="816.20" stroke="#888" stroke-width="0.8"/>
<text x="991.2" y="819.00" font-size="8.6" fill="#2a2a2a">-1.00</text>
<line x1="988.5" x2="990.5" y1="828.00" y2="828.00" stroke="#888" stroke-width="0.8"/>
<text x="991.2" y="830.80" font-size="8.6" fill="#2a2a2a">-1.25</text>
<line x1="988.5" x2="990.5" y1="866.34" y2="866.34" stroke="#888" stroke-width="0.8"/>
<text x="991" y="869.14" font-size="8.6" fill="#2a2a2a">80</text>
<line x1="988.5" x2="990.5" y1="903.75" y2="903.75" stroke="#888" stroke-width="0.8"/>
<text x="991" y="906.55" font-size="8.6" fill="#2a2a2a">50</text>
<line x1="988.5" x2="990.5" y1="941.16" y2="941.16" stroke="#888" stroke-width="0.8"/>
<text x="991" y="943.96" font-size="8.6" fill="#2a2a2a">20</text>
<path d="M990.3,78.30 H1013.9 V86.90 H990.3 L987.3,82.60Z" fill="#fff" stroke="#111" stroke-width="1"/>
<text x="991.0999999999999" y="85.70" font-size="8.6" fill="#111" >57.21</text>
<path d="M990.3,247.00 H1013.9 V255.60 H990.3 L987.3,251.30Z" fill="#fff" stroke="#333" stroke-width="1"/>
<text x="991.0999999999999" y="254.40" font-size="8.6" fill="#111" >23.91</text>
<path d="M990.3,337.40 H1013.9 V346.00 H990.3 L987.3,341.70Z" fill="#fff" stroke="#111" stroke-width="1.4"/>
<text x="991.0999999999999" y="344.80" font-size="8.6" fill="#111" font-weight="bold">19.54</text>
<path d="M990.3,398.30 H1013.9 V406.90 H990.3 L987.3,402.60Z" fill="#fff" stroke="#e0203a" stroke-width="1"/>
<text x="991.0999999999999" y="405.70" font-size="8.6" fill="#111" >17.06</text>
<path d="M990.3,395.30 H1013.9 V403.90 H990.3 L987.3,399.60Z" fill="#fff" stroke="#222" stroke-width="1"/>
<text x="991.0999999999999" y="402.70" font-size="8.6" fill="#111" >17.18</text>
<path d="M990.3,413.80 H1013.9 V422.40 H990.3 L987.3,418.10Z" fill="#fff" stroke="#2f7078" stroke-width="1"/>
<text x="991.0999999999999" y="421.20" font-size="8.6" fill="#111" >16.47</text>
<path d="M990.3,633.50 H1013.9 V642.10 H990.3 L987.3,637.80Z" fill="#fff" stroke="#5f8fb0" stroke-width="1"/>
<text x="991.0999999999999" y="640.90" font-size="8.6" fill="#111" >0.168</text>
<path d="M990.3,740.70 H1013.9 V749.30 H990.3 L987.3,745.00Z" fill="#fff" stroke="#111" stroke-width="1"/>
<text x="991.0999999999999" y="748.10" font-size="8.6" fill="#111" >0.508</text>
<path d="M990.3,748.70 H1013.9 V757.30 H990.3 L987.3,753.00Z" fill="#fff" stroke="#e8202a" stroke-width="1"/>
<text x="991.0999999999999" y="756.10" font-size="8.6" fill="#111" >0.339</text>
<path d="M990.3,756.60 H1013.9 V765.20 H990.3 L987.3,760.90Z" fill="#fff" stroke="#5f8fb0" stroke-width="1"/>
<text x="991.0999999999999" y="764.00" font-size="8.6" fill="#111" >0.168</text>
<path d="M990.3,923.30 H1013.9 V931.90 H990.3 L987.3,927.60Z" fill="#fff" stroke="#111" stroke-width="1"/>
<text x="991.0999999999999" y="930.70" font-size="8.6" fill="#111" >30.91</text>
<path d="M990.3,932.10 H1013.9 V940.70 H990.3 L987.3,936.40Z" fill="#fff" stroke="#e8202a" stroke-width="1"/>
<text x="991.0999999999999" y="939.50" font-size="8.6" fill="#111" >23.94</text>
<rect x="377" y="249" width="158" height="28" fill="rgba(80,80,90,0.35)"/>
<rect x="375.5" y="247.6" width="158.1" height="27.7" fill="#fff" stroke="#9a9aa2" stroke-width="1"/>
<text x="378.2" y="268.3" font-size="19.5" fill="#111" textLength="145" lengthAdjust="spacingAndGlyphs">VIX - Daily, 4mth</text>
<rect x="690.8" y="276" width="132" height="34.6" fill="rgba(80,80,90,0.35)"/>
<rect x="689.3" y="274.6" width="132.2" height="34.6" fill="#fff" stroke="#9a9aa2" stroke-width="1"/>
<text x="691.4" y="288.4" font-size="12.3" fill="#3c4444" textLength="124.8" lengthAdjust="spacingAndGlyphs">Jan`20th (CLOSED) for</text>
<text x="691.4" y="303.1" font-size="12.3" fill="#3c4444" textLength="103" lengthAdjust="spacingAndGlyphs">Trump inauguration</text>
<text x="13.6" y="10.9" font-size="11.4" font-weight="bold" fill="#111" textLength="22.6" lengthAdjust="spacingAndGlyphs">$VIX</text>
<text x="40.3" y="10.8" font-size="9.3" fill="#222" textLength="134.5" lengthAdjust="spacingAndGlyphs">Volatility Index - New Methodology</text>
<text x="180" y="10.8" font-size="8" fill="#222" textLength="18.7" lengthAdjust="spacingAndGlyphs">INDX</text>
<text x="13.8" y="21.2" font-size="8.4" fill="#222" textLength="46.8" lengthAdjust="spacingAndGlyphs">10-Jan-2025</text>
<text x="914.8" y="10.2" font-size="8.4" fill="#777" textLength="73" lengthAdjust="spacing">&#169;StockCharts.com</text>
<text x="688" y="20.7" font-size="9.1" fill="#111" font-weight="bold">Open</text>
<text x="714.5" y="20.7" font-size="8.5" fill="#111" >18.29</text>
<text x="741.1" y="20.7" font-size="9.1" fill="#111" font-weight="bold">High</text>
<text x="763" y="20.7" font-size="8.5" fill="#111" >20.31</text>
<text x="790.2" y="20.7" font-size="9.1" fill="#111" font-weight="bold">Low</text>
<text x="812.8" y="20.7" font-size="8.5" fill="#111" >18.05</text>
<text x="840" y="20.7" font-size="9.1" fill="#111" font-weight="bold">Close</text>
<text x="868.9" y="20.7" font-size="8.5" fill="#111" >19.54</text>
<text x="895.8" y="20.7" font-size="9.1" fill="#111" font-weight="bold">Chg</text>
<text x="915.4" y="20.7" font-size="8.5" fill="#111" >+1.84</text>
<text x="939.6" y="20.7" font-size="8.5" fill="#111" >(+10.40%)</text>
<path d="M981.8,20.2 L984.8,16.4 L987.8,20.2Z" fill="#666"/>
<path d="M15.4,31.8 L17.4,26.6 L18.9,28.4 L20.2,25.6 L22.9,31.8Z" fill="#5a625f" stroke="#151515" stroke-width="0.9"/>
<text x="25.8" y="32.3" font-family='"DejaVu Sans", Verdana, sans-serif' font-size="7.4" textLength="64.4" lengthAdjust="spacingAndGlyphs" fill="#0c0c0c" stroke="#0c0c0c" stroke-width="0.12">RSI(14) 57.21</text>
<path d="M15,170.2 v-3.2 l1,-1.6 l1.2,1 v3.8z M18.4,170.2 v-4.6 l1.3,-1.2 l1.5,1.4 v4.4z" fill="#111"/>
<text x="26" y="168.6" font-family='"DejaVu Sans", Verdana, sans-serif' font-size="7.4" textLength="82" lengthAdjust="spacingAndGlyphs" fill="#0c0c0c" stroke="#0c0c0c" stroke-width="0.12">$VIX (Daily) 19.54</text>
<path d="M15.3,177.7 L17.6,171.4 L19.2,174 L20.8,170.6 L22.9,177.7Z" fill="#6f93a1"/>
<text x="24.1" y="177.7" font-size="8" textLength="112.9" lengthAdjust="spacingAndGlyphs" fill="#111">BB(20,2.0) 10.45 - 17.18 - 23.91</text>
<line x1="15.5" x2="23" y1="183.6" y2="183.6" stroke="#e0103a" stroke-width="1.6"/>
<text x="24.1" y="186.7" font-size="8" textLength="48.2" lengthAdjust="spacingAndGlyphs" fill="#e0103a">MA(10) 17.06</text>
<line x1="15.5" x2="23" y1="192.4" y2="192.4" stroke="#2f6a74" stroke-width="1.6"/>
<text x="24.1" y="195.5" font-size="8" textLength="48.2" lengthAdjust="spacingAndGlyphs" fill="#2f6a74">MA(50) 16.47</text>
<path d="M15.4,573 v-4.5 h1.6 v4.5z M17.9,573 v-7.4 h1.6 v7.4z M20.4,573 v-5.6 h1.6 v5.6z" fill="#4f8fb0"/>
<text x="25.7" y="570.2" font-family='"DejaVu Sans", Verdana, sans-serif' font-size="7.4" textLength="118.5" lengthAdjust="spacingAndGlyphs" fill="#0c0c0c" stroke="#0c0c0c" stroke-width="0.12">MACD(12,26,9) Hist 0.168</text>
<line x1="15.8" x2="22.6" y1="704.3" y2="704.3" stroke="#000" stroke-width="1.6"/>
<text x="25.75" y="707.4" font-family='"DejaVu Sans", Verdana, sans-serif' font-size="7.4" textLength="98.5" lengthAdjust="spacingAndGlyphs" fill="#0c0c0c" stroke="#0c0c0c" stroke-width="0.12">MACD(12,26,9) 0.508</text>
<text x="124.6" y="707.4" font-family='"DejaVu Sans", Verdana, sans-serif' font-size="7.4" textLength="32.9" lengthAdjust="spacingAndGlyphs" fill="#e8202a" stroke="#e8202a" stroke-width="0.12">, 0.339</text>
<text x="157.9" y="707.4" font-family='"DejaVu Sans", Verdana, sans-serif' font-size="7.4" textLength="31.6" lengthAdjust="spacingAndGlyphs" fill="#4a90d0" stroke="#4a90d0" stroke-width="0.12">, 0.168</text>
<line x1="15.8" x2="22.6" y1="841.3" y2="841.3" stroke="#000" stroke-width="1.6"/>
<text x="25.75" y="844.4" font-family='"DejaVu Sans", Verdana, sans-serif' font-size="7.4" textLength="146.75" lengthAdjust="spacingAndGlyphs" fill="#0c0c0c" stroke="#0c0c0c" stroke-width="0.12">Full STO %K(14,3) %D(3) 30.91</text>
<text x="172.8" y="844.4" font-family='"DejaVu Sans", Verdana, sans-serif' font-size="7.4" textLength="31.7" lengthAdjust="spacingAndGlyphs" fill="#e8202a" stroke="#e8202a" stroke-width="0.12">, 23.94</text>
</svg></body></html>
